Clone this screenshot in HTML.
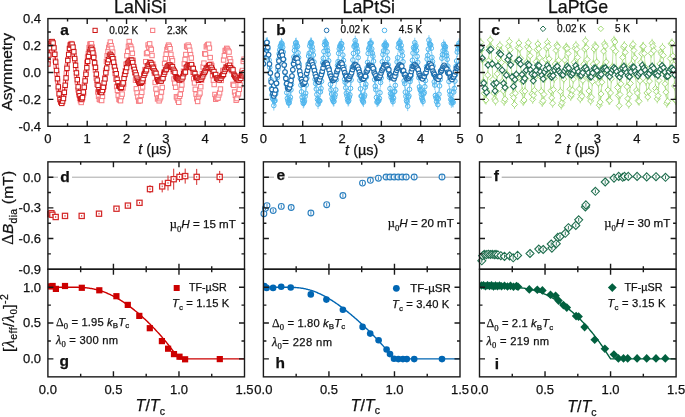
<!DOCTYPE html>
<html><head><meta charset="utf-8"><style>
html,body{margin:0;padding:0;background:#fff;width:685px;height:417px;overflow:hidden}
svg{display:block;font-family:"Liberation Sans",sans-serif;will-change:transform}
</style></head><body><svg width="685" height="417" viewBox="0 0 685 417"><defs><clipPath id="c01"><rect x="47.9" y="18.6" width="196.6" height="107.7"/></clipPath><clipPath id="c02"><rect x="47.9" y="161.85" width="196.6" height="107.4"/></clipPath><clipPath id="c03"><rect x="47.9" y="269.25" width="196.6" height="107.6"/></clipPath><clipPath id="c11"><rect x="263.4" y="18.6" width="196.6" height="107.7"/></clipPath><clipPath id="c12"><rect x="263.4" y="161.85" width="196.6" height="107.4"/></clipPath><clipPath id="c13"><rect x="263.4" y="269.25" width="196.6" height="107.6"/></clipPath><clipPath id="c21"><rect x="479.5" y="18.6" width="196.6" height="107.7"/></clipPath><clipPath id="c22"><rect x="479.5" y="161.85" width="196.6" height="107.4"/></clipPath><clipPath id="c23"><rect x="479.5" y="269.25" width="196.6" height="107.6"/></clipPath></defs><rect width="685" height="417" fill="#fff"/><g clip-path="url(#c01)"><rect x="46.01" y="58.89" width="4.4" height="4.4" fill="#fff" stroke="#f77c82" stroke-width="1.0"/><rect x="46.8" y="52.33" width="4.4" height="4.4" fill="#fff" stroke="#f77c82" stroke-width="1.0"/><rect x="47.59" y="47.61" width="4.4" height="4.4" fill="#fff" stroke="#f77c82" stroke-width="1.0"/><rect x="48.37" y="44.4" width="4.4" height="4.4" fill="#fff" stroke="#f77c82" stroke-width="1.0"/><rect x="49.16" y="42.02" width="4.4" height="4.4" fill="#fff" stroke="#f77c82" stroke-width="1.0"/><rect x="49.95" y="42.29" width="4.4" height="4.4" fill="#fff" stroke="#f77c82" stroke-width="1.0"/><rect x="50.73" y="43.07" width="4.4" height="4.4" fill="#fff" stroke="#f77c82" stroke-width="1.0"/><rect x="51.52" y="45.38" width="4.4" height="4.4" fill="#fff" stroke="#f77c82" stroke-width="1.0"/><rect x="52.31" y="51.86" width="4.4" height="4.4" fill="#fff" stroke="#f77c82" stroke-width="1.0"/><rect x="53.09" y="58.09" width="4.4" height="4.4" fill="#fff" stroke="#f77c82" stroke-width="1.0"/><rect x="53.88" y="64.08" width="4.4" height="4.4" fill="#fff" stroke="#f77c82" stroke-width="1.0"/><rect x="54.66" y="71.5" width="4.4" height="4.4" fill="#fff" stroke="#f77c82" stroke-width="1.0"/><rect x="55.45" y="78.92" width="4.4" height="4.4" fill="#fff" stroke="#f77c82" stroke-width="1.0"/><rect x="56.24" y="86.47" width="4.4" height="4.4" fill="#fff" stroke="#f77c82" stroke-width="1.0"/><rect x="57.02" y="91.34" width="4.4" height="4.4" fill="#fff" stroke="#f77c82" stroke-width="1.0"/><rect x="57.81" y="94.99" width="4.4" height="4.4" fill="#fff" stroke="#f77c82" stroke-width="1.0"/><rect x="58.6" y="99.5" width="4.4" height="4.4" fill="#fff" stroke="#f77c82" stroke-width="1.0"/><rect x="59.38" y="99.59" width="4.4" height="4.4" fill="#fff" stroke="#f77c82" stroke-width="1.0"/><rect x="60.17" y="99.92" width="4.4" height="4.4" fill="#fff" stroke="#f77c82" stroke-width="1.0"/><rect x="60.96" y="96.61" width="4.4" height="4.4" fill="#fff" stroke="#f77c82" stroke-width="1.0"/><rect x="61.74" y="92.75" width="4.4" height="4.4" fill="#fff" stroke="#f77c82" stroke-width="1.0"/><rect x="62.53" y="85.56" width="4.4" height="4.4" fill="#fff" stroke="#f77c82" stroke-width="1.0"/><rect x="63.32" y="79.85" width="4.4" height="4.4" fill="#fff" stroke="#f77c82" stroke-width="1.0"/><rect x="64.1" y="71.2" width="4.4" height="4.4" fill="#fff" stroke="#f77c82" stroke-width="1.0"/><rect x="64.89" y="64.02" width="4.4" height="4.4" fill="#fff" stroke="#f77c82" stroke-width="1.0"/><rect x="65.67" y="57.44" width="4.4" height="4.4" fill="#fff" stroke="#f77c82" stroke-width="1.0"/><rect x="66.46" y="53.59" width="4.4" height="4.4" fill="#fff" stroke="#f77c82" stroke-width="1.0"/><rect x="67.25" y="46.87" width="4.4" height="4.4" fill="#fff" stroke="#f77c82" stroke-width="1.0"/><rect x="68.03" y="43.09" width="4.4" height="4.4" fill="#fff" stroke="#f77c82" stroke-width="1.0"/><rect x="68.82" y="41.37" width="4.4" height="4.4" fill="#fff" stroke="#f77c82" stroke-width="1.0"/><rect x="69.61" y="43.25" width="4.4" height="4.4" fill="#fff" stroke="#f77c82" stroke-width="1.0"/><rect x="70.39" y="44.33" width="4.4" height="4.4" fill="#fff" stroke="#f77c82" stroke-width="1.0"/><rect x="71.18" y="48.62" width="4.4" height="4.4" fill="#fff" stroke="#f77c82" stroke-width="1.0"/><rect x="71.97" y="53.7" width="4.4" height="4.4" fill="#fff" stroke="#f77c82" stroke-width="1.0"/><rect x="72.75" y="58.19" width="4.4" height="4.4" fill="#fff" stroke="#f77c82" stroke-width="1.0"/><rect x="73.54" y="67.11" width="4.4" height="4.4" fill="#fff" stroke="#f77c82" stroke-width="1.0"/><rect x="74.32" y="73.64" width="4.4" height="4.4" fill="#fff" stroke="#f77c82" stroke-width="1.0"/><rect x="75.11" y="79.8" width="4.4" height="4.4" fill="#fff" stroke="#f77c82" stroke-width="1.0"/><rect x="75.9" y="87.7" width="4.4" height="4.4" fill="#fff" stroke="#f77c82" stroke-width="1.0"/><rect x="76.68" y="92.56" width="4.4" height="4.4" fill="#fff" stroke="#f77c82" stroke-width="1.0"/><rect x="77.47" y="96.24" width="4.4" height="4.4" fill="#fff" stroke="#f77c82" stroke-width="1.0"/><rect x="78.26" y="98.52" width="4.4" height="4.4" fill="#fff" stroke="#f77c82" stroke-width="1.0"/><rect x="79.04" y="100.27" width="4.4" height="4.4" fill="#fff" stroke="#f77c82" stroke-width="1.0"/><rect x="79.83" y="97.5" width="4.4" height="4.4" fill="#fff" stroke="#f77c82" stroke-width="1.0"/><rect x="80.62" y="92.98" width="4.4" height="4.4" fill="#fff" stroke="#f77c82" stroke-width="1.0"/><rect x="81.4" y="91.31" width="4.4" height="4.4" fill="#fff" stroke="#f77c82" stroke-width="1.0"/><rect x="82.19" y="82.81" width="4.4" height="4.4" fill="#fff" stroke="#f77c82" stroke-width="1.0"/><rect x="82.98" y="76.76" width="4.4" height="4.4" fill="#fff" stroke="#f77c82" stroke-width="1.0"/><rect x="83.76" y="70.33" width="4.4" height="4.4" fill="#fff" stroke="#f77c82" stroke-width="1.0"/><rect x="84.55" y="60.29" width="4.4" height="4.4" fill="#fff" stroke="#f77c82" stroke-width="1.0"/><rect x="85.33" y="54.91" width="4.4" height="4.4" fill="#fff" stroke="#f77c82" stroke-width="1.0"/><rect x="86.12" y="51.27" width="4.4" height="4.4" fill="#fff" stroke="#f77c82" stroke-width="1.0"/><rect x="86.91" y="45.42" width="4.4" height="4.4" fill="#fff" stroke="#f77c82" stroke-width="1.0"/><rect x="87.69" y="41.99" width="4.4" height="4.4" fill="#fff" stroke="#f77c82" stroke-width="1.0"/><rect x="88.48" y="41.73" width="4.4" height="4.4" fill="#fff" stroke="#f77c82" stroke-width="1.0"/><rect x="89.27" y="41.5" width="4.4" height="4.4" fill="#fff" stroke="#f77c82" stroke-width="1.0"/><rect x="90.05" y="44.86" width="4.4" height="4.4" fill="#fff" stroke="#f77c82" stroke-width="1.0"/><rect x="90.84" y="48.2" width="4.4" height="4.4" fill="#fff" stroke="#f77c82" stroke-width="1.0"/><rect x="91.63" y="52.85" width="4.4" height="4.4" fill="#fff" stroke="#f77c82" stroke-width="1.0"/><rect x="92.41" y="61.76" width="4.4" height="4.4" fill="#fff" stroke="#f77c82" stroke-width="1.0"/><rect x="93.2" y="67.89" width="4.4" height="4.4" fill="#fff" stroke="#f77c82" stroke-width="1.0"/><rect x="93.98" y="75.9" width="4.4" height="4.4" fill="#fff" stroke="#f77c82" stroke-width="1.0"/><rect x="94.77" y="82.14" width="4.4" height="4.4" fill="#fff" stroke="#f77c82" stroke-width="1.0"/><rect x="95.56" y="89.8" width="4.4" height="4.4" fill="#fff" stroke="#f77c82" stroke-width="1.0"/><rect x="96.34" y="94.08" width="4.4" height="4.4" fill="#fff" stroke="#f77c82" stroke-width="1.0"/><rect x="97.13" y="97.13" width="4.4" height="4.4" fill="#fff" stroke="#f77c82" stroke-width="1.0"/><rect x="97.92" y="97.63" width="4.4" height="4.4" fill="#fff" stroke="#f77c82" stroke-width="1.0"/><rect x="98.7" y="97.29" width="4.4" height="4.4" fill="#fff" stroke="#f77c82" stroke-width="1.0"/><rect x="99.49" y="98.33" width="4.4" height="4.4" fill="#fff" stroke="#f77c82" stroke-width="1.0"/><rect x="100.28" y="94.15" width="4.4" height="4.4" fill="#fff" stroke="#f77c82" stroke-width="1.0"/><rect x="101.06" y="87.41" width="4.4" height="4.4" fill="#fff" stroke="#f77c82" stroke-width="1.0"/><rect x="101.85" y="84.38" width="4.4" height="4.4" fill="#fff" stroke="#f77c82" stroke-width="1.0"/><rect x="102.64" y="75.64" width="4.4" height="4.4" fill="#fff" stroke="#f77c82" stroke-width="1.0"/><rect x="103.42" y="67.97" width="4.4" height="4.4" fill="#fff" stroke="#f77c82" stroke-width="1.0"/><rect x="104.21" y="59.27" width="4.4" height="4.4" fill="#fff" stroke="#f77c82" stroke-width="1.0"/><rect x="104.99" y="53.49" width="4.4" height="4.4" fill="#fff" stroke="#f77c82" stroke-width="1.0"/><rect x="105.78" y="49.29" width="4.4" height="4.4" fill="#fff" stroke="#f77c82" stroke-width="1.0"/><rect x="106.57" y="45.28" width="4.4" height="4.4" fill="#fff" stroke="#f77c82" stroke-width="1.0"/><rect x="107.35" y="42.71" width="4.4" height="4.4" fill="#fff" stroke="#f77c82" stroke-width="1.0"/><rect x="108.14" y="39.88" width="4.4" height="4.4" fill="#fff" stroke="#f77c82" stroke-width="1.0"/><rect x="108.93" y="43.47" width="4.4" height="4.4" fill="#fff" stroke="#f77c82" stroke-width="1.0"/><rect x="109.71" y="46.25" width="4.4" height="4.4" fill="#fff" stroke="#f77c82" stroke-width="1.0"/><rect x="110.5" y="49.92" width="4.4" height="4.4" fill="#fff" stroke="#f77c82" stroke-width="1.0"/><rect x="111.29" y="56.28" width="4.4" height="4.4" fill="#fff" stroke="#f77c82" stroke-width="1.0"/><rect x="112.07" y="63.04" width="4.4" height="4.4" fill="#fff" stroke="#f77c82" stroke-width="1.0"/><rect x="112.86" y="71.33" width="4.4" height="4.4" fill="#fff" stroke="#f77c82" stroke-width="1.0"/><rect x="113.64" y="77.09" width="4.4" height="4.4" fill="#fff" stroke="#f77c82" stroke-width="1.0"/><rect x="114.43" y="84.34" width="4.4" height="4.4" fill="#fff" stroke="#f77c82" stroke-width="1.0"/><rect x="115.22" y="88.12" width="4.4" height="4.4" fill="#fff" stroke="#f77c82" stroke-width="1.0"/><rect x="116" y="93.36" width="4.4" height="4.4" fill="#fff" stroke="#f77c82" stroke-width="1.0"/><rect x="116.79" y="97.28" width="4.4" height="4.4" fill="#fff" stroke="#f77c82" stroke-width="1.0"/><rect x="117.58" y="97.7" width="4.4" height="4.4" fill="#fff" stroke="#f77c82" stroke-width="1.0"/><rect x="118.36" y="98.52" width="4.4" height="4.4" fill="#fff" stroke="#f77c82" stroke-width="1.0"/><rect x="119.15" y="94.41" width="4.4" height="4.4" fill="#fff" stroke="#f77c82" stroke-width="1.0"/><rect x="119.94" y="91.89" width="4.4" height="4.4" fill="#fff" stroke="#f77c82" stroke-width="1.0"/><rect x="120.72" y="85.81" width="4.4" height="4.4" fill="#fff" stroke="#f77c82" stroke-width="1.0"/><rect x="121.51" y="81.96" width="4.4" height="4.4" fill="#fff" stroke="#f77c82" stroke-width="1.0"/><rect x="122.3" y="72.81" width="4.4" height="4.4" fill="#fff" stroke="#f77c82" stroke-width="1.0"/><rect x="123.08" y="68.37" width="4.4" height="4.4" fill="#fff" stroke="#f77c82" stroke-width="1.0"/><rect x="123.87" y="61.96" width="4.4" height="4.4" fill="#fff" stroke="#f77c82" stroke-width="1.0"/><rect x="124.65" y="53.46" width="4.4" height="4.4" fill="#fff" stroke="#f77c82" stroke-width="1.0"/><rect x="125.44" y="49.2" width="4.4" height="4.4" fill="#fff" stroke="#f77c82" stroke-width="1.0"/><rect x="126.23" y="44.13" width="4.4" height="4.4" fill="#fff" stroke="#f77c82" stroke-width="1.0"/><rect x="127.01" y="39.31" width="4.4" height="4.4" fill="#fff" stroke="#f77c82" stroke-width="1.0"/><rect x="127.8" y="43.33" width="4.4" height="4.4" fill="#fff" stroke="#f77c82" stroke-width="1.0"/><rect x="128.59" y="44.66" width="4.4" height="4.4" fill="#fff" stroke="#f77c82" stroke-width="1.0"/><rect x="129.37" y="46.83" width="4.4" height="4.4" fill="#fff" stroke="#f77c82" stroke-width="1.0"/><rect x="130.16" y="51.21" width="4.4" height="4.4" fill="#fff" stroke="#f77c82" stroke-width="1.0"/><rect x="130.95" y="58.09" width="4.4" height="4.4" fill="#fff" stroke="#f77c82" stroke-width="1.0"/><rect x="131.73" y="64.88" width="4.4" height="4.4" fill="#fff" stroke="#f77c82" stroke-width="1.0"/><rect x="132.52" y="70.71" width="4.4" height="4.4" fill="#fff" stroke="#f77c82" stroke-width="1.0"/><rect x="133.3" y="77.96" width="4.4" height="4.4" fill="#fff" stroke="#f77c82" stroke-width="1.0"/><rect x="134.09" y="86.6" width="4.4" height="4.4" fill="#fff" stroke="#f77c82" stroke-width="1.0"/><rect x="134.88" y="90.74" width="4.4" height="4.4" fill="#fff" stroke="#f77c82" stroke-width="1.0"/><rect x="135.66" y="94.76" width="4.4" height="4.4" fill="#fff" stroke="#f77c82" stroke-width="1.0"/><rect x="136.45" y="98.92" width="4.4" height="4.4" fill="#fff" stroke="#f77c82" stroke-width="1.0"/><rect x="137.24" y="97.9" width="4.4" height="4.4" fill="#fff" stroke="#f77c82" stroke-width="1.0"/><rect x="138.02" y="98.57" width="4.4" height="4.4" fill="#fff" stroke="#f77c82" stroke-width="1.0"/><rect x="138.81" y="93.25" width="4.4" height="4.4" fill="#fff" stroke="#f77c82" stroke-width="1.0"/><rect x="139.6" y="90.15" width="4.4" height="4.4" fill="#fff" stroke="#f77c82" stroke-width="1.0"/><rect x="140.38" y="84.78" width="4.4" height="4.4" fill="#fff" stroke="#f77c82" stroke-width="1.0"/><rect x="141.17" y="79.32" width="4.4" height="4.4" fill="#fff" stroke="#f77c82" stroke-width="1.0"/><rect x="141.96" y="71.66" width="4.4" height="4.4" fill="#fff" stroke="#f77c82" stroke-width="1.0"/><rect x="142.74" y="67.38" width="4.4" height="4.4" fill="#fff" stroke="#f77c82" stroke-width="1.0"/><rect x="143.53" y="59.45" width="4.4" height="4.4" fill="#fff" stroke="#f77c82" stroke-width="1.0"/><rect x="144.31" y="51.39" width="4.4" height="4.4" fill="#fff" stroke="#f77c82" stroke-width="1.0"/><rect x="145.1" y="50.42" width="4.4" height="4.4" fill="#fff" stroke="#f77c82" stroke-width="1.0"/><rect x="145.89" y="42.79" width="4.4" height="4.4" fill="#fff" stroke="#f77c82" stroke-width="1.0"/><rect x="146.67" y="45.16" width="4.4" height="4.4" fill="#fff" stroke="#f77c82" stroke-width="1.0"/><rect x="147.46" y="41.67" width="4.4" height="4.4" fill="#fff" stroke="#f77c82" stroke-width="1.0"/><rect x="148.25" y="46.11" width="4.4" height="4.4" fill="#fff" stroke="#f77c82" stroke-width="1.0"/><rect x="149.03" y="47.3" width="4.4" height="4.4" fill="#fff" stroke="#f77c82" stroke-width="1.0"/><rect x="149.82" y="53.31" width="4.4" height="4.4" fill="#fff" stroke="#f77c82" stroke-width="1.0"/><rect x="150.61" y="61.96" width="4.4" height="4.4" fill="#fff" stroke="#f77c82" stroke-width="1.0"/><rect x="151.39" y="64.48" width="4.4" height="4.4" fill="#fff" stroke="#f77c82" stroke-width="1.0"/><rect x="152.18" y="71.19" width="4.4" height="4.4" fill="#fff" stroke="#f77c82" stroke-width="1.0"/><rect x="152.96" y="80.31" width="4.4" height="4.4" fill="#fff" stroke="#f77c82" stroke-width="1.0"/><rect x="153.75" y="86.79" width="4.4" height="4.4" fill="#fff" stroke="#f77c82" stroke-width="1.0"/><rect x="154.54" y="91.73" width="4.4" height="4.4" fill="#fff" stroke="#f77c82" stroke-width="1.0"/><rect x="155.32" y="96.75" width="4.4" height="4.4" fill="#fff" stroke="#f77c82" stroke-width="1.0"/><rect x="156.11" y="95.66" width="4.4" height="4.4" fill="#fff" stroke="#f77c82" stroke-width="1.0"/><rect x="156.9" y="98.63" width="4.4" height="4.4" fill="#fff" stroke="#f77c82" stroke-width="1.0"/><rect x="157.68" y="96.5" width="4.4" height="4.4" fill="#fff" stroke="#f77c82" stroke-width="1.0"/><rect x="158.47" y="94.64" width="4.4" height="4.4" fill="#fff" stroke="#f77c82" stroke-width="1.0"/><rect x="159.26" y="89.87" width="4.4" height="4.4" fill="#fff" stroke="#f77c82" stroke-width="1.0"/><rect x="160.04" y="85.21" width="4.4" height="4.4" fill="#fff" stroke="#f77c82" stroke-width="1.0"/><rect x="160.83" y="74.65" width="4.4" height="4.4" fill="#fff" stroke="#f77c82" stroke-width="1.0"/><rect x="161.62" y="69.99" width="4.4" height="4.4" fill="#fff" stroke="#f77c82" stroke-width="1.0"/><rect x="162.4" y="61.31" width="4.4" height="4.4" fill="#fff" stroke="#f77c82" stroke-width="1.0"/><rect x="163.19" y="56.45" width="4.4" height="4.4" fill="#fff" stroke="#f77c82" stroke-width="1.0"/><rect x="163.97" y="52.09" width="4.4" height="4.4" fill="#fff" stroke="#f77c82" stroke-width="1.0"/><rect x="164.76" y="47.24" width="4.4" height="4.4" fill="#fff" stroke="#f77c82" stroke-width="1.0"/><rect x="165.55" y="44.88" width="4.4" height="4.4" fill="#fff" stroke="#f77c82" stroke-width="1.0"/><rect x="166.33" y="42.89" width="4.4" height="4.4" fill="#fff" stroke="#f77c82" stroke-width="1.0"/><rect x="167.12" y="44.22" width="4.4" height="4.4" fill="#fff" stroke="#f77c82" stroke-width="1.0"/><rect x="167.91" y="46.5" width="4.4" height="4.4" fill="#fff" stroke="#f77c82" stroke-width="1.0"/><rect x="168.69" y="52.23" width="4.4" height="4.4" fill="#fff" stroke="#f77c82" stroke-width="1.0"/><rect x="169.48" y="56.53" width="4.4" height="4.4" fill="#fff" stroke="#f77c82" stroke-width="1.0"/><rect x="170.27" y="58.65" width="4.4" height="4.4" fill="#fff" stroke="#f77c82" stroke-width="1.0"/><rect x="171.05" y="69.28" width="4.4" height="4.4" fill="#fff" stroke="#f77c82" stroke-width="1.0"/><rect x="171.84" y="76.8" width="4.4" height="4.4" fill="#fff" stroke="#f77c82" stroke-width="1.0"/><rect x="172.62" y="81.04" width="4.4" height="4.4" fill="#fff" stroke="#f77c82" stroke-width="1.0"/><rect x="173.41" y="85.06" width="4.4" height="4.4" fill="#fff" stroke="#f77c82" stroke-width="1.0"/><rect x="174.2" y="94.6" width="4.4" height="4.4" fill="#fff" stroke="#f77c82" stroke-width="1.0"/><rect x="174.98" y="95.81" width="4.4" height="4.4" fill="#fff" stroke="#f77c82" stroke-width="1.0"/><rect x="175.77" y="98.22" width="4.4" height="4.4" fill="#fff" stroke="#f77c82" stroke-width="1.0"/><rect x="176.56" y="100.11" width="4.4" height="4.4" fill="#fff" stroke="#f77c82" stroke-width="1.0"/><rect x="177.34" y="94.09" width="4.4" height="4.4" fill="#fff" stroke="#f77c82" stroke-width="1.0"/><rect x="178.13" y="92.03" width="4.4" height="4.4" fill="#fff" stroke="#f77c82" stroke-width="1.0"/><rect x="178.92" y="87.12" width="4.4" height="4.4" fill="#fff" stroke="#f77c82" stroke-width="1.0"/><rect x="179.7" y="82.71" width="4.4" height="4.4" fill="#fff" stroke="#f77c82" stroke-width="1.0"/><rect x="180.49" y="74.09" width="4.4" height="4.4" fill="#fff" stroke="#f77c82" stroke-width="1.0"/><rect x="181.28" y="68.99" width="4.4" height="4.4" fill="#fff" stroke="#f77c82" stroke-width="1.0"/><rect x="182.06" y="61.64" width="4.4" height="4.4" fill="#fff" stroke="#f77c82" stroke-width="1.0"/><rect x="182.85" y="57.24" width="4.4" height="4.4" fill="#fff" stroke="#f77c82" stroke-width="1.0"/><rect x="183.63" y="52.31" width="4.4" height="4.4" fill="#fff" stroke="#f77c82" stroke-width="1.0"/><rect x="184.42" y="44" width="4.4" height="4.4" fill="#fff" stroke="#f77c82" stroke-width="1.0"/><rect x="185.21" y="44.95" width="4.4" height="4.4" fill="#fff" stroke="#f77c82" stroke-width="1.0"/><rect x="185.99" y="42.93" width="4.4" height="4.4" fill="#fff" stroke="#f77c82" stroke-width="1.0"/><rect x="186.78" y="44.62" width="4.4" height="4.4" fill="#fff" stroke="#f77c82" stroke-width="1.0"/><rect x="187.57" y="48.09" width="4.4" height="4.4" fill="#fff" stroke="#f77c82" stroke-width="1.0"/><rect x="188.35" y="52.43" width="4.4" height="4.4" fill="#fff" stroke="#f77c82" stroke-width="1.0"/><rect x="189.14" y="55.8" width="4.4" height="4.4" fill="#fff" stroke="#f77c82" stroke-width="1.0"/><rect x="189.93" y="63.72" width="4.4" height="4.4" fill="#fff" stroke="#f77c82" stroke-width="1.0"/><rect x="190.71" y="70.15" width="4.4" height="4.4" fill="#fff" stroke="#f77c82" stroke-width="1.0"/><rect x="191.5" y="76.54" width="4.4" height="4.4" fill="#fff" stroke="#f77c82" stroke-width="1.0"/><rect x="192.28" y="80.74" width="4.4" height="4.4" fill="#fff" stroke="#f77c82" stroke-width="1.0"/><rect x="193.07" y="87.1" width="4.4" height="4.4" fill="#fff" stroke="#f77c82" stroke-width="1.0"/><rect x="193.86" y="91.94" width="4.4" height="4.4" fill="#fff" stroke="#f77c82" stroke-width="1.0"/><rect x="194.64" y="96.52" width="4.4" height="4.4" fill="#fff" stroke="#f77c82" stroke-width="1.0"/><rect x="195.43" y="99.27" width="4.4" height="4.4" fill="#fff" stroke="#f77c82" stroke-width="1.0"/><rect x="196.22" y="94.53" width="4.4" height="4.4" fill="#fff" stroke="#f77c82" stroke-width="1.0"/><rect x="197" y="92.36" width="4.4" height="4.4" fill="#fff" stroke="#f77c82" stroke-width="1.0"/><rect x="197.79" y="90.75" width="4.4" height="4.4" fill="#fff" stroke="#f77c82" stroke-width="1.0"/><rect x="198.58" y="84.55" width="4.4" height="4.4" fill="#fff" stroke="#f77c82" stroke-width="1.0"/><rect x="199.36" y="78.18" width="4.4" height="4.4" fill="#fff" stroke="#f77c82" stroke-width="1.0"/><rect x="200.15" y="71.59" width="4.4" height="4.4" fill="#fff" stroke="#f77c82" stroke-width="1.0"/><rect x="200.94" y="64.74" width="4.4" height="4.4" fill="#fff" stroke="#f77c82" stroke-width="1.0"/><rect x="201.72" y="60.9" width="4.4" height="4.4" fill="#fff" stroke="#f77c82" stroke-width="1.0"/><rect x="202.51" y="51.44" width="4.4" height="4.4" fill="#fff" stroke="#f77c82" stroke-width="1.0"/><rect x="203.29" y="51.92" width="4.4" height="4.4" fill="#fff" stroke="#f77c82" stroke-width="1.0"/><rect x="204.08" y="44.55" width="4.4" height="4.4" fill="#fff" stroke="#f77c82" stroke-width="1.0"/><rect x="204.87" y="43.4" width="4.4" height="4.4" fill="#fff" stroke="#f77c82" stroke-width="1.0"/><rect x="205.65" y="42.5" width="4.4" height="4.4" fill="#fff" stroke="#f77c82" stroke-width="1.0"/><rect x="206.44" y="42.07" width="4.4" height="4.4" fill="#fff" stroke="#f77c82" stroke-width="1.0"/><rect x="207.23" y="45.88" width="4.4" height="4.4" fill="#fff" stroke="#f77c82" stroke-width="1.0"/><rect x="208.01" y="55.36" width="4.4" height="4.4" fill="#fff" stroke="#f77c82" stroke-width="1.0"/><rect x="208.8" y="61.94" width="4.4" height="4.4" fill="#fff" stroke="#f77c82" stroke-width="1.0"/><rect x="209.59" y="63.36" width="4.4" height="4.4" fill="#fff" stroke="#f77c82" stroke-width="1.0"/><rect x="210.37" y="73.48" width="4.4" height="4.4" fill="#fff" stroke="#f77c82" stroke-width="1.0"/><rect x="211.16" y="78.03" width="4.4" height="4.4" fill="#fff" stroke="#f77c82" stroke-width="1.0"/><rect x="211.94" y="82.35" width="4.4" height="4.4" fill="#fff" stroke="#f77c82" stroke-width="1.0"/><rect x="212.73" y="92.28" width="4.4" height="4.4" fill="#fff" stroke="#f77c82" stroke-width="1.0"/><rect x="213.52" y="97.07" width="4.4" height="4.4" fill="#fff" stroke="#f77c82" stroke-width="1.0"/><rect x="214.3" y="94.84" width="4.4" height="4.4" fill="#fff" stroke="#f77c82" stroke-width="1.0"/><rect x="215.09" y="96.06" width="4.4" height="4.4" fill="#fff" stroke="#f77c82" stroke-width="1.0"/><rect x="215.88" y="95.77" width="4.4" height="4.4" fill="#fff" stroke="#f77c82" stroke-width="1.0"/><rect x="216.66" y="92.74" width="4.4" height="4.4" fill="#fff" stroke="#f77c82" stroke-width="1.0"/><rect x="217.45" y="90.62" width="4.4" height="4.4" fill="#fff" stroke="#f77c82" stroke-width="1.0"/><rect x="218.24" y="86.84" width="4.4" height="4.4" fill="#fff" stroke="#f77c82" stroke-width="1.0"/><rect x="219.02" y="78.21" width="4.4" height="4.4" fill="#fff" stroke="#f77c82" stroke-width="1.0"/><rect x="219.81" y="73.4" width="4.4" height="4.4" fill="#fff" stroke="#f77c82" stroke-width="1.0"/><rect x="220.6" y="68.26" width="4.4" height="4.4" fill="#fff" stroke="#f77c82" stroke-width="1.0"/><rect x="221.38" y="57.81" width="4.4" height="4.4" fill="#fff" stroke="#f77c82" stroke-width="1.0"/><rect x="222.17" y="53.56" width="4.4" height="4.4" fill="#fff" stroke="#f77c82" stroke-width="1.0"/><rect x="222.95" y="48.31" width="4.4" height="4.4" fill="#fff" stroke="#f77c82" stroke-width="1.0"/><rect x="223.74" y="48.2" width="4.4" height="4.4" fill="#fff" stroke="#f77c82" stroke-width="1.0"/><rect x="224.53" y="46.14" width="4.4" height="4.4" fill="#fff" stroke="#f77c82" stroke-width="1.0"/><rect x="225.31" y="47.07" width="4.4" height="4.4" fill="#fff" stroke="#f77c82" stroke-width="1.0"/><rect x="226.1" y="48.7" width="4.4" height="4.4" fill="#fff" stroke="#f77c82" stroke-width="1.0"/><rect x="226.89" y="49.83" width="4.4" height="4.4" fill="#fff" stroke="#f77c82" stroke-width="1.0"/><rect x="227.67" y="56.46" width="4.4" height="4.4" fill="#fff" stroke="#f77c82" stroke-width="1.0"/><rect x="228.46" y="59.71" width="4.4" height="4.4" fill="#fff" stroke="#f77c82" stroke-width="1.0"/><rect x="229.25" y="65.95" width="4.4" height="4.4" fill="#fff" stroke="#f77c82" stroke-width="1.0"/><rect x="230.03" y="68.88" width="4.4" height="4.4" fill="#fff" stroke="#f77c82" stroke-width="1.0"/><rect x="230.82" y="82.2" width="4.4" height="4.4" fill="#fff" stroke="#f77c82" stroke-width="1.0"/><rect x="231.6" y="83.09" width="4.4" height="4.4" fill="#fff" stroke="#f77c82" stroke-width="1.0"/><rect x="232.39" y="89.81" width="4.4" height="4.4" fill="#fff" stroke="#f77c82" stroke-width="1.0"/><rect x="233.18" y="93.09" width="4.4" height="4.4" fill="#fff" stroke="#f77c82" stroke-width="1.0"/><rect x="233.96" y="98.06" width="4.4" height="4.4" fill="#fff" stroke="#f77c82" stroke-width="1.0"/><rect x="234.75" y="96.36" width="4.4" height="4.4" fill="#fff" stroke="#f77c82" stroke-width="1.0"/><rect x="235.54" y="92.59" width="4.4" height="4.4" fill="#fff" stroke="#f77c82" stroke-width="1.0"/><rect x="236.32" y="91.57" width="4.4" height="4.4" fill="#fff" stroke="#f77c82" stroke-width="1.0"/><rect x="237.11" y="87.11" width="4.4" height="4.4" fill="#fff" stroke="#f77c82" stroke-width="1.0"/><rect x="237.9" y="82.71" width="4.4" height="4.4" fill="#fff" stroke="#f77c82" stroke-width="1.0"/><rect x="238.68" y="73.69" width="4.4" height="4.4" fill="#fff" stroke="#f77c82" stroke-width="1.0"/><rect x="239.47" y="69.89" width="4.4" height="4.4" fill="#fff" stroke="#f77c82" stroke-width="1.0"/><rect x="240.26" y="68.3" width="4.4" height="4.4" fill="#fff" stroke="#f77c82" stroke-width="1.0"/><rect x="241.04" y="59.25" width="4.4" height="4.4" fill="#fff" stroke="#f77c82" stroke-width="1.0"/><rect x="241.83" y="56.99" width="4.4" height="4.4" fill="#fff" stroke="#f77c82" stroke-width="1.0"/><path d="M47.9 62.67L48.15 60.34L48.39 58.08L48.64 55.91L48.88 53.85L49.13 51.9L49.38 50.07L49.62 48.39L49.87 46.86L50.11 45.48L50.36 44.28L50.61 43.24L50.85 42.39L51.1 41.73L51.34 41.26L51.59 40.98L51.84 40.9L52.08 41.01L52.33 41.31L52.58 41.81L52.82 42.5L53.07 43.38L53.31 44.43L53.56 45.66L53.81 47.05L54.05 48.6L54.3 50.29L54.54 52.12L54.79 54.07L55.04 56.14L55.28 58.3L55.53 60.55L55.77 62.87L56.02 65.24L56.27 67.66L56.51 70.11L56.76 72.56L57 75.01L57.25 77.44L57.5 79.84L57.74 82.19L57.99 84.47L58.23 86.67L58.48 88.78L58.73 90.79L58.97 92.68L59.22 94.44L59.46 96.07L59.71 97.54L59.96 98.85L60.2 100L60.45 100.98L60.69 101.77L60.94 102.39L61.19 102.81L61.43 103.05L61.68 103.1L61.93 102.95L62.17 102.62L62.42 102.11L62.66 101.41L62.91 100.53L63.16 99.48L63.4 98.26L63.65 96.89L63.89 95.37L64.14 93.72L64.39 91.93L64.63 90.03L64.88 88.03L65.12 85.93L65.37 83.76L65.62 81.53L65.86 79.24L66.11 76.92L66.35 74.58L66.6 72.23L66.85 69.89L67.09 67.57L67.34 65.29L67.58 63.06L67.83 60.9L68.08 58.82L68.32 56.82L68.57 54.93L68.81 53.16L69.06 51.51L69.31 50L69.55 48.63L69.8 47.41L70.05 46.35L70.29 45.46L70.54 44.74L70.78 44.19L71.03 43.82L71.28 43.62L71.52 43.61L71.77 43.78L72.01 44.12L72.26 44.63L72.51 45.32L72.75 46.17L73 47.18L73.24 48.35L73.49 49.66L73.74 51.1L73.98 52.67L74.23 54.35L74.47 56.15L74.72 58.03L74.97 59.99L75.21 62.03L75.46 64.12L75.7 66.25L75.95 68.41L76.2 70.59L76.44 72.77L76.69 74.93L76.93 77.07L77.18 79.18L77.43 81.23L77.67 83.21L77.92 85.12L78.17 86.95L78.41 88.67L78.66 90.29L78.9 91.79L79.15 93.16L79.4 94.4L79.64 95.49L79.89 96.44L80.13 97.23L80.38 97.87L80.63 98.34L80.87 98.66L81.12 98.8L81.36 98.79L81.61 98.61L81.86 98.27L82.1 97.78L82.35 97.13L82.59 96.33L82.84 95.38L83.09 94.3L83.33 93.09L83.58 91.76L83.82 90.32L84.07 88.77L84.32 87.14L84.56 85.42L84.81 83.63L85.05 81.78L85.3 79.88L85.55 77.95L85.79 76L86.04 74.03L86.28 72.07L86.53 70.12L86.78 68.2L87.02 66.31L87.27 64.47L87.52 62.7L87.76 60.99L88.01 59.37L88.25 57.84L88.5 56.4L88.75 55.08L88.99 53.87L89.24 52.78L89.48 51.82L89.73 51L89.98 50.31L90.22 49.77L90.47 49.36L90.71 49.11L90.96 49L91.21 49.03L91.45 49.21L91.7 49.53L91.94 50L92.19 50.59L92.44 51.32L92.68 52.18L92.93 53.15L93.17 54.24L93.42 55.43L93.67 56.72L93.91 58.1L94.16 59.56L94.4 61.09L94.65 62.68L94.9 64.31L95.14 65.99L95.39 67.69L95.64 69.42L95.88 71.15L96.13 72.87L96.37 74.58L96.62 76.27L96.87 77.92L97.11 79.52L97.36 81.07L97.6 82.56L97.85 83.97L98.1 85.3L98.34 86.54L98.59 87.69L98.83 88.73L99.08 89.66L99.33 90.49L99.57 91.19L99.82 91.77L100.06 92.23L100.31 92.57L100.56 92.77L100.8 92.85L101.05 92.81L101.29 92.63L101.54 92.34L101.79 91.92L102.03 91.39L102.28 90.74L102.52 89.98L102.77 89.13L103.02 88.17L103.26 87.13L103.51 86L103.76 84.8L104 83.53L104.25 82.2L104.49 80.82L104.74 79.4L104.99 77.95L105.23 76.48L105.48 74.99L105.72 73.5L105.97 72.01L106.22 70.54L106.46 69.09L106.71 67.68L106.95 66.3L107.2 64.97L107.45 63.7L107.69 62.5L107.94 61.36L108.18 60.3L108.43 59.33L108.68 58.44L108.92 57.65L109.17 56.96L109.41 56.36L109.66 55.87L109.91 55.49L110.15 55.22L110.4 55.05L110.64 55L110.89 55.05L111.14 55.2L111.38 55.47L111.63 55.83L111.87 56.3L112.12 56.86L112.37 57.52L112.61 58.26L112.86 59.08L113.11 59.98L113.35 60.95L113.6 61.98L113.84 63.06L114.09 64.2L114.34 65.38L114.58 66.59L114.83 67.83L115.07 69.08L115.32 70.35L115.57 71.62L115.81 72.89L116.06 74.14L116.3 75.37L116.55 76.57L116.8 77.74L117.04 78.86L117.29 79.94L117.53 80.96L117.78 81.92L118.03 82.81L118.27 83.63L118.52 84.38L118.76 85.04L119.01 85.63L119.26 86.12L119.5 86.53L119.75 86.85L119.99 87.08L120.24 87.21L120.49 87.25L120.73 87.2L120.98 87.06L121.23 86.83L121.47 86.52L121.72 86.12L121.96 85.63L122.21 85.08L122.46 84.44L122.7 83.74L122.95 82.98L123.19 82.16L123.44 81.28L123.69 80.36L123.93 79.39L124.18 78.39L124.42 77.36L124.67 76.31L124.92 75.25L125.16 74.17L125.41 73.1L125.65 72.03L125.9 70.97L126.15 69.93L126.39 68.91L126.64 67.92L126.88 66.97L127.13 66.06L127.38 65.2L127.62 64.39L127.87 63.63L128.11 62.94L128.36 62.31L128.61 61.75L128.85 61.26L129.1 60.84L129.35 60.49L129.59 60.23L129.84 60.04L130.08 59.92L130.33 59.89L130.58 59.94L130.82 60.06L131.07 60.25L131.31 60.52L131.56 60.86L131.81 61.27L132.05 61.75L132.3 62.29L132.54 62.88L132.79 63.54L133.04 64.24L133.28 64.98L133.53 65.77L133.77 66.59L134.02 67.44L134.27 68.31L134.51 69.21L134.76 70.11L135 71.03L135.25 71.94L135.5 72.85L135.74 73.76L135.99 74.64L136.23 75.51L136.48 76.35L136.73 77.16L136.97 77.94L137.22 78.68L137.46 79.37L137.71 80.01L137.96 80.61L138.2 81.15L138.45 81.63L138.7 82.05L138.94 82.41L139.19 82.7L139.43 82.93L139.68 83.09L139.93 83.19L140.17 83.22L140.42 83.18L140.66 83.08L140.91 82.91L141.16 82.68L141.4 82.39L141.65 82.04L141.89 81.63L142.14 81.17L142.39 80.66L142.63 80.1L142.88 79.49L143.12 78.85L143.37 78.18L143.62 77.47L143.86 76.74L144.11 75.98L144.35 75.21L144.6 74.43L144.85 73.64L145.09 72.85L145.34 72.06L145.58 71.28L145.83 70.51L146.08 69.76L146.32 69.03L146.57 68.33L146.82 67.65L147.06 67.01L147.31 66.41L147.55 65.85L147.8 65.33L148.05 64.86L148.29 64.44L148.54 64.07L148.78 63.76L149.03 63.5L149.28 63.3L149.52 63.15L149.77 63.06L150.01 63.04L150.26 63.07L150.51 63.15L150.75 63.3L151 63.5L151.24 63.75L151.49 64.06L151.74 64.41L151.98 64.81L152.23 65.26L152.47 65.75L152.72 66.28L152.97 66.84L153.21 67.43L153.46 68.06L153.7 68.7L153.95 69.36L154.2 70.04L154.44 70.73L154.69 71.43L154.94 72.13L155.18 72.83L155.43 73.52L155.67 74.2L155.92 74.87L156.17 75.52L156.41 76.15L156.66 76.75L156.9 77.32L157.15 77.85L157.4 78.36L157.64 78.82L157.89 79.24L158.13 79.62L158.38 79.95L158.63 80.23L158.87 80.47L159.12 80.65L159.36 80.78L159.61 80.86L159.86 80.89L160.1 80.87L160.35 80.79L160.59 80.67L160.84 80.49L161.09 80.26L161.33 79.99L161.58 79.68L161.82 79.32L162.07 78.91L162.32 78.48L162.56 78L162.81 77.49L163.05 76.96L163.3 76.4L163.55 75.82L163.79 75.22L164.04 74.6L164.29 73.98L164.53 73.34L164.78 72.71L165.02 72.07L165.27 71.44L165.52 70.82L165.76 70.21L166.01 69.62L166.25 69.05L166.5 68.5L166.75 67.98L166.99 67.48L167.24 67.02L167.48 66.6L167.73 66.21L167.98 65.86L168.22 65.55L168.47 65.29L168.71 65.07L168.96 64.9L169.21 64.78L169.45 64.7L169.7 64.67L169.94 64.69L170.19 64.76L170.44 64.87L170.68 65.03L170.93 65.24L171.17 65.49L171.42 65.78L171.67 66.11L171.91 66.48L172.16 66.88L172.41 67.32L172.65 67.79L172.9 68.29L173.14 68.8L173.39 69.35L173.64 69.9L173.88 70.48L174.13 71.06L174.37 71.65L174.62 72.24L174.87 72.83L175.11 73.42L175.36 74L175.6 74.57L175.85 75.12L176.1 75.66L176.34 76.18L176.59 76.67L176.83 77.13L177.08 77.57L177.33 77.97L177.57 78.33L177.82 78.66L178.06 78.95L178.31 79.2L178.56 79.41L178.8 79.57L179.05 79.69L179.29 79.77L179.54 79.8L179.79 79.78L180.03 79.72L180.28 79.61L180.53 79.46L180.77 79.27L181.02 79.03L181.26 78.76L181.51 78.45L181.76 78.1L182 77.72L182.25 77.3L182.49 76.86L182.74 76.39L182.99 75.89L183.23 75.38L183.48 74.85L183.72 74.3L183.97 73.75L184.22 73.19L184.46 72.62L184.71 72.06L184.95 71.5L185.2 70.94L185.45 70.4L185.69 69.86L185.94 69.35L186.18 68.86L186.43 68.39L186.68 67.94L186.92 67.52L187.17 67.14L187.41 66.79L187.66 66.47L187.91 66.19L188.15 65.95L188.4 65.75L188.64 65.59L188.89 65.47L189.14 65.4L189.38 65.37L189.63 65.39L189.88 65.45L190.12 65.55L190.37 65.69L190.61 65.88L190.86 66.1L191.11 66.37L191.35 66.67L191.6 67.01L191.84 67.38L192.09 67.78L192.34 68.21L192.58 68.66L192.83 69.14L193.07 69.64L193.32 70.15L193.57 70.68L193.81 71.22L194.06 71.76L194.3 72.31L194.55 72.86L194.8 73.4L195.04 73.94L195.29 74.47L195.53 74.99L195.78 75.49L196.03 75.97L196.27 76.43L196.52 76.86L196.76 77.27L197.01 77.65L197.26 77.99L197.5 78.3L197.75 78.57L198 78.81L198.24 79L198.49 79.16L198.73 79.27L198.98 79.34L199.23 79.37L199.47 79.35L199.72 79.3L199.96 79.2L200.21 79.06L200.46 78.87L200.7 78.65L200.95 78.39L201.19 78.1L201.44 77.77L201.69 77.41L201.93 77.01L202.18 76.59L202.42 76.14L202.67 75.68L202.92 75.19L203.16 74.68L203.41 74.16L203.65 73.64L203.9 73.1L204.15 72.56L204.39 72.02L204.64 71.48L204.88 70.95L205.13 70.43L205.38 69.93L205.62 69.43L205.87 68.96L206.12 68.51L206.36 68.08L206.61 67.68L206.85 67.31L207.1 66.97L207.35 66.67L207.59 66.4L207.84 66.17L208.08 65.98L208.33 65.83L208.58 65.72L208.82 65.65L209.07 65.62L209.31 65.64L209.56 65.69L209.81 65.79L210.05 65.93L210.3 66.11L210.54 66.33L210.79 66.59L211.04 66.88L211.28 67.21L211.53 67.57L211.77 67.96L212.02 68.38L212.27 68.82L212.51 69.28L212.76 69.77L213 70.27L213.25 70.78L213.5 71.3L213.74 71.83L213.99 72.37L214.23 72.9L214.48 73.43L214.73 73.96L214.97 74.47L215.22 74.98L215.47 75.46L215.71 75.93L215.96 76.38L216.2 76.8L216.45 77.2L216.7 77.56L216.94 77.9L217.19 78.2L217.43 78.46L217.68 78.69L217.93 78.88L218.17 79.03L218.42 79.14L218.66 79.2L218.91 79.23L219.16 79.21L219.4 79.15L219.65 79.06L219.89 78.91L220.14 78.73L220.39 78.52L220.63 78.26L220.88 77.97L221.12 77.64L221.37 77.28L221.62 76.89L221.86 76.48L222.11 76.04L222.35 75.58L222.6 75.09L222.85 74.6L223.09 74.09L223.34 73.56L223.59 73.04L223.83 72.51L224.08 71.97L224.32 71.45L224.57 70.92L224.82 70.41L225.06 69.91L225.31 69.43L225.55 68.96L225.8 68.52L226.05 68.1L226.29 67.71L226.54 67.34L226.78 67.01L227.03 66.71L227.28 66.45L227.52 66.23L227.77 66.04L228.01 65.89L228.26 65.78L228.51 65.72L228.75 65.7L229 65.71L229.24 65.77L229.49 65.87L229.74 66.02L229.98 66.2L230.23 66.42L230.47 66.67L230.72 66.97L230.97 67.29L231.21 67.65L231.46 68.04L231.71 68.45L231.95 68.89L232.2 69.36L232.44 69.84L232.69 70.33L232.94 70.84L233.18 71.36L233.43 71.89L233.67 72.42L233.92 72.95L234.17 73.48L234.41 74L234.66 74.51L234.9 75.01L235.15 75.49L235.4 75.95L235.64 76.4L235.89 76.81L236.13 77.2L236.38 77.56L236.63 77.89L236.87 78.19L237.12 78.45L237.36 78.67L237.61 78.86L237.86 79L238.1 79.11L238.35 79.17L238.59 79.19L238.84 79.17L239.09 79.11L239.33 79.01L239.58 78.87L239.82 78.68L240.07 78.46L240.32 78.2L240.56 77.91L240.81 77.58L241.06 77.22L241.3 76.83L241.55 76.42L241.79 75.98L242.04 75.52L242.29 75.03L242.53 74.54L242.78 74.03L243.02 73.51L243.27 72.98L243.52 72.45L243.76 71.92L244.01 71.4L244.25 70.88L244.5 70.37" fill="none" stroke="#cc1414" stroke-width="1.2"/><rect x="45.7" y="61.79" width="4.4" height="4.4" fill="#fff" stroke="#cc1414" stroke-width="1.0"/><rect x="46.57" y="52.85" width="4.4" height="4.4" fill="#fff" stroke="#cc1414" stroke-width="1.0"/><rect x="47.43" y="45.59" width="4.4" height="4.4" fill="#fff" stroke="#cc1414" stroke-width="1.0"/><rect x="48.3" y="41.47" width="4.4" height="4.4" fill="#fff" stroke="#cc1414" stroke-width="1.0"/><rect x="49.16" y="39.52" width="4.4" height="4.4" fill="#fff" stroke="#cc1414" stroke-width="1.0"/><rect x="50.03" y="39.35" width="4.4" height="4.4" fill="#fff" stroke="#cc1414" stroke-width="1.0"/><rect x="50.89" y="40.79" width="4.4" height="4.4" fill="#fff" stroke="#cc1414" stroke-width="1.0"/><rect x="51.76" y="45.71" width="4.4" height="4.4" fill="#fff" stroke="#cc1414" stroke-width="1.0"/><rect x="52.62" y="52.1" width="4.4" height="4.4" fill="#fff" stroke="#cc1414" stroke-width="1.0"/><rect x="53.49" y="59.85" width="4.4" height="4.4" fill="#fff" stroke="#cc1414" stroke-width="1.0"/><rect x="54.35" y="68.27" width="4.4" height="4.4" fill="#fff" stroke="#cc1414" stroke-width="1.0"/><rect x="55.22" y="76.5" width="4.4" height="4.4" fill="#fff" stroke="#cc1414" stroke-width="1.0"/><rect x="56.08" y="84.63" width="4.4" height="4.4" fill="#fff" stroke="#cc1414" stroke-width="1.0"/><rect x="56.95" y="91.64" width="4.4" height="4.4" fill="#fff" stroke="#cc1414" stroke-width="1.0"/><rect x="57.81" y="97.38" width="4.4" height="4.4" fill="#fff" stroke="#cc1414" stroke-width="1.0"/><rect x="58.68" y="99.81" width="4.4" height="4.4" fill="#fff" stroke="#cc1414" stroke-width="1.0"/><rect x="59.54" y="101.19" width="4.4" height="4.4" fill="#fff" stroke="#cc1414" stroke-width="1.0"/><rect x="60.41" y="98.89" width="4.4" height="4.4" fill="#fff" stroke="#cc1414" stroke-width="1.0"/><rect x="61.27" y="96.28" width="4.4" height="4.4" fill="#fff" stroke="#cc1414" stroke-width="1.0"/><rect x="62.14" y="90.17" width="4.4" height="4.4" fill="#fff" stroke="#cc1414" stroke-width="1.0"/><rect x="63" y="83.07" width="4.4" height="4.4" fill="#fff" stroke="#cc1414" stroke-width="1.0"/><rect x="63.87" y="75.74" width="4.4" height="4.4" fill="#fff" stroke="#cc1414" stroke-width="1.0"/><rect x="64.73" y="66.08" width="4.4" height="4.4" fill="#fff" stroke="#cc1414" stroke-width="1.0"/><rect x="65.6" y="58.31" width="4.4" height="4.4" fill="#fff" stroke="#cc1414" stroke-width="1.0"/><rect x="66.46" y="52.28" width="4.4" height="4.4" fill="#fff" stroke="#cc1414" stroke-width="1.0"/><rect x="67.33" y="46.2" width="4.4" height="4.4" fill="#fff" stroke="#cc1414" stroke-width="1.0"/><rect x="68.19" y="42.76" width="4.4" height="4.4" fill="#fff" stroke="#cc1414" stroke-width="1.0"/><rect x="69.06" y="42.7" width="4.4" height="4.4" fill="#fff" stroke="#cc1414" stroke-width="1.0"/><rect x="69.92" y="42" width="4.4" height="4.4" fill="#fff" stroke="#cc1414" stroke-width="1.0"/><rect x="70.79" y="44.96" width="4.4" height="4.4" fill="#fff" stroke="#cc1414" stroke-width="1.0"/><rect x="71.65" y="49.58" width="4.4" height="4.4" fill="#fff" stroke="#cc1414" stroke-width="1.0"/><rect x="72.52" y="56.33" width="4.4" height="4.4" fill="#fff" stroke="#cc1414" stroke-width="1.0"/><rect x="73.38" y="63.11" width="4.4" height="4.4" fill="#fff" stroke="#cc1414" stroke-width="1.0"/><rect x="74.25" y="70.69" width="4.4" height="4.4" fill="#fff" stroke="#cc1414" stroke-width="1.0"/><rect x="75.11" y="77.47" width="4.4" height="4.4" fill="#fff" stroke="#cc1414" stroke-width="1.0"/><rect x="75.98" y="84.66" width="4.4" height="4.4" fill="#fff" stroke="#cc1414" stroke-width="1.0"/><rect x="76.84" y="90.38" width="4.4" height="4.4" fill="#fff" stroke="#cc1414" stroke-width="1.0"/><rect x="77.71" y="93.52" width="4.4" height="4.4" fill="#fff" stroke="#cc1414" stroke-width="1.0"/><rect x="78.57" y="96.63" width="4.4" height="4.4" fill="#fff" stroke="#cc1414" stroke-width="1.0"/><rect x="79.44" y="96.58" width="4.4" height="4.4" fill="#fff" stroke="#cc1414" stroke-width="1.0"/><rect x="80.3" y="95.39" width="4.4" height="4.4" fill="#fff" stroke="#cc1414" stroke-width="1.0"/><rect x="81.17" y="89.89" width="4.4" height="4.4" fill="#fff" stroke="#cc1414" stroke-width="1.0"/><rect x="82.03" y="85" width="4.4" height="4.4" fill="#fff" stroke="#cc1414" stroke-width="1.0"/><rect x="82.9" y="78.77" width="4.4" height="4.4" fill="#fff" stroke="#cc1414" stroke-width="1.0"/><rect x="83.76" y="72.09" width="4.4" height="4.4" fill="#fff" stroke="#cc1414" stroke-width="1.0"/><rect x="84.63" y="65.55" width="4.4" height="4.4" fill="#fff" stroke="#cc1414" stroke-width="1.0"/><rect x="85.49" y="59.15" width="4.4" height="4.4" fill="#fff" stroke="#cc1414" stroke-width="1.0"/><rect x="86.36" y="54.02" width="4.4" height="4.4" fill="#fff" stroke="#cc1414" stroke-width="1.0"/><rect x="87.22" y="49.96" width="4.4" height="4.4" fill="#fff" stroke="#cc1414" stroke-width="1.0"/><rect x="88.09" y="47.42" width="4.4" height="4.4" fill="#fff" stroke="#cc1414" stroke-width="1.0"/><rect x="88.95" y="45.98" width="4.4" height="4.4" fill="#fff" stroke="#cc1414" stroke-width="1.0"/><rect x="89.82" y="47.65" width="4.4" height="4.4" fill="#fff" stroke="#cc1414" stroke-width="1.0"/><rect x="90.68" y="50.79" width="4.4" height="4.4" fill="#fff" stroke="#cc1414" stroke-width="1.0"/><rect x="91.55" y="55.29" width="4.4" height="4.4" fill="#fff" stroke="#cc1414" stroke-width="1.0"/><rect x="92.41" y="60.58" width="4.4" height="4.4" fill="#fff" stroke="#cc1414" stroke-width="1.0"/><rect x="93.28" y="65.2" width="4.4" height="4.4" fill="#fff" stroke="#cc1414" stroke-width="1.0"/><rect x="94.14" y="71.88" width="4.4" height="4.4" fill="#fff" stroke="#cc1414" stroke-width="1.0"/><rect x="95.01" y="77.89" width="4.4" height="4.4" fill="#fff" stroke="#cc1414" stroke-width="1.0"/><rect x="95.87" y="83.18" width="4.4" height="4.4" fill="#fff" stroke="#cc1414" stroke-width="1.0"/><rect x="96.74" y="87.58" width="4.4" height="4.4" fill="#fff" stroke="#cc1414" stroke-width="1.0"/><rect x="97.6" y="89.58" width="4.4" height="4.4" fill="#fff" stroke="#cc1414" stroke-width="1.0"/><rect x="98.47" y="90.11" width="4.4" height="4.4" fill="#fff" stroke="#cc1414" stroke-width="1.0"/><rect x="99.33" y="90.38" width="4.4" height="4.4" fill="#fff" stroke="#cc1414" stroke-width="1.0"/><rect x="100.2" y="88.32" width="4.4" height="4.4" fill="#fff" stroke="#cc1414" stroke-width="1.0"/><rect x="101.06" y="85.06" width="4.4" height="4.4" fill="#fff" stroke="#cc1414" stroke-width="1.0"/><rect x="101.93" y="80.59" width="4.4" height="4.4" fill="#fff" stroke="#cc1414" stroke-width="1.0"/><rect x="102.79" y="76.66" width="4.4" height="4.4" fill="#fff" stroke="#cc1414" stroke-width="1.0"/><rect x="103.66" y="70.63" width="4.4" height="4.4" fill="#fff" stroke="#cc1414" stroke-width="1.0"/><rect x="104.52" y="65.91" width="4.4" height="4.4" fill="#fff" stroke="#cc1414" stroke-width="1.0"/><rect x="105.39" y="60.26" width="4.4" height="4.4" fill="#fff" stroke="#cc1414" stroke-width="1.0"/><rect x="106.25" y="57.51" width="4.4" height="4.4" fill="#fff" stroke="#cc1414" stroke-width="1.0"/><rect x="107.12" y="54.03" width="4.4" height="4.4" fill="#fff" stroke="#cc1414" stroke-width="1.0"/><rect x="107.98" y="52.05" width="4.4" height="4.4" fill="#fff" stroke="#cc1414" stroke-width="1.0"/><rect x="108.85" y="53.13" width="4.4" height="4.4" fill="#fff" stroke="#cc1414" stroke-width="1.0"/><rect x="109.71" y="54.56" width="4.4" height="4.4" fill="#fff" stroke="#cc1414" stroke-width="1.0"/><rect x="110.58" y="56.48" width="4.4" height="4.4" fill="#fff" stroke="#cc1414" stroke-width="1.0"/><rect x="111.44" y="59.98" width="4.4" height="4.4" fill="#fff" stroke="#cc1414" stroke-width="1.0"/><rect x="112.31" y="64.65" width="4.4" height="4.4" fill="#fff" stroke="#cc1414" stroke-width="1.0"/><rect x="113.17" y="68.13" width="4.4" height="4.4" fill="#fff" stroke="#cc1414" stroke-width="1.0"/><rect x="114.04" y="71.55" width="4.4" height="4.4" fill="#fff" stroke="#cc1414" stroke-width="1.0"/><rect x="114.9" y="77.1" width="4.4" height="4.4" fill="#fff" stroke="#cc1414" stroke-width="1.0"/><rect x="115.77" y="80.53" width="4.4" height="4.4" fill="#fff" stroke="#cc1414" stroke-width="1.0"/><rect x="116.63" y="83.69" width="4.4" height="4.4" fill="#fff" stroke="#cc1414" stroke-width="1.0"/><rect x="117.5" y="84.38" width="4.4" height="4.4" fill="#fff" stroke="#cc1414" stroke-width="1.0"/><rect x="118.36" y="85.86" width="4.4" height="4.4" fill="#fff" stroke="#cc1414" stroke-width="1.0"/><rect x="119.23" y="85.1" width="4.4" height="4.4" fill="#fff" stroke="#cc1414" stroke-width="1.0"/><rect x="120.09" y="81.83" width="4.4" height="4.4" fill="#fff" stroke="#cc1414" stroke-width="1.0"/><rect x="120.96" y="80.68" width="4.4" height="4.4" fill="#fff" stroke="#cc1414" stroke-width="1.0"/><rect x="121.82" y="76.1" width="4.4" height="4.4" fill="#fff" stroke="#cc1414" stroke-width="1.0"/><rect x="122.69" y="72.15" width="4.4" height="4.4" fill="#fff" stroke="#cc1414" stroke-width="1.0"/><rect x="123.55" y="69.22" width="4.4" height="4.4" fill="#fff" stroke="#cc1414" stroke-width="1.0"/><rect x="124.42" y="65.43" width="4.4" height="4.4" fill="#fff" stroke="#cc1414" stroke-width="1.0"/><rect x="125.28" y="61.32" width="4.4" height="4.4" fill="#fff" stroke="#cc1414" stroke-width="1.0"/><rect x="126.15" y="60.27" width="4.4" height="4.4" fill="#fff" stroke="#cc1414" stroke-width="1.0"/><rect x="127.01" y="58.87" width="4.4" height="4.4" fill="#fff" stroke="#cc1414" stroke-width="1.0"/><rect x="127.88" y="58.65" width="4.4" height="4.4" fill="#fff" stroke="#cc1414" stroke-width="1.0"/><rect x="128.74" y="57.92" width="4.4" height="4.4" fill="#fff" stroke="#cc1414" stroke-width="1.0"/><rect x="129.61" y="58.06" width="4.4" height="4.4" fill="#fff" stroke="#cc1414" stroke-width="1.0"/><rect x="130.47" y="60.36" width="4.4" height="4.4" fill="#fff" stroke="#cc1414" stroke-width="1.0"/><rect x="131.34" y="64.26" width="4.4" height="4.4" fill="#fff" stroke="#cc1414" stroke-width="1.0"/><rect x="132.2" y="67.21" width="4.4" height="4.4" fill="#fff" stroke="#cc1414" stroke-width="1.0"/><rect x="133.07" y="70.17" width="4.4" height="4.4" fill="#fff" stroke="#cc1414" stroke-width="1.0"/><rect x="133.93" y="72.75" width="4.4" height="4.4" fill="#fff" stroke="#cc1414" stroke-width="1.0"/><rect x="134.8" y="75.97" width="4.4" height="4.4" fill="#fff" stroke="#cc1414" stroke-width="1.0"/><rect x="135.66" y="78.04" width="4.4" height="4.4" fill="#fff" stroke="#cc1414" stroke-width="1.0"/><rect x="136.53" y="79.69" width="4.4" height="4.4" fill="#fff" stroke="#cc1414" stroke-width="1.0"/><rect x="137.39" y="81.06" width="4.4" height="4.4" fill="#fff" stroke="#cc1414" stroke-width="1.0"/><rect x="138.26" y="81" width="4.4" height="4.4" fill="#fff" stroke="#cc1414" stroke-width="1.0"/><rect x="139.12" y="80.14" width="4.4" height="4.4" fill="#fff" stroke="#cc1414" stroke-width="1.0"/><rect x="139.99" y="78.93" width="4.4" height="4.4" fill="#fff" stroke="#cc1414" stroke-width="1.0"/><rect x="140.85" y="76.47" width="4.4" height="4.4" fill="#fff" stroke="#cc1414" stroke-width="1.0"/><rect x="141.72" y="72.99" width="4.4" height="4.4" fill="#fff" stroke="#cc1414" stroke-width="1.0"/><rect x="142.58" y="71.2" width="4.4" height="4.4" fill="#fff" stroke="#cc1414" stroke-width="1.0"/><rect x="143.45" y="68.83" width="4.4" height="4.4" fill="#fff" stroke="#cc1414" stroke-width="1.0"/><rect x="144.31" y="67.53" width="4.4" height="4.4" fill="#fff" stroke="#cc1414" stroke-width="1.0"/><rect x="145.18" y="63.75" width="4.4" height="4.4" fill="#fff" stroke="#cc1414" stroke-width="1.0"/><rect x="146.04" y="63.77" width="4.4" height="4.4" fill="#fff" stroke="#cc1414" stroke-width="1.0"/><rect x="146.91" y="62.28" width="4.4" height="4.4" fill="#fff" stroke="#cc1414" stroke-width="1.0"/><rect x="147.77" y="60.19" width="4.4" height="4.4" fill="#fff" stroke="#cc1414" stroke-width="1.0"/><rect x="148.64" y="60.63" width="4.4" height="4.4" fill="#fff" stroke="#cc1414" stroke-width="1.0"/><rect x="149.5" y="62.28" width="4.4" height="4.4" fill="#fff" stroke="#cc1414" stroke-width="1.0"/><rect x="150.37" y="65.05" width="4.4" height="4.4" fill="#fff" stroke="#cc1414" stroke-width="1.0"/><rect x="151.23" y="66.08" width="4.4" height="4.4" fill="#fff" stroke="#cc1414" stroke-width="1.0"/><rect x="152.1" y="68.65" width="4.4" height="4.4" fill="#fff" stroke="#cc1414" stroke-width="1.0"/><rect x="152.96" y="70.09" width="4.4" height="4.4" fill="#fff" stroke="#cc1414" stroke-width="1.0"/><rect x="153.83" y="71.22" width="4.4" height="4.4" fill="#fff" stroke="#cc1414" stroke-width="1.0"/><rect x="154.7" y="74.93" width="4.4" height="4.4" fill="#fff" stroke="#cc1414" stroke-width="1.0"/><rect x="155.56" y="77.43" width="4.4" height="4.4" fill="#fff" stroke="#cc1414" stroke-width="1.0"/><rect x="156.43" y="78.95" width="4.4" height="4.4" fill="#fff" stroke="#cc1414" stroke-width="1.0"/><rect x="157.29" y="78.67" width="4.4" height="4.4" fill="#fff" stroke="#cc1414" stroke-width="1.0"/><rect x="158.16" y="78.73" width="4.4" height="4.4" fill="#fff" stroke="#cc1414" stroke-width="1.0"/><rect x="159.02" y="78.83" width="4.4" height="4.4" fill="#fff" stroke="#cc1414" stroke-width="1.0"/><rect x="159.89" y="76.6" width="4.4" height="4.4" fill="#fff" stroke="#cc1414" stroke-width="1.0"/><rect x="160.75" y="75.91" width="4.4" height="4.4" fill="#fff" stroke="#cc1414" stroke-width="1.0"/><rect x="161.62" y="72.07" width="4.4" height="4.4" fill="#fff" stroke="#cc1414" stroke-width="1.0"/><rect x="162.48" y="69.9" width="4.4" height="4.4" fill="#fff" stroke="#cc1414" stroke-width="1.0"/><rect x="163.35" y="67.67" width="4.4" height="4.4" fill="#fff" stroke="#cc1414" stroke-width="1.0"/><rect x="164.21" y="66.88" width="4.4" height="4.4" fill="#fff" stroke="#cc1414" stroke-width="1.0"/><rect x="165.08" y="64.34" width="4.4" height="4.4" fill="#fff" stroke="#cc1414" stroke-width="1.0"/><rect x="165.94" y="63.56" width="4.4" height="4.4" fill="#fff" stroke="#cc1414" stroke-width="1.0"/><rect x="166.81" y="62.99" width="4.4" height="4.4" fill="#fff" stroke="#cc1414" stroke-width="1.0"/><rect x="167.67" y="62.76" width="4.4" height="4.4" fill="#fff" stroke="#cc1414" stroke-width="1.0"/><rect x="168.54" y="63.94" width="4.4" height="4.4" fill="#fff" stroke="#cc1414" stroke-width="1.0"/><rect x="169.4" y="65.01" width="4.4" height="4.4" fill="#fff" stroke="#cc1414" stroke-width="1.0"/><rect x="170.27" y="64.57" width="4.4" height="4.4" fill="#fff" stroke="#cc1414" stroke-width="1.0"/><rect x="171.13" y="67.17" width="4.4" height="4.4" fill="#fff" stroke="#cc1414" stroke-width="1.0"/><rect x="172" y="68.84" width="4.4" height="4.4" fill="#fff" stroke="#cc1414" stroke-width="1.0"/><rect x="172.86" y="70.26" width="4.4" height="4.4" fill="#fff" stroke="#cc1414" stroke-width="1.0"/><rect x="173.73" y="74.55" width="4.4" height="4.4" fill="#fff" stroke="#cc1414" stroke-width="1.0"/><rect x="174.59" y="75.52" width="4.4" height="4.4" fill="#fff" stroke="#cc1414" stroke-width="1.0"/><rect x="175.46" y="76.1" width="4.4" height="4.4" fill="#fff" stroke="#cc1414" stroke-width="1.0"/><rect x="176.32" y="76.85" width="4.4" height="4.4" fill="#fff" stroke="#cc1414" stroke-width="1.0"/><rect x="177.19" y="77.9" width="4.4" height="4.4" fill="#fff" stroke="#cc1414" stroke-width="1.0"/><rect x="178.05" y="76.54" width="4.4" height="4.4" fill="#fff" stroke="#cc1414" stroke-width="1.0"/><rect x="178.92" y="76.55" width="4.4" height="4.4" fill="#fff" stroke="#cc1414" stroke-width="1.0"/><rect x="179.78" y="76.6" width="4.4" height="4.4" fill="#fff" stroke="#cc1414" stroke-width="1.0"/><rect x="180.65" y="74.78" width="4.4" height="4.4" fill="#fff" stroke="#cc1414" stroke-width="1.0"/><rect x="181.51" y="71.43" width="4.4" height="4.4" fill="#fff" stroke="#cc1414" stroke-width="1.0"/><rect x="182.38" y="69.76" width="4.4" height="4.4" fill="#fff" stroke="#cc1414" stroke-width="1.0"/><rect x="183.24" y="69.87" width="4.4" height="4.4" fill="#fff" stroke="#cc1414" stroke-width="1.0"/><rect x="184.11" y="65.24" width="4.4" height="4.4" fill="#fff" stroke="#cc1414" stroke-width="1.0"/><rect x="184.97" y="64.41" width="4.4" height="4.4" fill="#fff" stroke="#cc1414" stroke-width="1.0"/><rect x="185.84" y="62.67" width="4.4" height="4.4" fill="#fff" stroke="#cc1414" stroke-width="1.0"/><rect x="186.7" y="63.61" width="4.4" height="4.4" fill="#fff" stroke="#cc1414" stroke-width="1.0"/><rect x="187.57" y="63.48" width="4.4" height="4.4" fill="#fff" stroke="#cc1414" stroke-width="1.0"/><rect x="188.43" y="64.7" width="4.4" height="4.4" fill="#fff" stroke="#cc1414" stroke-width="1.0"/><rect x="189.3" y="62.39" width="4.4" height="4.4" fill="#fff" stroke="#cc1414" stroke-width="1.0"/><rect x="190.16" y="66.21" width="4.4" height="4.4" fill="#fff" stroke="#cc1414" stroke-width="1.0"/><rect x="191.03" y="66.32" width="4.4" height="4.4" fill="#fff" stroke="#cc1414" stroke-width="1.0"/><rect x="191.89" y="70.22" width="4.4" height="4.4" fill="#fff" stroke="#cc1414" stroke-width="1.0"/><rect x="192.76" y="71.41" width="4.4" height="4.4" fill="#fff" stroke="#cc1414" stroke-width="1.0"/><rect x="193.62" y="74.89" width="4.4" height="4.4" fill="#fff" stroke="#cc1414" stroke-width="1.0"/><rect x="194.49" y="75.29" width="4.4" height="4.4" fill="#fff" stroke="#cc1414" stroke-width="1.0"/><rect x="195.35" y="75.25" width="4.4" height="4.4" fill="#fff" stroke="#cc1414" stroke-width="1.0"/><rect x="196.22" y="78.07" width="4.4" height="4.4" fill="#fff" stroke="#cc1414" stroke-width="1.0"/><rect x="197.08" y="76.18" width="4.4" height="4.4" fill="#fff" stroke="#cc1414" stroke-width="1.0"/><rect x="197.95" y="76.58" width="4.4" height="4.4" fill="#fff" stroke="#cc1414" stroke-width="1.0"/><rect x="198.81" y="77.09" width="4.4" height="4.4" fill="#fff" stroke="#cc1414" stroke-width="1.0"/><rect x="199.68" y="75.37" width="4.4" height="4.4" fill="#fff" stroke="#cc1414" stroke-width="1.0"/><rect x="200.54" y="73.76" width="4.4" height="4.4" fill="#fff" stroke="#cc1414" stroke-width="1.0"/><rect x="201.41" y="71.58" width="4.4" height="4.4" fill="#fff" stroke="#cc1414" stroke-width="1.0"/><rect x="202.27" y="70.15" width="4.4" height="4.4" fill="#fff" stroke="#cc1414" stroke-width="1.0"/><rect x="203.14" y="68.59" width="4.4" height="4.4" fill="#fff" stroke="#cc1414" stroke-width="1.0"/><rect x="204" y="66.44" width="4.4" height="4.4" fill="#fff" stroke="#cc1414" stroke-width="1.0"/><rect x="204.87" y="65.79" width="4.4" height="4.4" fill="#fff" stroke="#cc1414" stroke-width="1.0"/><rect x="205.73" y="65.12" width="4.4" height="4.4" fill="#fff" stroke="#cc1414" stroke-width="1.0"/><rect x="206.6" y="63.5" width="4.4" height="4.4" fill="#fff" stroke="#cc1414" stroke-width="1.0"/><rect x="207.46" y="62.69" width="4.4" height="4.4" fill="#fff" stroke="#cc1414" stroke-width="1.0"/><rect x="208.33" y="65.59" width="4.4" height="4.4" fill="#fff" stroke="#cc1414" stroke-width="1.0"/><rect x="209.19" y="65.16" width="4.4" height="4.4" fill="#fff" stroke="#cc1414" stroke-width="1.0"/><rect x="210.06" y="67.23" width="4.4" height="4.4" fill="#fff" stroke="#cc1414" stroke-width="1.0"/><rect x="210.92" y="69.26" width="4.4" height="4.4" fill="#fff" stroke="#cc1414" stroke-width="1.0"/><rect x="211.79" y="69.33" width="4.4" height="4.4" fill="#fff" stroke="#cc1414" stroke-width="1.0"/><rect x="212.65" y="72.53" width="4.4" height="4.4" fill="#fff" stroke="#cc1414" stroke-width="1.0"/><rect x="213.52" y="72.28" width="4.4" height="4.4" fill="#fff" stroke="#cc1414" stroke-width="1.0"/><rect x="214.38" y="75.96" width="4.4" height="4.4" fill="#fff" stroke="#cc1414" stroke-width="1.0"/><rect x="215.25" y="75.9" width="4.4" height="4.4" fill="#fff" stroke="#cc1414" stroke-width="1.0"/><rect x="216.11" y="77.12" width="4.4" height="4.4" fill="#fff" stroke="#cc1414" stroke-width="1.0"/><rect x="216.98" y="77.76" width="4.4" height="4.4" fill="#fff" stroke="#cc1414" stroke-width="1.0"/><rect x="217.84" y="76.03" width="4.4" height="4.4" fill="#fff" stroke="#cc1414" stroke-width="1.0"/><rect x="218.71" y="75.88" width="4.4" height="4.4" fill="#fff" stroke="#cc1414" stroke-width="1.0"/><rect x="219.57" y="73.83" width="4.4" height="4.4" fill="#fff" stroke="#cc1414" stroke-width="1.0"/><rect x="220.44" y="72.87" width="4.4" height="4.4" fill="#fff" stroke="#cc1414" stroke-width="1.0"/><rect x="221.3" y="72.1" width="4.4" height="4.4" fill="#fff" stroke="#cc1414" stroke-width="1.0"/><rect x="222.17" y="69.25" width="4.4" height="4.4" fill="#fff" stroke="#cc1414" stroke-width="1.0"/><rect x="223.03" y="67.32" width="4.4" height="4.4" fill="#fff" stroke="#cc1414" stroke-width="1.0"/><rect x="223.9" y="64.84" width="4.4" height="4.4" fill="#fff" stroke="#cc1414" stroke-width="1.0"/><rect x="224.76" y="65.51" width="4.4" height="4.4" fill="#fff" stroke="#cc1414" stroke-width="1.0"/><rect x="225.63" y="63.84" width="4.4" height="4.4" fill="#fff" stroke="#cc1414" stroke-width="1.0"/><rect x="226.49" y="65.26" width="4.4" height="4.4" fill="#fff" stroke="#cc1414" stroke-width="1.0"/><rect x="227.36" y="63.04" width="4.4" height="4.4" fill="#fff" stroke="#cc1414" stroke-width="1.0"/><rect x="228.22" y="65.53" width="4.4" height="4.4" fill="#fff" stroke="#cc1414" stroke-width="1.0"/><rect x="229.09" y="67.43" width="4.4" height="4.4" fill="#fff" stroke="#cc1414" stroke-width="1.0"/><rect x="229.95" y="67.13" width="4.4" height="4.4" fill="#fff" stroke="#cc1414" stroke-width="1.0"/><rect x="230.82" y="67.67" width="4.4" height="4.4" fill="#fff" stroke="#cc1414" stroke-width="1.0"/><rect x="231.68" y="72.26" width="4.4" height="4.4" fill="#fff" stroke="#cc1414" stroke-width="1.0"/><rect x="232.55" y="73.63" width="4.4" height="4.4" fill="#fff" stroke="#cc1414" stroke-width="1.0"/><rect x="233.41" y="74.92" width="4.4" height="4.4" fill="#fff" stroke="#cc1414" stroke-width="1.0"/><rect x="234.28" y="76.69" width="4.4" height="4.4" fill="#fff" stroke="#cc1414" stroke-width="1.0"/><rect x="235.14" y="76.06" width="4.4" height="4.4" fill="#fff" stroke="#cc1414" stroke-width="1.0"/><rect x="236.01" y="77.79" width="4.4" height="4.4" fill="#fff" stroke="#cc1414" stroke-width="1.0"/><rect x="236.87" y="77.68" width="4.4" height="4.4" fill="#fff" stroke="#cc1414" stroke-width="1.0"/><rect x="237.74" y="75.77" width="4.4" height="4.4" fill="#fff" stroke="#cc1414" stroke-width="1.0"/><rect x="238.6" y="76.19" width="4.4" height="4.4" fill="#fff" stroke="#cc1414" stroke-width="1.0"/><rect x="239.47" y="73.54" width="4.4" height="4.4" fill="#fff" stroke="#cc1414" stroke-width="1.0"/><rect x="240.33" y="73.37" width="4.4" height="4.4" fill="#fff" stroke="#cc1414" stroke-width="1.0"/><rect x="241.2" y="71.8" width="4.4" height="4.4" fill="#fff" stroke="#cc1414" stroke-width="1.0"/><rect x="242.06" y="70.63" width="4.4" height="4.4" fill="#fff" stroke="#cc1414" stroke-width="1.0"/></g><g clip-path="url(#c11)"><circle cx="263.79" cy="58.2" r="2.3" fill="none" stroke="#4fb6ee" stroke-width="1.0"/><path d="M263.79 53.2V63.2" stroke="#4fb6ee" stroke-width="0.7"/><circle cx="264.38" cy="54.2" r="2.3" fill="none" stroke="#4fb6ee" stroke-width="1.0"/><path d="M264.38 49.2V59.2" stroke="#4fb6ee" stroke-width="0.7"/><circle cx="264.97" cy="48.38" r="2.3" fill="none" stroke="#4fb6ee" stroke-width="1.0"/><path d="M264.97 43.38V53.38" stroke="#4fb6ee" stroke-width="0.7"/><circle cx="265.56" cy="44.95" r="2.3" fill="none" stroke="#4fb6ee" stroke-width="1.0"/><path d="M265.56 39.95V49.95" stroke="#4fb6ee" stroke-width="0.7"/><circle cx="266.15" cy="42.72" r="2.3" fill="none" stroke="#4fb6ee" stroke-width="1.0"/><path d="M266.15 37.72V47.72" stroke="#4fb6ee" stroke-width="0.7"/><circle cx="266.74" cy="42.66" r="2.3" fill="none" stroke="#4fb6ee" stroke-width="1.0"/><path d="M266.74 37.66V47.66" stroke="#4fb6ee" stroke-width="0.7"/><circle cx="267.33" cy="42.27" r="2.3" fill="none" stroke="#4fb6ee" stroke-width="1.0"/><path d="M267.33 37.27V47.27" stroke="#4fb6ee" stroke-width="0.7"/><circle cx="267.92" cy="48.93" r="2.3" fill="none" stroke="#4fb6ee" stroke-width="1.0"/><path d="M267.92 43.93V53.93" stroke="#4fb6ee" stroke-width="0.7"/><circle cx="268.51" cy="54.44" r="2.3" fill="none" stroke="#4fb6ee" stroke-width="1.0"/><path d="M268.51 49.44V59.44" stroke="#4fb6ee" stroke-width="0.7"/><circle cx="269.1" cy="59.99" r="2.3" fill="none" stroke="#4fb6ee" stroke-width="1.0"/><path d="M269.1 54.99V64.99" stroke="#4fb6ee" stroke-width="0.7"/><circle cx="269.69" cy="67.36" r="2.3" fill="none" stroke="#4fb6ee" stroke-width="1.0"/><path d="M269.69 62.36V72.36" stroke="#4fb6ee" stroke-width="0.7"/><circle cx="270.28" cy="72.44" r="2.3" fill="none" stroke="#4fb6ee" stroke-width="1.0"/><path d="M270.28 67.44V77.44" stroke="#4fb6ee" stroke-width="0.7"/><circle cx="270.87" cy="79.71" r="2.3" fill="none" stroke="#4fb6ee" stroke-width="1.0"/><path d="M270.87 74.71V84.71" stroke="#4fb6ee" stroke-width="0.7"/><circle cx="271.46" cy="88.57" r="2.3" fill="none" stroke="#4fb6ee" stroke-width="1.0"/><path d="M271.46 83.57V93.57" stroke="#4fb6ee" stroke-width="0.7"/><circle cx="272.05" cy="94.98" r="2.3" fill="none" stroke="#4fb6ee" stroke-width="1.0"/><path d="M272.05 89.98V99.98" stroke="#4fb6ee" stroke-width="0.7"/><circle cx="272.64" cy="98.42" r="2.3" fill="none" stroke="#4fb6ee" stroke-width="1.0"/><path d="M272.64 93.42V103.42" stroke="#4fb6ee" stroke-width="0.7"/><circle cx="273.23" cy="99.46" r="2.3" fill="none" stroke="#4fb6ee" stroke-width="1.0"/><path d="M273.23 94.46V104.46" stroke="#4fb6ee" stroke-width="0.7"/><circle cx="273.82" cy="105.54" r="2.3" fill="none" stroke="#4fb6ee" stroke-width="1.0"/><path d="M273.82 100.54V110.54" stroke="#4fb6ee" stroke-width="0.7"/><circle cx="274.41" cy="101.1" r="2.3" fill="none" stroke="#4fb6ee" stroke-width="1.0"/><path d="M274.41 96.1V106.1" stroke="#4fb6ee" stroke-width="0.7"/><circle cx="275" cy="100.54" r="2.3" fill="none" stroke="#4fb6ee" stroke-width="1.0"/><path d="M275 95.54V105.54" stroke="#4fb6ee" stroke-width="0.7"/><circle cx="275.59" cy="94.01" r="2.3" fill="none" stroke="#4fb6ee" stroke-width="1.0"/><path d="M275.59 89.01V99.01" stroke="#4fb6ee" stroke-width="0.7"/><circle cx="276.18" cy="90.98" r="2.3" fill="none" stroke="#4fb6ee" stroke-width="1.0"/><path d="M276.18 85.98V95.98" stroke="#4fb6ee" stroke-width="0.7"/><circle cx="276.77" cy="83.49" r="2.3" fill="none" stroke="#4fb6ee" stroke-width="1.0"/><path d="M276.77 78.49V88.49" stroke="#4fb6ee" stroke-width="0.7"/><circle cx="277.36" cy="77.7" r="2.3" fill="none" stroke="#4fb6ee" stroke-width="1.0"/><path d="M277.36 72.7V82.7" stroke="#4fb6ee" stroke-width="0.7"/><circle cx="277.95" cy="69.64" r="2.3" fill="none" stroke="#4fb6ee" stroke-width="1.0"/><path d="M277.95 64.64V74.64" stroke="#4fb6ee" stroke-width="0.7"/><circle cx="278.54" cy="59.66" r="2.3" fill="none" stroke="#4fb6ee" stroke-width="1.0"/><path d="M278.54 54.66V64.66" stroke="#4fb6ee" stroke-width="0.7"/><circle cx="279.13" cy="53.82" r="2.3" fill="none" stroke="#4fb6ee" stroke-width="1.0"/><path d="M279.13 48.82V58.82" stroke="#4fb6ee" stroke-width="0.7"/><circle cx="279.72" cy="49.86" r="2.3" fill="none" stroke="#4fb6ee" stroke-width="1.0"/><path d="M279.72 44.86V54.86" stroke="#4fb6ee" stroke-width="0.7"/><circle cx="280.31" cy="46.44" r="2.3" fill="none" stroke="#4fb6ee" stroke-width="1.0"/><path d="M280.31 41.44V51.44" stroke="#4fb6ee" stroke-width="0.7"/><circle cx="280.9" cy="45.37" r="2.3" fill="none" stroke="#4fb6ee" stroke-width="1.0"/><path d="M280.9 40.37V50.37" stroke="#4fb6ee" stroke-width="0.7"/><circle cx="281.49" cy="43.1" r="2.3" fill="none" stroke="#4fb6ee" stroke-width="1.0"/><path d="M281.49 38.1V48.1" stroke="#4fb6ee" stroke-width="0.7"/><circle cx="282.08" cy="44.04" r="2.3" fill="none" stroke="#4fb6ee" stroke-width="1.0"/><path d="M282.08 39.04V49.04" stroke="#4fb6ee" stroke-width="0.7"/><circle cx="282.67" cy="47.24" r="2.3" fill="none" stroke="#4fb6ee" stroke-width="1.0"/><path d="M282.67 42.24V52.24" stroke="#4fb6ee" stroke-width="0.7"/><circle cx="283.26" cy="51.97" r="2.3" fill="none" stroke="#4fb6ee" stroke-width="1.0"/><path d="M283.26 46.97V56.97" stroke="#4fb6ee" stroke-width="0.7"/><circle cx="283.85" cy="59.2" r="2.3" fill="none" stroke="#4fb6ee" stroke-width="1.0"/><path d="M283.85 54.2V64.2" stroke="#4fb6ee" stroke-width="0.7"/><circle cx="284.44" cy="64.81" r="2.3" fill="none" stroke="#4fb6ee" stroke-width="1.0"/><path d="M284.44 59.81V69.81" stroke="#4fb6ee" stroke-width="0.7"/><circle cx="285.03" cy="72.15" r="2.3" fill="none" stroke="#4fb6ee" stroke-width="1.0"/><path d="M285.03 67.15V77.15" stroke="#4fb6ee" stroke-width="0.7"/><circle cx="285.62" cy="77.91" r="2.3" fill="none" stroke="#4fb6ee" stroke-width="1.0"/><path d="M285.62 72.91V82.91" stroke="#4fb6ee" stroke-width="0.7"/><circle cx="286.21" cy="84.15" r="2.3" fill="none" stroke="#4fb6ee" stroke-width="1.0"/><path d="M286.21 79.15V89.15" stroke="#4fb6ee" stroke-width="0.7"/><circle cx="286.8" cy="92.71" r="2.3" fill="none" stroke="#4fb6ee" stroke-width="1.0"/><path d="M286.8 87.71V97.71" stroke="#4fb6ee" stroke-width="0.7"/><circle cx="287.39" cy="98.33" r="2.3" fill="none" stroke="#4fb6ee" stroke-width="1.0"/><path d="M287.39 93.33V103.33" stroke="#4fb6ee" stroke-width="0.7"/><circle cx="287.97" cy="100.75" r="2.3" fill="none" stroke="#4fb6ee" stroke-width="1.0"/><path d="M287.97 95.75V105.75" stroke="#4fb6ee" stroke-width="0.7"/><circle cx="288.56" cy="102.97" r="2.3" fill="none" stroke="#4fb6ee" stroke-width="1.0"/><path d="M288.56 97.97V107.97" stroke="#4fb6ee" stroke-width="0.7"/><circle cx="289.15" cy="102.83" r="2.3" fill="none" stroke="#4fb6ee" stroke-width="1.0"/><path d="M289.15 97.83V107.83" stroke="#4fb6ee" stroke-width="0.7"/><circle cx="289.74" cy="99.84" r="2.3" fill="none" stroke="#4fb6ee" stroke-width="1.0"/><path d="M289.74 94.84V104.84" stroke="#4fb6ee" stroke-width="0.7"/><circle cx="290.33" cy="97.26" r="2.3" fill="none" stroke="#4fb6ee" stroke-width="1.0"/><path d="M290.33 92.26V102.26" stroke="#4fb6ee" stroke-width="0.7"/><circle cx="290.92" cy="89.89" r="2.3" fill="none" stroke="#4fb6ee" stroke-width="1.0"/><path d="M290.92 84.89V94.89" stroke="#4fb6ee" stroke-width="0.7"/><circle cx="291.51" cy="84.37" r="2.3" fill="none" stroke="#4fb6ee" stroke-width="1.0"/><path d="M291.51 79.37V89.37" stroke="#4fb6ee" stroke-width="0.7"/><circle cx="292.1" cy="76.77" r="2.3" fill="none" stroke="#4fb6ee" stroke-width="1.0"/><path d="M292.1 71.77V81.77" stroke="#4fb6ee" stroke-width="0.7"/><circle cx="292.69" cy="69.89" r="2.3" fill="none" stroke="#4fb6ee" stroke-width="1.0"/><path d="M292.69 64.89V74.89" stroke="#4fb6ee" stroke-width="0.7"/><circle cx="293.28" cy="63.33" r="2.3" fill="none" stroke="#4fb6ee" stroke-width="1.0"/><path d="M293.28 58.33V68.33" stroke="#4fb6ee" stroke-width="0.7"/><circle cx="293.87" cy="56.98" r="2.3" fill="none" stroke="#4fb6ee" stroke-width="1.0"/><path d="M293.87 51.98V61.98" stroke="#4fb6ee" stroke-width="0.7"/><circle cx="294.46" cy="50.47" r="2.3" fill="none" stroke="#4fb6ee" stroke-width="1.0"/><path d="M294.46 45.47V55.47" stroke="#4fb6ee" stroke-width="0.7"/><circle cx="295.05" cy="46.66" r="2.3" fill="none" stroke="#4fb6ee" stroke-width="1.0"/><path d="M295.05 41.66V51.66" stroke="#4fb6ee" stroke-width="0.7"/><circle cx="295.64" cy="43.07" r="2.3" fill="none" stroke="#4fb6ee" stroke-width="1.0"/><path d="M295.64 38.07V48.07" stroke="#4fb6ee" stroke-width="0.7"/><circle cx="296.23" cy="42.62" r="2.3" fill="none" stroke="#4fb6ee" stroke-width="1.0"/><path d="M296.23 37.62V47.62" stroke="#4fb6ee" stroke-width="0.7"/><circle cx="296.82" cy="45.48" r="2.3" fill="none" stroke="#4fb6ee" stroke-width="1.0"/><path d="M296.82 40.48V50.48" stroke="#4fb6ee" stroke-width="0.7"/><circle cx="297.41" cy="46.48" r="2.3" fill="none" stroke="#4fb6ee" stroke-width="1.0"/><path d="M297.41 41.48V51.48" stroke="#4fb6ee" stroke-width="0.7"/><circle cx="298" cy="52.8" r="2.3" fill="none" stroke="#4fb6ee" stroke-width="1.0"/><path d="M298 47.8V57.8" stroke="#4fb6ee" stroke-width="0.7"/><circle cx="298.59" cy="57.66" r="2.3" fill="none" stroke="#4fb6ee" stroke-width="1.0"/><path d="M298.59 52.66V62.66" stroke="#4fb6ee" stroke-width="0.7"/><circle cx="299.18" cy="64" r="2.3" fill="none" stroke="#4fb6ee" stroke-width="1.0"/><path d="M299.18 59V69" stroke="#4fb6ee" stroke-width="0.7"/><circle cx="299.77" cy="73.68" r="2.3" fill="none" stroke="#4fb6ee" stroke-width="1.0"/><path d="M299.77 68.68V78.68" stroke="#4fb6ee" stroke-width="0.7"/><circle cx="300.36" cy="78.22" r="2.3" fill="none" stroke="#4fb6ee" stroke-width="1.0"/><path d="M300.36 73.22V83.22" stroke="#4fb6ee" stroke-width="0.7"/><circle cx="300.95" cy="85.19" r="2.3" fill="none" stroke="#4fb6ee" stroke-width="1.0"/><path d="M300.95 80.19V90.19" stroke="#4fb6ee" stroke-width="0.7"/><circle cx="301.54" cy="91.84" r="2.3" fill="none" stroke="#4fb6ee" stroke-width="1.0"/><path d="M301.54 86.84V96.84" stroke="#4fb6ee" stroke-width="0.7"/><circle cx="302.13" cy="97.25" r="2.3" fill="none" stroke="#4fb6ee" stroke-width="1.0"/><path d="M302.13 92.25V102.25" stroke="#4fb6ee" stroke-width="0.7"/><circle cx="302.72" cy="100.73" r="2.3" fill="none" stroke="#4fb6ee" stroke-width="1.0"/><path d="M302.72 95.73V105.73" stroke="#4fb6ee" stroke-width="0.7"/><circle cx="303.31" cy="103.37" r="2.3" fill="none" stroke="#4fb6ee" stroke-width="1.0"/><path d="M303.31 98.37V108.37" stroke="#4fb6ee" stroke-width="0.7"/><circle cx="303.9" cy="102.4" r="2.3" fill="none" stroke="#4fb6ee" stroke-width="1.0"/><path d="M303.9 97.4V107.4" stroke="#4fb6ee" stroke-width="0.7"/><circle cx="304.49" cy="100.93" r="2.3" fill="none" stroke="#4fb6ee" stroke-width="1.0"/><path d="M304.49 95.93V105.93" stroke="#4fb6ee" stroke-width="0.7"/><circle cx="305.08" cy="96.49" r="2.3" fill="none" stroke="#4fb6ee" stroke-width="1.0"/><path d="M305.08 91.49V101.49" stroke="#4fb6ee" stroke-width="0.7"/><circle cx="305.67" cy="93.19" r="2.3" fill="none" stroke="#4fb6ee" stroke-width="1.0"/><path d="M305.67 88.19V98.19" stroke="#4fb6ee" stroke-width="0.7"/><circle cx="306.26" cy="84.97" r="2.3" fill="none" stroke="#4fb6ee" stroke-width="1.0"/><path d="M306.26 79.97V89.97" stroke="#4fb6ee" stroke-width="0.7"/><circle cx="306.85" cy="78.04" r="2.3" fill="none" stroke="#4fb6ee" stroke-width="1.0"/><path d="M306.85 73.04V83.04" stroke="#4fb6ee" stroke-width="0.7"/><circle cx="307.44" cy="71.03" r="2.3" fill="none" stroke="#4fb6ee" stroke-width="1.0"/><path d="M307.44 66.03V76.03" stroke="#4fb6ee" stroke-width="0.7"/><circle cx="308.03" cy="64.13" r="2.3" fill="none" stroke="#4fb6ee" stroke-width="1.0"/><path d="M308.03 59.13V69.13" stroke="#4fb6ee" stroke-width="0.7"/><circle cx="308.62" cy="56.01" r="2.3" fill="none" stroke="#4fb6ee" stroke-width="1.0"/><path d="M308.62 51.01V61.01" stroke="#4fb6ee" stroke-width="0.7"/><circle cx="309.21" cy="53.31" r="2.3" fill="none" stroke="#4fb6ee" stroke-width="1.0"/><path d="M309.21 48.31V58.31" stroke="#4fb6ee" stroke-width="0.7"/><circle cx="309.8" cy="45.91" r="2.3" fill="none" stroke="#4fb6ee" stroke-width="1.0"/><path d="M309.8 40.91V50.91" stroke="#4fb6ee" stroke-width="0.7"/><circle cx="310.39" cy="43.37" r="2.3" fill="none" stroke="#4fb6ee" stroke-width="1.0"/><path d="M310.39 38.37V48.37" stroke="#4fb6ee" stroke-width="0.7"/><circle cx="310.98" cy="42.26" r="2.3" fill="none" stroke="#4fb6ee" stroke-width="1.0"/><path d="M310.98 37.26V47.26" stroke="#4fb6ee" stroke-width="0.7"/><circle cx="311.57" cy="42.91" r="2.3" fill="none" stroke="#4fb6ee" stroke-width="1.0"/><path d="M311.57 37.91V47.91" stroke="#4fb6ee" stroke-width="0.7"/><circle cx="312.16" cy="46.97" r="2.3" fill="none" stroke="#4fb6ee" stroke-width="1.0"/><path d="M312.16 41.97V51.97" stroke="#4fb6ee" stroke-width="0.7"/><circle cx="312.75" cy="50.64" r="2.3" fill="none" stroke="#4fb6ee" stroke-width="1.0"/><path d="M312.75 45.64V55.64" stroke="#4fb6ee" stroke-width="0.7"/><circle cx="313.34" cy="54.98" r="2.3" fill="none" stroke="#4fb6ee" stroke-width="1.0"/><path d="M313.34 49.98V59.98" stroke="#4fb6ee" stroke-width="0.7"/><circle cx="313.93" cy="61.91" r="2.3" fill="none" stroke="#4fb6ee" stroke-width="1.0"/><path d="M313.93 56.91V66.91" stroke="#4fb6ee" stroke-width="0.7"/><circle cx="314.52" cy="69.47" r="2.3" fill="none" stroke="#4fb6ee" stroke-width="1.0"/><path d="M314.52 64.47V74.47" stroke="#4fb6ee" stroke-width="0.7"/><circle cx="315.11" cy="79.35" r="2.3" fill="none" stroke="#4fb6ee" stroke-width="1.0"/><path d="M315.11 74.35V84.35" stroke="#4fb6ee" stroke-width="0.7"/><circle cx="315.7" cy="83.53" r="2.3" fill="none" stroke="#4fb6ee" stroke-width="1.0"/><path d="M315.7 78.53V88.53" stroke="#4fb6ee" stroke-width="0.7"/><circle cx="316.29" cy="89" r="2.3" fill="none" stroke="#4fb6ee" stroke-width="1.0"/><path d="M316.29 84V94" stroke="#4fb6ee" stroke-width="0.7"/><circle cx="316.88" cy="94.48" r="2.3" fill="none" stroke="#4fb6ee" stroke-width="1.0"/><path d="M316.88 89.48V99.48" stroke="#4fb6ee" stroke-width="0.7"/><circle cx="317.46" cy="99.39" r="2.3" fill="none" stroke="#4fb6ee" stroke-width="1.0"/><path d="M317.46 94.39V104.39" stroke="#4fb6ee" stroke-width="0.7"/><circle cx="318.05" cy="104.09" r="2.3" fill="none" stroke="#4fb6ee" stroke-width="1.0"/><path d="M318.05 99.09V109.09" stroke="#4fb6ee" stroke-width="0.7"/><circle cx="318.64" cy="100.73" r="2.3" fill="none" stroke="#4fb6ee" stroke-width="1.0"/><path d="M318.64 95.73V105.73" stroke="#4fb6ee" stroke-width="0.7"/><circle cx="319.23" cy="100.76" r="2.3" fill="none" stroke="#4fb6ee" stroke-width="1.0"/><path d="M319.23 95.76V105.76" stroke="#4fb6ee" stroke-width="0.7"/><circle cx="319.82" cy="100.94" r="2.3" fill="none" stroke="#4fb6ee" stroke-width="1.0"/><path d="M319.82 95.94V105.94" stroke="#4fb6ee" stroke-width="0.7"/><circle cx="320.41" cy="91.84" r="2.3" fill="none" stroke="#4fb6ee" stroke-width="1.0"/><path d="M320.41 86.84V96.84" stroke="#4fb6ee" stroke-width="0.7"/><circle cx="321" cy="88.5" r="2.3" fill="none" stroke="#4fb6ee" stroke-width="1.0"/><path d="M321 83.5V93.5" stroke="#4fb6ee" stroke-width="0.7"/><circle cx="321.59" cy="81.28" r="2.3" fill="none" stroke="#4fb6ee" stroke-width="1.0"/><path d="M321.59 76.28V86.28" stroke="#4fb6ee" stroke-width="0.7"/><circle cx="322.18" cy="72.94" r="2.3" fill="none" stroke="#4fb6ee" stroke-width="1.0"/><path d="M322.18 67.94V77.94" stroke="#4fb6ee" stroke-width="0.7"/><circle cx="322.77" cy="62.77" r="2.3" fill="none" stroke="#4fb6ee" stroke-width="1.0"/><path d="M322.77 57.77V67.77" stroke="#4fb6ee" stroke-width="0.7"/><circle cx="323.36" cy="58.36" r="2.3" fill="none" stroke="#4fb6ee" stroke-width="1.0"/><path d="M323.36 53.36V63.36" stroke="#4fb6ee" stroke-width="0.7"/><circle cx="323.95" cy="51.46" r="2.3" fill="none" stroke="#4fb6ee" stroke-width="1.0"/><path d="M323.95 46.46V56.46" stroke="#4fb6ee" stroke-width="0.7"/><circle cx="324.54" cy="44.58" r="2.3" fill="none" stroke="#4fb6ee" stroke-width="1.0"/><path d="M324.54 39.58V49.58" stroke="#4fb6ee" stroke-width="0.7"/><circle cx="325.13" cy="41.71" r="2.3" fill="none" stroke="#4fb6ee" stroke-width="1.0"/><path d="M325.13 36.71V46.71" stroke="#4fb6ee" stroke-width="0.7"/><circle cx="325.72" cy="42.92" r="2.3" fill="none" stroke="#4fb6ee" stroke-width="1.0"/><path d="M325.72 37.92V47.92" stroke="#4fb6ee" stroke-width="0.7"/><circle cx="326.31" cy="43.63" r="2.3" fill="none" stroke="#4fb6ee" stroke-width="1.0"/><path d="M326.31 38.63V48.63" stroke="#4fb6ee" stroke-width="0.7"/><circle cx="326.9" cy="47.49" r="2.3" fill="none" stroke="#4fb6ee" stroke-width="1.0"/><path d="M326.9 42.49V52.49" stroke="#4fb6ee" stroke-width="0.7"/><circle cx="327.49" cy="50.61" r="2.3" fill="none" stroke="#4fb6ee" stroke-width="1.0"/><path d="M327.49 45.61V55.61" stroke="#4fb6ee" stroke-width="0.7"/><circle cx="328.08" cy="54.32" r="2.3" fill="none" stroke="#4fb6ee" stroke-width="1.0"/><path d="M328.08 49.32V59.32" stroke="#4fb6ee" stroke-width="0.7"/><circle cx="328.67" cy="60.84" r="2.3" fill="none" stroke="#4fb6ee" stroke-width="1.0"/><path d="M328.67 55.84V65.84" stroke="#4fb6ee" stroke-width="0.7"/><circle cx="329.26" cy="68.45" r="2.3" fill="none" stroke="#4fb6ee" stroke-width="1.0"/><path d="M329.26 63.45V73.45" stroke="#4fb6ee" stroke-width="0.7"/><circle cx="329.85" cy="74.49" r="2.3" fill="none" stroke="#4fb6ee" stroke-width="1.0"/><path d="M329.85 69.49V79.49" stroke="#4fb6ee" stroke-width="0.7"/><circle cx="330.44" cy="84.38" r="2.3" fill="none" stroke="#4fb6ee" stroke-width="1.0"/><path d="M330.44 79.38V89.38" stroke="#4fb6ee" stroke-width="0.7"/><circle cx="331.03" cy="89.8" r="2.3" fill="none" stroke="#4fb6ee" stroke-width="1.0"/><path d="M331.03 84.8V94.8" stroke="#4fb6ee" stroke-width="0.7"/><circle cx="331.62" cy="94.02" r="2.3" fill="none" stroke="#4fb6ee" stroke-width="1.0"/><path d="M331.62 89.02V99.02" stroke="#4fb6ee" stroke-width="0.7"/><circle cx="332.21" cy="98.27" r="2.3" fill="none" stroke="#4fb6ee" stroke-width="1.0"/><path d="M332.21 93.27V103.27" stroke="#4fb6ee" stroke-width="0.7"/><circle cx="332.8" cy="99.89" r="2.3" fill="none" stroke="#4fb6ee" stroke-width="1.0"/><path d="M332.8 94.89V104.89" stroke="#4fb6ee" stroke-width="0.7"/><circle cx="333.39" cy="101.5" r="2.3" fill="none" stroke="#4fb6ee" stroke-width="1.0"/><path d="M333.39 96.5V106.5" stroke="#4fb6ee" stroke-width="0.7"/><circle cx="333.98" cy="101.32" r="2.3" fill="none" stroke="#4fb6ee" stroke-width="1.0"/><path d="M333.98 96.32V106.32" stroke="#4fb6ee" stroke-width="0.7"/><circle cx="334.57" cy="97.23" r="2.3" fill="none" stroke="#4fb6ee" stroke-width="1.0"/><path d="M334.57 92.23V102.23" stroke="#4fb6ee" stroke-width="0.7"/><circle cx="335.16" cy="94.76" r="2.3" fill="none" stroke="#4fb6ee" stroke-width="1.0"/><path d="M335.16 89.76V99.76" stroke="#4fb6ee" stroke-width="0.7"/><circle cx="335.75" cy="89.87" r="2.3" fill="none" stroke="#4fb6ee" stroke-width="1.0"/><path d="M335.75 84.87V94.87" stroke="#4fb6ee" stroke-width="0.7"/><circle cx="336.34" cy="79.56" r="2.3" fill="none" stroke="#4fb6ee" stroke-width="1.0"/><path d="M336.34 74.56V84.56" stroke="#4fb6ee" stroke-width="0.7"/><circle cx="336.93" cy="73.26" r="2.3" fill="none" stroke="#4fb6ee" stroke-width="1.0"/><path d="M336.93 68.26V78.26" stroke="#4fb6ee" stroke-width="0.7"/><circle cx="337.52" cy="65.32" r="2.3" fill="none" stroke="#4fb6ee" stroke-width="1.0"/><path d="M337.52 60.32V70.32" stroke="#4fb6ee" stroke-width="0.7"/><circle cx="338.11" cy="61.57" r="2.3" fill="none" stroke="#4fb6ee" stroke-width="1.0"/><path d="M338.11 56.57V66.57" stroke="#4fb6ee" stroke-width="0.7"/><circle cx="338.7" cy="53.36" r="2.3" fill="none" stroke="#4fb6ee" stroke-width="1.0"/><path d="M338.7 48.36V58.36" stroke="#4fb6ee" stroke-width="0.7"/><circle cx="339.29" cy="48.86" r="2.3" fill="none" stroke="#4fb6ee" stroke-width="1.0"/><path d="M339.29 43.86V53.86" stroke="#4fb6ee" stroke-width="0.7"/><circle cx="339.88" cy="45.93" r="2.3" fill="none" stroke="#4fb6ee" stroke-width="1.0"/><path d="M339.88 40.93V50.93" stroke="#4fb6ee" stroke-width="0.7"/><circle cx="340.47" cy="46.55" r="2.3" fill="none" stroke="#4fb6ee" stroke-width="1.0"/><path d="M340.47 41.55V51.55" stroke="#4fb6ee" stroke-width="0.7"/><circle cx="341.06" cy="43.68" r="2.3" fill="none" stroke="#4fb6ee" stroke-width="1.0"/><path d="M341.06 38.68V48.68" stroke="#4fb6ee" stroke-width="0.7"/><circle cx="341.65" cy="43.73" r="2.3" fill="none" stroke="#4fb6ee" stroke-width="1.0"/><path d="M341.65 38.73V48.73" stroke="#4fb6ee" stroke-width="0.7"/><circle cx="342.24" cy="48.28" r="2.3" fill="none" stroke="#4fb6ee" stroke-width="1.0"/><path d="M342.24 43.28V53.28" stroke="#4fb6ee" stroke-width="0.7"/><circle cx="342.83" cy="55.06" r="2.3" fill="none" stroke="#4fb6ee" stroke-width="1.0"/><path d="M342.83 50.06V60.06" stroke="#4fb6ee" stroke-width="0.7"/><circle cx="343.42" cy="60.43" r="2.3" fill="none" stroke="#4fb6ee" stroke-width="1.0"/><path d="M343.42 55.43V65.43" stroke="#4fb6ee" stroke-width="0.7"/><circle cx="344.01" cy="66.24" r="2.3" fill="none" stroke="#4fb6ee" stroke-width="1.0"/><path d="M344.01 61.24V71.24" stroke="#4fb6ee" stroke-width="0.7"/><circle cx="344.6" cy="79.36" r="2.3" fill="none" stroke="#4fb6ee" stroke-width="1.0"/><path d="M344.6 74.36V84.36" stroke="#4fb6ee" stroke-width="0.7"/><circle cx="345.19" cy="82.28" r="2.3" fill="none" stroke="#4fb6ee" stroke-width="1.0"/><path d="M345.19 77.28V87.28" stroke="#4fb6ee" stroke-width="0.7"/><circle cx="345.78" cy="87.81" r="2.3" fill="none" stroke="#4fb6ee" stroke-width="1.0"/><path d="M345.78 82.81V92.81" stroke="#4fb6ee" stroke-width="0.7"/><circle cx="346.37" cy="93.19" r="2.3" fill="none" stroke="#4fb6ee" stroke-width="1.0"/><path d="M346.37 88.19V98.19" stroke="#4fb6ee" stroke-width="0.7"/><circle cx="346.95" cy="95.77" r="2.3" fill="none" stroke="#4fb6ee" stroke-width="1.0"/><path d="M346.95 90.77V100.77" stroke="#4fb6ee" stroke-width="0.7"/><circle cx="347.54" cy="99.33" r="2.3" fill="none" stroke="#4fb6ee" stroke-width="1.0"/><path d="M347.54 94.33V104.33" stroke="#4fb6ee" stroke-width="0.7"/><circle cx="348.13" cy="101.54" r="2.3" fill="none" stroke="#4fb6ee" stroke-width="1.0"/><path d="M348.13 96.54V106.54" stroke="#4fb6ee" stroke-width="0.7"/><circle cx="348.72" cy="100.57" r="2.3" fill="none" stroke="#4fb6ee" stroke-width="1.0"/><path d="M348.72 95.57V105.57" stroke="#4fb6ee" stroke-width="0.7"/><circle cx="349.31" cy="97" r="2.3" fill="none" stroke="#4fb6ee" stroke-width="1.0"/><path d="M349.31 92V102" stroke="#4fb6ee" stroke-width="0.7"/><circle cx="349.9" cy="94.84" r="2.3" fill="none" stroke="#4fb6ee" stroke-width="1.0"/><path d="M349.9 89.84V99.84" stroke="#4fb6ee" stroke-width="0.7"/><circle cx="350.49" cy="88.31" r="2.3" fill="none" stroke="#4fb6ee" stroke-width="1.0"/><path d="M350.49 83.31V93.31" stroke="#4fb6ee" stroke-width="0.7"/><circle cx="351.08" cy="80.05" r="2.3" fill="none" stroke="#4fb6ee" stroke-width="1.0"/><path d="M351.08 75.05V85.05" stroke="#4fb6ee" stroke-width="0.7"/><circle cx="351.67" cy="71.03" r="2.3" fill="none" stroke="#4fb6ee" stroke-width="1.0"/><path d="M351.67 66.03V76.03" stroke="#4fb6ee" stroke-width="0.7"/><circle cx="352.26" cy="67.24" r="2.3" fill="none" stroke="#4fb6ee" stroke-width="1.0"/><path d="M352.26 62.24V72.24" stroke="#4fb6ee" stroke-width="0.7"/><circle cx="352.85" cy="60.04" r="2.3" fill="none" stroke="#4fb6ee" stroke-width="1.0"/><path d="M352.85 55.04V65.04" stroke="#4fb6ee" stroke-width="0.7"/><circle cx="353.44" cy="53.38" r="2.3" fill="none" stroke="#4fb6ee" stroke-width="1.0"/><path d="M353.44 48.38V58.38" stroke="#4fb6ee" stroke-width="0.7"/><circle cx="354.03" cy="46.37" r="2.3" fill="none" stroke="#4fb6ee" stroke-width="1.0"/><path d="M354.03 41.37V51.37" stroke="#4fb6ee" stroke-width="0.7"/><circle cx="354.62" cy="45.1" r="2.3" fill="none" stroke="#4fb6ee" stroke-width="1.0"/><path d="M354.62 40.1V50.1" stroke="#4fb6ee" stroke-width="0.7"/><circle cx="355.21" cy="40.65" r="2.3" fill="none" stroke="#4fb6ee" stroke-width="1.0"/><path d="M355.21 35.65V45.65" stroke="#4fb6ee" stroke-width="0.7"/><circle cx="355.8" cy="44.74" r="2.3" fill="none" stroke="#4fb6ee" stroke-width="1.0"/><path d="M355.8 39.74V49.74" stroke="#4fb6ee" stroke-width="0.7"/><circle cx="356.39" cy="45.15" r="2.3" fill="none" stroke="#4fb6ee" stroke-width="1.0"/><path d="M356.39 40.15V50.15" stroke="#4fb6ee" stroke-width="0.7"/><circle cx="356.98" cy="48.63" r="2.3" fill="none" stroke="#4fb6ee" stroke-width="1.0"/><path d="M356.98 43.63V53.63" stroke="#4fb6ee" stroke-width="0.7"/><circle cx="357.57" cy="51.89" r="2.3" fill="none" stroke="#4fb6ee" stroke-width="1.0"/><path d="M357.57 46.89V56.89" stroke="#4fb6ee" stroke-width="0.7"/><circle cx="358.16" cy="57.59" r="2.3" fill="none" stroke="#4fb6ee" stroke-width="1.0"/><path d="M358.16 52.59V62.59" stroke="#4fb6ee" stroke-width="0.7"/><circle cx="358.75" cy="68.96" r="2.3" fill="none" stroke="#4fb6ee" stroke-width="1.0"/><path d="M358.75 63.96V73.96" stroke="#4fb6ee" stroke-width="0.7"/><circle cx="359.34" cy="75.27" r="2.3" fill="none" stroke="#4fb6ee" stroke-width="1.0"/><path d="M359.34 70.27V80.27" stroke="#4fb6ee" stroke-width="0.7"/><circle cx="359.93" cy="80.35" r="2.3" fill="none" stroke="#4fb6ee" stroke-width="1.0"/><path d="M359.93 75.35V85.35" stroke="#4fb6ee" stroke-width="0.7"/><circle cx="360.52" cy="88.81" r="2.3" fill="none" stroke="#4fb6ee" stroke-width="1.0"/><path d="M360.52 83.81V93.81" stroke="#4fb6ee" stroke-width="0.7"/><circle cx="361.11" cy="96.1" r="2.3" fill="none" stroke="#4fb6ee" stroke-width="1.0"/><path d="M361.11 91.1V101.1" stroke="#4fb6ee" stroke-width="0.7"/><circle cx="361.7" cy="96.1" r="2.3" fill="none" stroke="#4fb6ee" stroke-width="1.0"/><path d="M361.7 91.1V101.1" stroke="#4fb6ee" stroke-width="0.7"/><circle cx="362.29" cy="99.94" r="2.3" fill="none" stroke="#4fb6ee" stroke-width="1.0"/><path d="M362.29 94.94V104.94" stroke="#4fb6ee" stroke-width="0.7"/><circle cx="362.88" cy="101.08" r="2.3" fill="none" stroke="#4fb6ee" stroke-width="1.0"/><path d="M362.88 96.08V106.08" stroke="#4fb6ee" stroke-width="0.7"/><circle cx="363.47" cy="102.08" r="2.3" fill="none" stroke="#4fb6ee" stroke-width="1.0"/><path d="M363.47 97.08V107.08" stroke="#4fb6ee" stroke-width="0.7"/><circle cx="364.06" cy="96.94" r="2.3" fill="none" stroke="#4fb6ee" stroke-width="1.0"/><path d="M364.06 91.94V101.94" stroke="#4fb6ee" stroke-width="0.7"/><circle cx="364.65" cy="95.07" r="2.3" fill="none" stroke="#4fb6ee" stroke-width="1.0"/><path d="M364.65 90.07V100.07" stroke="#4fb6ee" stroke-width="0.7"/><circle cx="365.24" cy="87.21" r="2.3" fill="none" stroke="#4fb6ee" stroke-width="1.0"/><path d="M365.24 82.21V92.21" stroke="#4fb6ee" stroke-width="0.7"/><circle cx="365.83" cy="84.25" r="2.3" fill="none" stroke="#4fb6ee" stroke-width="1.0"/><path d="M365.83 79.25V89.25" stroke="#4fb6ee" stroke-width="0.7"/><circle cx="366.42" cy="77" r="2.3" fill="none" stroke="#4fb6ee" stroke-width="1.0"/><path d="M366.42 72V82" stroke="#4fb6ee" stroke-width="0.7"/><circle cx="367.01" cy="67.77" r="2.3" fill="none" stroke="#4fb6ee" stroke-width="1.0"/><path d="M367.01 62.77V72.77" stroke="#4fb6ee" stroke-width="0.7"/><circle cx="367.6" cy="62.32" r="2.3" fill="none" stroke="#4fb6ee" stroke-width="1.0"/><path d="M367.6 57.32V67.32" stroke="#4fb6ee" stroke-width="0.7"/><circle cx="368.19" cy="53.49" r="2.3" fill="none" stroke="#4fb6ee" stroke-width="1.0"/><path d="M368.19 48.49V58.49" stroke="#4fb6ee" stroke-width="0.7"/><circle cx="368.78" cy="48.97" r="2.3" fill="none" stroke="#4fb6ee" stroke-width="1.0"/><path d="M368.78 43.97V53.97" stroke="#4fb6ee" stroke-width="0.7"/><circle cx="369.37" cy="47.28" r="2.3" fill="none" stroke="#4fb6ee" stroke-width="1.0"/><path d="M369.37 42.28V52.28" stroke="#4fb6ee" stroke-width="0.7"/><circle cx="369.96" cy="43.32" r="2.3" fill="none" stroke="#4fb6ee" stroke-width="1.0"/><path d="M369.96 38.32V48.32" stroke="#4fb6ee" stroke-width="0.7"/><circle cx="370.55" cy="43.72" r="2.3" fill="none" stroke="#4fb6ee" stroke-width="1.0"/><path d="M370.55 38.72V48.72" stroke="#4fb6ee" stroke-width="0.7"/><circle cx="371.14" cy="42.88" r="2.3" fill="none" stroke="#4fb6ee" stroke-width="1.0"/><path d="M371.14 37.88V47.88" stroke="#4fb6ee" stroke-width="0.7"/><circle cx="371.73" cy="48.89" r="2.3" fill="none" stroke="#4fb6ee" stroke-width="1.0"/><path d="M371.73 43.89V53.89" stroke="#4fb6ee" stroke-width="0.7"/><circle cx="372.32" cy="53.26" r="2.3" fill="none" stroke="#4fb6ee" stroke-width="1.0"/><path d="M372.32 48.26V58.26" stroke="#4fb6ee" stroke-width="0.7"/><circle cx="372.91" cy="56.21" r="2.3" fill="none" stroke="#4fb6ee" stroke-width="1.0"/><path d="M372.91 51.21V61.21" stroke="#4fb6ee" stroke-width="0.7"/><circle cx="373.5" cy="61.15" r="2.3" fill="none" stroke="#4fb6ee" stroke-width="1.0"/><path d="M373.5 56.15V66.15" stroke="#4fb6ee" stroke-width="0.7"/><circle cx="374.09" cy="68.86" r="2.3" fill="none" stroke="#4fb6ee" stroke-width="1.0"/><path d="M374.09 63.86V73.86" stroke="#4fb6ee" stroke-width="0.7"/><circle cx="374.68" cy="79.68" r="2.3" fill="none" stroke="#4fb6ee" stroke-width="1.0"/><path d="M374.68 74.68V84.68" stroke="#4fb6ee" stroke-width="0.7"/><circle cx="375.27" cy="86.2" r="2.3" fill="none" stroke="#4fb6ee" stroke-width="1.0"/><path d="M375.27 81.2V91.2" stroke="#4fb6ee" stroke-width="0.7"/><circle cx="375.86" cy="89.7" r="2.3" fill="none" stroke="#4fb6ee" stroke-width="1.0"/><path d="M375.86 84.7V94.7" stroke="#4fb6ee" stroke-width="0.7"/><circle cx="376.44" cy="97.44" r="2.3" fill="none" stroke="#4fb6ee" stroke-width="1.0"/><path d="M376.44 92.44V102.44" stroke="#4fb6ee" stroke-width="0.7"/><circle cx="377.03" cy="102.17" r="2.3" fill="none" stroke="#4fb6ee" stroke-width="1.0"/><path d="M377.03 97.17V107.17" stroke="#4fb6ee" stroke-width="0.7"/><circle cx="377.62" cy="101.55" r="2.3" fill="none" stroke="#4fb6ee" stroke-width="1.0"/><path d="M377.62 96.55V106.55" stroke="#4fb6ee" stroke-width="0.7"/><circle cx="378.21" cy="100.52" r="2.3" fill="none" stroke="#4fb6ee" stroke-width="1.0"/><path d="M378.21 95.52V105.52" stroke="#4fb6ee" stroke-width="0.7"/><circle cx="378.8" cy="100.7" r="2.3" fill="none" stroke="#4fb6ee" stroke-width="1.0"/><path d="M378.8 95.7V105.7" stroke="#4fb6ee" stroke-width="0.7"/><circle cx="379.39" cy="98.38" r="2.3" fill="none" stroke="#4fb6ee" stroke-width="1.0"/><path d="M379.39 93.38V103.38" stroke="#4fb6ee" stroke-width="0.7"/><circle cx="379.98" cy="92.72" r="2.3" fill="none" stroke="#4fb6ee" stroke-width="1.0"/><path d="M379.98 87.72V97.72" stroke="#4fb6ee" stroke-width="0.7"/><circle cx="380.57" cy="82.41" r="2.3" fill="none" stroke="#4fb6ee" stroke-width="1.0"/><path d="M380.57 77.41V87.41" stroke="#4fb6ee" stroke-width="0.7"/><circle cx="381.16" cy="78.03" r="2.3" fill="none" stroke="#4fb6ee" stroke-width="1.0"/><path d="M381.16 73.03V83.03" stroke="#4fb6ee" stroke-width="0.7"/><circle cx="381.75" cy="69.56" r="2.3" fill="none" stroke="#4fb6ee" stroke-width="1.0"/><path d="M381.75 64.56V74.56" stroke="#4fb6ee" stroke-width="0.7"/><circle cx="382.34" cy="61.78" r="2.3" fill="none" stroke="#4fb6ee" stroke-width="1.0"/><path d="M382.34 56.78V66.78" stroke="#4fb6ee" stroke-width="0.7"/><circle cx="382.93" cy="54.53" r="2.3" fill="none" stroke="#4fb6ee" stroke-width="1.0"/><path d="M382.93 49.53V59.53" stroke="#4fb6ee" stroke-width="0.7"/><circle cx="383.52" cy="50.91" r="2.3" fill="none" stroke="#4fb6ee" stroke-width="1.0"/><path d="M383.52 45.91V55.91" stroke="#4fb6ee" stroke-width="0.7"/><circle cx="384.11" cy="45.27" r="2.3" fill="none" stroke="#4fb6ee" stroke-width="1.0"/><path d="M384.11 40.27V50.27" stroke="#4fb6ee" stroke-width="0.7"/><circle cx="384.7" cy="45.5" r="2.3" fill="none" stroke="#4fb6ee" stroke-width="1.0"/><path d="M384.7 40.5V50.5" stroke="#4fb6ee" stroke-width="0.7"/><circle cx="385.29" cy="43.84" r="2.3" fill="none" stroke="#4fb6ee" stroke-width="1.0"/><path d="M385.29 38.84V48.84" stroke="#4fb6ee" stroke-width="0.7"/><circle cx="385.88" cy="46.28" r="2.3" fill="none" stroke="#4fb6ee" stroke-width="1.0"/><path d="M385.88 41.28V51.28" stroke="#4fb6ee" stroke-width="0.7"/><circle cx="386.47" cy="45.07" r="2.3" fill="none" stroke="#4fb6ee" stroke-width="1.0"/><path d="M386.47 40.07V50.07" stroke="#4fb6ee" stroke-width="0.7"/><circle cx="387.06" cy="51.77" r="2.3" fill="none" stroke="#4fb6ee" stroke-width="1.0"/><path d="M387.06 46.77V56.77" stroke="#4fb6ee" stroke-width="0.7"/><circle cx="387.65" cy="58.91" r="2.3" fill="none" stroke="#4fb6ee" stroke-width="1.0"/><path d="M387.65 53.91V63.91" stroke="#4fb6ee" stroke-width="0.7"/><circle cx="388.24" cy="64.85" r="2.3" fill="none" stroke="#4fb6ee" stroke-width="1.0"/><path d="M388.24 59.85V69.85" stroke="#4fb6ee" stroke-width="0.7"/><circle cx="388.83" cy="71.8" r="2.3" fill="none" stroke="#4fb6ee" stroke-width="1.0"/><path d="M388.83 66.8V76.8" stroke="#4fb6ee" stroke-width="0.7"/><circle cx="389.42" cy="77.28" r="2.3" fill="none" stroke="#4fb6ee" stroke-width="1.0"/><path d="M389.42 72.28V82.28" stroke="#4fb6ee" stroke-width="0.7"/><circle cx="390.01" cy="88.62" r="2.3" fill="none" stroke="#4fb6ee" stroke-width="1.0"/><path d="M390.01 83.62V93.62" stroke="#4fb6ee" stroke-width="0.7"/><circle cx="390.6" cy="93.6" r="2.3" fill="none" stroke="#4fb6ee" stroke-width="1.0"/><path d="M390.6 88.6V98.6" stroke="#4fb6ee" stroke-width="0.7"/><circle cx="391.19" cy="97.2" r="2.3" fill="none" stroke="#4fb6ee" stroke-width="1.0"/><path d="M391.19 92.2V102.2" stroke="#4fb6ee" stroke-width="0.7"/><circle cx="391.78" cy="94.89" r="2.3" fill="none" stroke="#4fb6ee" stroke-width="1.0"/><path d="M391.78 89.89V99.89" stroke="#4fb6ee" stroke-width="0.7"/><circle cx="392.37" cy="99.65" r="2.3" fill="none" stroke="#4fb6ee" stroke-width="1.0"/><path d="M392.37 94.65V104.65" stroke="#4fb6ee" stroke-width="0.7"/><circle cx="392.96" cy="101.62" r="2.3" fill="none" stroke="#4fb6ee" stroke-width="1.0"/><path d="M392.96 96.62V106.62" stroke="#4fb6ee" stroke-width="0.7"/><circle cx="393.55" cy="98.09" r="2.3" fill="none" stroke="#4fb6ee" stroke-width="1.0"/><path d="M393.55 93.09V103.09" stroke="#4fb6ee" stroke-width="0.7"/><circle cx="394.14" cy="91.84" r="2.3" fill="none" stroke="#4fb6ee" stroke-width="1.0"/><path d="M394.14 86.84V96.84" stroke="#4fb6ee" stroke-width="0.7"/><circle cx="394.73" cy="91.31" r="2.3" fill="none" stroke="#4fb6ee" stroke-width="1.0"/><path d="M394.73 86.31V96.31" stroke="#4fb6ee" stroke-width="0.7"/><circle cx="395.32" cy="85.38" r="2.3" fill="none" stroke="#4fb6ee" stroke-width="1.0"/><path d="M395.32 80.38V90.38" stroke="#4fb6ee" stroke-width="0.7"/><circle cx="395.91" cy="75.31" r="2.3" fill="none" stroke="#4fb6ee" stroke-width="1.0"/><path d="M395.91 70.31V80.31" stroke="#4fb6ee" stroke-width="0.7"/><circle cx="396.5" cy="69.47" r="2.3" fill="none" stroke="#4fb6ee" stroke-width="1.0"/><path d="M396.5 64.47V74.47" stroke="#4fb6ee" stroke-width="0.7"/><circle cx="397.09" cy="61.97" r="2.3" fill="none" stroke="#4fb6ee" stroke-width="1.0"/><path d="M397.09 56.97V66.97" stroke="#4fb6ee" stroke-width="0.7"/><circle cx="397.68" cy="57.76" r="2.3" fill="none" stroke="#4fb6ee" stroke-width="1.0"/><path d="M397.68 52.76V62.76" stroke="#4fb6ee" stroke-width="0.7"/><circle cx="398.27" cy="47.3" r="2.3" fill="none" stroke="#4fb6ee" stroke-width="1.0"/><path d="M398.27 42.3V52.3" stroke="#4fb6ee" stroke-width="0.7"/><circle cx="398.86" cy="43.46" r="2.3" fill="none" stroke="#4fb6ee" stroke-width="1.0"/><path d="M398.86 38.46V48.46" stroke="#4fb6ee" stroke-width="0.7"/><circle cx="399.45" cy="43.07" r="2.3" fill="none" stroke="#4fb6ee" stroke-width="1.0"/><path d="M399.45 38.07V48.07" stroke="#4fb6ee" stroke-width="0.7"/><circle cx="400.04" cy="41.9" r="2.3" fill="none" stroke="#4fb6ee" stroke-width="1.0"/><path d="M400.04 36.9V46.9" stroke="#4fb6ee" stroke-width="0.7"/><circle cx="400.63" cy="48.25" r="2.3" fill="none" stroke="#4fb6ee" stroke-width="1.0"/><path d="M400.63 43.25V53.25" stroke="#4fb6ee" stroke-width="0.7"/><circle cx="401.22" cy="45.51" r="2.3" fill="none" stroke="#4fb6ee" stroke-width="1.0"/><path d="M401.22 40.51V50.51" stroke="#4fb6ee" stroke-width="0.7"/><circle cx="401.81" cy="51.42" r="2.3" fill="none" stroke="#4fb6ee" stroke-width="1.0"/><path d="M401.81 46.42V56.42" stroke="#4fb6ee" stroke-width="0.7"/><circle cx="402.4" cy="55.7" r="2.3" fill="none" stroke="#4fb6ee" stroke-width="1.0"/><path d="M402.4 50.7V60.7" stroke="#4fb6ee" stroke-width="0.7"/><circle cx="402.99" cy="61.74" r="2.3" fill="none" stroke="#4fb6ee" stroke-width="1.0"/><path d="M402.99 56.74V66.74" stroke="#4fb6ee" stroke-width="0.7"/><circle cx="403.58" cy="70.93" r="2.3" fill="none" stroke="#4fb6ee" stroke-width="1.0"/><path d="M403.58 65.93V75.93" stroke="#4fb6ee" stroke-width="0.7"/><circle cx="404.17" cy="80.94" r="2.3" fill="none" stroke="#4fb6ee" stroke-width="1.0"/><path d="M404.17 75.94V85.94" stroke="#4fb6ee" stroke-width="0.7"/><circle cx="404.76" cy="83.67" r="2.3" fill="none" stroke="#4fb6ee" stroke-width="1.0"/><path d="M404.76 78.67V88.67" stroke="#4fb6ee" stroke-width="0.7"/><circle cx="405.35" cy="92.12" r="2.3" fill="none" stroke="#4fb6ee" stroke-width="1.0"/><path d="M405.35 87.12V97.12" stroke="#4fb6ee" stroke-width="0.7"/><circle cx="405.93" cy="96.34" r="2.3" fill="none" stroke="#4fb6ee" stroke-width="1.0"/><path d="M405.93 91.34V101.34" stroke="#4fb6ee" stroke-width="0.7"/><circle cx="406.52" cy="100.52" r="2.3" fill="none" stroke="#4fb6ee" stroke-width="1.0"/><path d="M406.52 95.52V105.52" stroke="#4fb6ee" stroke-width="0.7"/><circle cx="407.11" cy="101.93" r="2.3" fill="none" stroke="#4fb6ee" stroke-width="1.0"/><path d="M407.11 96.93V106.93" stroke="#4fb6ee" stroke-width="0.7"/><circle cx="407.7" cy="106.16" r="2.3" fill="none" stroke="#4fb6ee" stroke-width="1.0"/><path d="M407.7 101.16V111.16" stroke="#4fb6ee" stroke-width="0.7"/><circle cx="408.29" cy="97.24" r="2.3" fill="none" stroke="#4fb6ee" stroke-width="1.0"/><path d="M408.29 92.24V102.24" stroke="#4fb6ee" stroke-width="0.7"/><circle cx="408.88" cy="95.91" r="2.3" fill="none" stroke="#4fb6ee" stroke-width="1.0"/><path d="M408.88 90.91V100.91" stroke="#4fb6ee" stroke-width="0.7"/><circle cx="409.47" cy="89.31" r="2.3" fill="none" stroke="#4fb6ee" stroke-width="1.0"/><path d="M409.47 84.31V94.31" stroke="#4fb6ee" stroke-width="0.7"/><circle cx="410.06" cy="81.5" r="2.3" fill="none" stroke="#4fb6ee" stroke-width="1.0"/><path d="M410.06 76.5V86.5" stroke="#4fb6ee" stroke-width="0.7"/><circle cx="410.65" cy="78.76" r="2.3" fill="none" stroke="#4fb6ee" stroke-width="1.0"/><path d="M410.65 73.76V83.76" stroke="#4fb6ee" stroke-width="0.7"/><circle cx="411.24" cy="75.37" r="2.3" fill="none" stroke="#4fb6ee" stroke-width="1.0"/><path d="M411.24 70.37V80.37" stroke="#4fb6ee" stroke-width="0.7"/><circle cx="411.83" cy="66.32" r="2.3" fill="none" stroke="#4fb6ee" stroke-width="1.0"/><path d="M411.83 61.32V71.32" stroke="#4fb6ee" stroke-width="0.7"/><circle cx="412.42" cy="60.33" r="2.3" fill="none" stroke="#4fb6ee" stroke-width="1.0"/><path d="M412.42 55.33V65.33" stroke="#4fb6ee" stroke-width="0.7"/><circle cx="413.01" cy="53.12" r="2.3" fill="none" stroke="#4fb6ee" stroke-width="1.0"/><path d="M413.01 48.12V58.12" stroke="#4fb6ee" stroke-width="0.7"/><circle cx="413.6" cy="47.42" r="2.3" fill="none" stroke="#4fb6ee" stroke-width="1.0"/><path d="M413.6 42.42V52.42" stroke="#4fb6ee" stroke-width="0.7"/><circle cx="414.19" cy="48.89" r="2.3" fill="none" stroke="#4fb6ee" stroke-width="1.0"/><path d="M414.19 43.89V53.89" stroke="#4fb6ee" stroke-width="0.7"/><circle cx="414.78" cy="42.74" r="2.3" fill="none" stroke="#4fb6ee" stroke-width="1.0"/><path d="M414.78 37.74V47.74" stroke="#4fb6ee" stroke-width="0.7"/><circle cx="415.37" cy="47.26" r="2.3" fill="none" stroke="#4fb6ee" stroke-width="1.0"/><path d="M415.37 42.26V52.26" stroke="#4fb6ee" stroke-width="0.7"/><circle cx="415.96" cy="45.79" r="2.3" fill="none" stroke="#4fb6ee" stroke-width="1.0"/><path d="M415.96 40.79V50.79" stroke="#4fb6ee" stroke-width="0.7"/><circle cx="416.55" cy="50.62" r="2.3" fill="none" stroke="#4fb6ee" stroke-width="1.0"/><path d="M416.55 45.62V55.62" stroke="#4fb6ee" stroke-width="0.7"/><circle cx="417.14" cy="56.4" r="2.3" fill="none" stroke="#4fb6ee" stroke-width="1.0"/><path d="M417.14 51.4V61.4" stroke="#4fb6ee" stroke-width="0.7"/><circle cx="417.73" cy="62.26" r="2.3" fill="none" stroke="#4fb6ee" stroke-width="1.0"/><path d="M417.73 57.26V67.26" stroke="#4fb6ee" stroke-width="0.7"/><circle cx="418.32" cy="70.27" r="2.3" fill="none" stroke="#4fb6ee" stroke-width="1.0"/><path d="M418.32 65.27V75.27" stroke="#4fb6ee" stroke-width="0.7"/><circle cx="418.91" cy="77.64" r="2.3" fill="none" stroke="#4fb6ee" stroke-width="1.0"/><path d="M418.91 72.64V82.64" stroke="#4fb6ee" stroke-width="0.7"/><circle cx="419.5" cy="86.92" r="2.3" fill="none" stroke="#4fb6ee" stroke-width="1.0"/><path d="M419.5 81.92V91.92" stroke="#4fb6ee" stroke-width="0.7"/><circle cx="420.09" cy="89.66" r="2.3" fill="none" stroke="#4fb6ee" stroke-width="1.0"/><path d="M420.09 84.66V94.66" stroke="#4fb6ee" stroke-width="0.7"/><circle cx="420.68" cy="90.85" r="2.3" fill="none" stroke="#4fb6ee" stroke-width="1.0"/><path d="M420.68 85.85V95.85" stroke="#4fb6ee" stroke-width="0.7"/><circle cx="421.27" cy="94.39" r="2.3" fill="none" stroke="#4fb6ee" stroke-width="1.0"/><path d="M421.27 89.39V99.39" stroke="#4fb6ee" stroke-width="0.7"/><circle cx="421.86" cy="98.02" r="2.3" fill="none" stroke="#4fb6ee" stroke-width="1.0"/><path d="M421.86 93.02V103.02" stroke="#4fb6ee" stroke-width="0.7"/><circle cx="422.45" cy="99.79" r="2.3" fill="none" stroke="#4fb6ee" stroke-width="1.0"/><path d="M422.45 94.79V104.79" stroke="#4fb6ee" stroke-width="0.7"/><circle cx="423.04" cy="101.44" r="2.3" fill="none" stroke="#4fb6ee" stroke-width="1.0"/><path d="M423.04 96.44V106.44" stroke="#4fb6ee" stroke-width="0.7"/><circle cx="423.63" cy="93.78" r="2.3" fill="none" stroke="#4fb6ee" stroke-width="1.0"/><path d="M423.63 88.78V98.78" stroke="#4fb6ee" stroke-width="0.7"/><circle cx="424.22" cy="92.47" r="2.3" fill="none" stroke="#4fb6ee" stroke-width="1.0"/><path d="M424.22 87.47V97.47" stroke="#4fb6ee" stroke-width="0.7"/><circle cx="424.81" cy="86.7" r="2.3" fill="none" stroke="#4fb6ee" stroke-width="1.0"/><path d="M424.81 81.7V91.7" stroke="#4fb6ee" stroke-width="0.7"/><circle cx="425.4" cy="80.51" r="2.3" fill="none" stroke="#4fb6ee" stroke-width="1.0"/><path d="M425.4 75.51V85.51" stroke="#4fb6ee" stroke-width="0.7"/><circle cx="425.99" cy="72.54" r="2.3" fill="none" stroke="#4fb6ee" stroke-width="1.0"/><path d="M425.99 67.54V77.54" stroke="#4fb6ee" stroke-width="0.7"/><circle cx="426.58" cy="66.55" r="2.3" fill="none" stroke="#4fb6ee" stroke-width="1.0"/><path d="M426.58 61.55V71.55" stroke="#4fb6ee" stroke-width="0.7"/><circle cx="427.17" cy="59.06" r="2.3" fill="none" stroke="#4fb6ee" stroke-width="1.0"/><path d="M427.17 54.06V64.06" stroke="#4fb6ee" stroke-width="0.7"/><circle cx="427.76" cy="55.4" r="2.3" fill="none" stroke="#4fb6ee" stroke-width="1.0"/><path d="M427.76 50.4V60.4" stroke="#4fb6ee" stroke-width="0.7"/><circle cx="428.35" cy="49.17" r="2.3" fill="none" stroke="#4fb6ee" stroke-width="1.0"/><path d="M428.35 44.17V54.17" stroke="#4fb6ee" stroke-width="0.7"/><circle cx="428.94" cy="40.14" r="2.3" fill="none" stroke="#4fb6ee" stroke-width="1.0"/><path d="M428.94 35.14V45.14" stroke="#4fb6ee" stroke-width="0.7"/><circle cx="429.53" cy="43.86" r="2.3" fill="none" stroke="#4fb6ee" stroke-width="1.0"/><path d="M429.53 38.86V48.86" stroke="#4fb6ee" stroke-width="0.7"/><circle cx="430.12" cy="44.55" r="2.3" fill="none" stroke="#4fb6ee" stroke-width="1.0"/><path d="M430.12 39.55V49.55" stroke="#4fb6ee" stroke-width="0.7"/><circle cx="430.71" cy="44.92" r="2.3" fill="none" stroke="#4fb6ee" stroke-width="1.0"/><path d="M430.71 39.92V49.92" stroke="#4fb6ee" stroke-width="0.7"/><circle cx="431.3" cy="48.23" r="2.3" fill="none" stroke="#4fb6ee" stroke-width="1.0"/><path d="M431.3 43.23V53.23" stroke="#4fb6ee" stroke-width="0.7"/><circle cx="431.89" cy="57.41" r="2.3" fill="none" stroke="#4fb6ee" stroke-width="1.0"/><path d="M431.89 52.41V62.41" stroke="#4fb6ee" stroke-width="0.7"/><circle cx="432.48" cy="61.58" r="2.3" fill="none" stroke="#4fb6ee" stroke-width="1.0"/><path d="M432.48 56.58V66.58" stroke="#4fb6ee" stroke-width="0.7"/><circle cx="433.07" cy="65.96" r="2.3" fill="none" stroke="#4fb6ee" stroke-width="1.0"/><path d="M433.07 60.96V70.96" stroke="#4fb6ee" stroke-width="0.7"/><circle cx="433.66" cy="74.58" r="2.3" fill="none" stroke="#4fb6ee" stroke-width="1.0"/><path d="M433.66 69.58V79.58" stroke="#4fb6ee" stroke-width="0.7"/><circle cx="434.25" cy="81.91" r="2.3" fill="none" stroke="#4fb6ee" stroke-width="1.0"/><path d="M434.25 76.91V86.91" stroke="#4fb6ee" stroke-width="0.7"/><circle cx="434.84" cy="85.07" r="2.3" fill="none" stroke="#4fb6ee" stroke-width="1.0"/><path d="M434.84 80.07V90.07" stroke="#4fb6ee" stroke-width="0.7"/><circle cx="435.42" cy="95.48" r="2.3" fill="none" stroke="#4fb6ee" stroke-width="1.0"/><path d="M435.42 90.48V100.48" stroke="#4fb6ee" stroke-width="0.7"/><circle cx="436.01" cy="97.82" r="2.3" fill="none" stroke="#4fb6ee" stroke-width="1.0"/><path d="M436.01 92.82V102.82" stroke="#4fb6ee" stroke-width="0.7"/><circle cx="436.6" cy="101.64" r="2.3" fill="none" stroke="#4fb6ee" stroke-width="1.0"/><path d="M436.6 96.64V106.64" stroke="#4fb6ee" stroke-width="0.7"/><circle cx="437.19" cy="97.81" r="2.3" fill="none" stroke="#4fb6ee" stroke-width="1.0"/><path d="M437.19 92.81V102.81" stroke="#4fb6ee" stroke-width="0.7"/><circle cx="437.78" cy="104.56" r="2.3" fill="none" stroke="#4fb6ee" stroke-width="1.0"/><path d="M437.78 99.56V109.56" stroke="#4fb6ee" stroke-width="0.7"/><circle cx="438.37" cy="98.87" r="2.3" fill="none" stroke="#4fb6ee" stroke-width="1.0"/><path d="M438.37 93.87V103.87" stroke="#4fb6ee" stroke-width="0.7"/><circle cx="438.96" cy="94.23" r="2.3" fill="none" stroke="#4fb6ee" stroke-width="1.0"/><path d="M438.96 89.23V99.23" stroke="#4fb6ee" stroke-width="0.7"/><circle cx="439.55" cy="85.91" r="2.3" fill="none" stroke="#4fb6ee" stroke-width="1.0"/><path d="M439.55 80.91V90.91" stroke="#4fb6ee" stroke-width="0.7"/><circle cx="440.14" cy="79.52" r="2.3" fill="none" stroke="#4fb6ee" stroke-width="1.0"/><path d="M440.14 74.52V84.52" stroke="#4fb6ee" stroke-width="0.7"/><circle cx="440.73" cy="70.67" r="2.3" fill="none" stroke="#4fb6ee" stroke-width="1.0"/><path d="M440.73 65.67V75.67" stroke="#4fb6ee" stroke-width="0.7"/><circle cx="441.32" cy="70.35" r="2.3" fill="none" stroke="#4fb6ee" stroke-width="1.0"/><path d="M441.32 65.35V75.35" stroke="#4fb6ee" stroke-width="0.7"/><circle cx="441.91" cy="58.24" r="2.3" fill="none" stroke="#4fb6ee" stroke-width="1.0"/><path d="M441.91 53.24V63.24" stroke="#4fb6ee" stroke-width="0.7"/><circle cx="442.5" cy="54.66" r="2.3" fill="none" stroke="#4fb6ee" stroke-width="1.0"/><path d="M442.5 49.66V59.66" stroke="#4fb6ee" stroke-width="0.7"/><circle cx="443.09" cy="50.68" r="2.3" fill="none" stroke="#4fb6ee" stroke-width="1.0"/><path d="M443.09 45.68V55.68" stroke="#4fb6ee" stroke-width="0.7"/><circle cx="443.68" cy="44.5" r="2.3" fill="none" stroke="#4fb6ee" stroke-width="1.0"/><path d="M443.68 39.5V49.5" stroke="#4fb6ee" stroke-width="0.7"/><circle cx="444.27" cy="46.14" r="2.3" fill="none" stroke="#4fb6ee" stroke-width="1.0"/><path d="M444.27 41.14V51.14" stroke="#4fb6ee" stroke-width="0.7"/><circle cx="444.86" cy="48.86" r="2.3" fill="none" stroke="#4fb6ee" stroke-width="1.0"/><path d="M444.86 43.86V53.86" stroke="#4fb6ee" stroke-width="0.7"/><circle cx="445.45" cy="46.7" r="2.3" fill="none" stroke="#4fb6ee" stroke-width="1.0"/><path d="M445.45 41.7V51.7" stroke="#4fb6ee" stroke-width="0.7"/><circle cx="446.04" cy="52.77" r="2.3" fill="none" stroke="#4fb6ee" stroke-width="1.0"/><path d="M446.04 47.77V57.77" stroke="#4fb6ee" stroke-width="0.7"/><circle cx="446.63" cy="55.67" r="2.3" fill="none" stroke="#4fb6ee" stroke-width="1.0"/><path d="M446.63 50.67V60.67" stroke="#4fb6ee" stroke-width="0.7"/><circle cx="447.22" cy="59.3" r="2.3" fill="none" stroke="#4fb6ee" stroke-width="1.0"/><path d="M447.22 54.3V64.3" stroke="#4fb6ee" stroke-width="0.7"/><circle cx="447.81" cy="66.21" r="2.3" fill="none" stroke="#4fb6ee" stroke-width="1.0"/><path d="M447.81 61.21V71.21" stroke="#4fb6ee" stroke-width="0.7"/><circle cx="448.4" cy="70.33" r="2.3" fill="none" stroke="#4fb6ee" stroke-width="1.0"/><path d="M448.4 65.33V75.33" stroke="#4fb6ee" stroke-width="0.7"/><circle cx="448.99" cy="81.52" r="2.3" fill="none" stroke="#4fb6ee" stroke-width="1.0"/><path d="M448.99 76.52V86.52" stroke="#4fb6ee" stroke-width="0.7"/><circle cx="449.58" cy="91.12" r="2.3" fill="none" stroke="#4fb6ee" stroke-width="1.0"/><path d="M449.58 86.12V96.12" stroke="#4fb6ee" stroke-width="0.7"/><circle cx="450.17" cy="94.83" r="2.3" fill="none" stroke="#4fb6ee" stroke-width="1.0"/><path d="M450.17 89.83V99.83" stroke="#4fb6ee" stroke-width="0.7"/><circle cx="450.76" cy="99.46" r="2.3" fill="none" stroke="#4fb6ee" stroke-width="1.0"/><path d="M450.76 94.46V104.46" stroke="#4fb6ee" stroke-width="0.7"/><circle cx="451.35" cy="102.88" r="2.3" fill="none" stroke="#4fb6ee" stroke-width="1.0"/><path d="M451.35 97.88V107.88" stroke="#4fb6ee" stroke-width="0.7"/><circle cx="451.94" cy="99.96" r="2.3" fill="none" stroke="#4fb6ee" stroke-width="1.0"/><path d="M451.94 94.96V104.96" stroke="#4fb6ee" stroke-width="0.7"/><circle cx="452.53" cy="101.74" r="2.3" fill="none" stroke="#4fb6ee" stroke-width="1.0"/><path d="M452.53 96.74V106.74" stroke="#4fb6ee" stroke-width="0.7"/><circle cx="453.12" cy="102.41" r="2.3" fill="none" stroke="#4fb6ee" stroke-width="1.0"/><path d="M453.12 97.41V107.41" stroke="#4fb6ee" stroke-width="0.7"/><circle cx="453.71" cy="91.99" r="2.3" fill="none" stroke="#4fb6ee" stroke-width="1.0"/><path d="M453.71 86.99V96.99" stroke="#4fb6ee" stroke-width="0.7"/><circle cx="454.3" cy="88.53" r="2.3" fill="none" stroke="#4fb6ee" stroke-width="1.0"/><path d="M454.3 83.53V93.53" stroke="#4fb6ee" stroke-width="0.7"/><circle cx="454.89" cy="81.06" r="2.3" fill="none" stroke="#4fb6ee" stroke-width="1.0"/><path d="M454.89 76.06V86.06" stroke="#4fb6ee" stroke-width="0.7"/><circle cx="455.48" cy="74.72" r="2.3" fill="none" stroke="#4fb6ee" stroke-width="1.0"/><path d="M455.48 69.72V79.72" stroke="#4fb6ee" stroke-width="0.7"/><circle cx="456.07" cy="66.37" r="2.3" fill="none" stroke="#4fb6ee" stroke-width="1.0"/><path d="M456.07 61.37V71.37" stroke="#4fb6ee" stroke-width="0.7"/><circle cx="456.66" cy="60.98" r="2.3" fill="none" stroke="#4fb6ee" stroke-width="1.0"/><path d="M456.66 55.98V65.98" stroke="#4fb6ee" stroke-width="0.7"/><circle cx="457.25" cy="52.01" r="2.3" fill="none" stroke="#4fb6ee" stroke-width="1.0"/><path d="M457.25 47.01V57.01" stroke="#4fb6ee" stroke-width="0.7"/><circle cx="457.84" cy="48.95" r="2.3" fill="none" stroke="#4fb6ee" stroke-width="1.0"/><path d="M457.84 43.95V53.95" stroke="#4fb6ee" stroke-width="0.7"/><circle cx="458.43" cy="45.42" r="2.3" fill="none" stroke="#4fb6ee" stroke-width="1.0"/><path d="M458.43 40.42V50.42" stroke="#4fb6ee" stroke-width="0.7"/><circle cx="459.02" cy="43.38" r="2.3" fill="none" stroke="#4fb6ee" stroke-width="1.0"/><path d="M459.02 38.38V48.38" stroke="#4fb6ee" stroke-width="0.7"/><circle cx="459.61" cy="47.65" r="2.3" fill="none" stroke="#4fb6ee" stroke-width="1.0"/><path d="M459.61 42.65V52.65" stroke="#4fb6ee" stroke-width="0.7"/><path d="M263.4 63.75L263.65 60.67L263.89 57.76L264.14 55.04L264.38 52.54L264.63 50.28L264.88 48.29L265.12 46.57L265.37 45.16L265.61 44.05L265.86 43.25L266.11 42.78L266.35 42.62L266.6 42.78L266.84 43.25L267.09 44.03L267.34 45.09L267.58 46.43L267.83 48.02L268.08 49.85L268.32 51.89L268.57 54.12L268.81 56.51L269.06 59.03L269.31 61.65L269.55 64.35L269.8 67.1L270.04 69.86L270.29 72.6L270.54 75.29L270.78 77.92L271.03 80.44L271.27 82.83L271.52 85.08L271.77 87.15L272.01 89.02L272.26 90.69L272.5 92.13L272.75 93.33L273 94.28L273.24 94.98L273.49 95.42L273.73 95.6L273.98 95.51L274.23 95.17L274.47 94.59L274.72 93.76L274.96 92.71L275.21 91.44L275.46 89.98L275.7 88.34L275.95 86.54L276.19 84.61L276.44 82.56L276.69 80.42L276.93 78.21L277.18 75.96L277.43 73.7L277.67 71.44L277.92 69.21L278.16 67.04L278.41 64.95L278.66 62.96L278.9 61.08L279.15 59.35L279.39 57.77L279.64 56.36L279.89 55.13L280.13 54.1L280.38 53.27L280.62 52.66L280.87 52.25L281.12 52.06L281.36 52.09L281.61 52.33L281.85 52.78L282.1 53.42L282.35 54.26L282.59 55.28L282.84 56.46L283.08 57.79L283.33 59.26L283.58 60.85L283.82 62.54L284.07 64.31L284.31 66.13L284.56 68L284.81 69.89L285.05 71.77L285.3 73.64L285.55 75.46L285.79 77.22L286.04 78.91L286.28 80.49L286.53 81.97L286.78 83.32L287.02 84.53L287.27 85.58L287.51 86.48L287.76 87.21L288.01 87.76L288.25 88.14L288.5 88.33L288.74 88.34L288.99 88.18L289.24 87.84L289.48 87.33L289.73 86.65L289.97 85.82L290.22 84.86L290.47 83.75L290.71 82.54L290.96 81.21L291.2 79.81L291.45 78.32L291.7 76.79L291.94 75.21L292.19 73.62L292.43 72.02L292.68 70.44L292.93 68.88L293.17 67.38L293.42 65.93L293.67 64.57L293.91 63.29L294.16 62.12L294.4 61.07L294.65 60.14L294.9 59.35L295.14 58.7L295.39 58.2L295.63 57.85L295.88 57.65L296.13 57.61L296.37 57.72L296.62 57.98L296.86 58.39L297.11 58.94L297.36 59.62L297.6 60.43L297.85 61.35L298.09 62.38L298.34 63.49L298.59 64.69L298.83 65.95L299.08 67.26L299.32 68.61L299.57 69.98L299.82 71.36L300.06 72.73L300.31 74.07L300.55 75.38L300.8 76.64L301.05 77.83L301.29 78.95L301.54 79.98L301.78 80.91L302.03 81.74L302.28 82.45L302.52 83.04L302.77 83.5L303.02 83.83L303.26 84.03L303.51 84.09L303.75 84.02L304 83.82L304.25 83.49L304.49 83.04L304.74 82.47L304.98 81.79L305.23 81L305.48 80.13L305.72 79.17L305.97 78.13L306.21 77.04L306.46 75.9L306.71 74.73L306.95 73.53L307.2 72.32L307.44 71.12L307.69 69.94L307.94 68.78L308.18 67.67L308.43 66.6L308.67 65.61L308.92 64.68L309.17 63.85L309.41 63.1L309.66 62.45L309.9 61.91L310.15 61.48L310.4 61.16L310.64 60.97L310.89 60.89L311.14 60.92L311.38 61.08L311.63 61.35L311.87 61.73L312.12 62.21L312.37 62.8L312.61 63.47L312.86 64.24L313.1 65.08L313.35 65.98L313.6 66.94L313.84 67.95L314.09 68.99L314.33 70.05L314.58 71.13L314.83 72.2L315.07 73.26L315.32 74.3L315.56 75.3L315.81 76.26L316.06 77.17L316.3 78.01L316.55 78.78L316.79 79.46L317.04 80.06L317.29 80.56L317.53 80.97L317.78 81.28L318.02 81.48L318.27 81.57L318.52 81.56L318.76 81.44L319.01 81.22L319.26 80.9L319.5 80.48L319.75 79.97L319.99 79.37L320.24 78.7L320.49 77.95L320.73 77.15L320.98 76.29L321.22 75.38L321.47 74.45L321.72 73.49L321.96 72.51L322.21 71.54L322.45 70.57L322.7 69.62L322.95 68.71L323.19 67.82L323.44 66.99L323.68 66.22L323.93 65.5L324.18 64.86L324.42 64.3L324.67 63.82L324.91 63.43L325.16 63.14L325.41 62.94L325.65 62.83L325.9 62.82L326.14 62.91L326.39 63.1L326.64 63.37L326.88 63.74L327.13 64.19L327.37 64.72L327.62 65.33L327.87 66L328.11 66.73L328.36 67.51L328.61 68.33L328.85 69.19L329.1 70.07L329.34 70.96L329.59 71.86L329.84 72.75L330.08 73.63L330.33 74.49L330.57 75.31L330.82 76.08L331.07 76.81L331.31 77.48L331.56 78.09L331.8 78.62L332.05 79.08L332.3 79.46L332.54 79.75L332.79 79.95L333.03 80.07L333.28 80.09L333.53 80.03L333.77 79.88L334.02 79.63L334.26 79.31L334.51 78.9L334.76 78.42L335 77.87L335.25 77.26L335.49 76.59L335.74 75.87L335.99 75.11L336.23 74.32L336.48 73.5L336.73 72.67L336.97 71.83L337.22 70.99L337.46 70.16L337.71 69.36L337.96 68.59L338.2 67.85L338.45 67.16L338.69 66.52L338.94 65.94L339.19 65.42L339.43 64.98L339.68 64.61L339.92 64.32L340.17 64.11L340.42 63.99L340.66 63.95L340.91 64L341.15 64.13L341.4 64.34L341.65 64.63L341.89 65L342.14 65.44L342.38 65.94L342.63 66.51L342.88 67.13L343.12 67.81L343.37 68.52L343.61 69.26L343.86 70.03L344.11 70.82L344.35 71.61L344.6 72.4L344.85 73.19L345.09 73.95L345.34 74.69L345.58 75.4L345.83 76.06L346.08 76.68L346.32 77.24L346.57 77.74L346.81 78.17L347.06 78.54L347.31 78.83L347.55 79.04L347.8 79.17L348.04 79.22L348.29 79.19L348.54 79.09L348.78 78.9L349.03 78.63L349.27 78.3L349.52 77.89L349.77 77.42L350.01 76.89L350.26 76.3L350.5 75.67L350.75 75L351 74.29L351.24 73.56L351.49 72.81L351.73 72.05L351.98 71.29L352.23 70.54L352.47 69.8L352.72 69.09L352.96 68.41L353.21 67.76L353.46 67.17L353.7 66.62L353.95 66.13L354.2 65.7L354.44 65.34L354.69 65.05L354.93 64.83L355.18 64.69L355.43 64.63L355.67 64.64L355.92 64.73L356.16 64.9L356.41 65.14L356.66 65.45L356.9 65.83L357.15 66.27L357.39 66.78L357.64 67.33L357.89 67.93L358.13 68.57L358.38 69.25L358.62 69.95L358.87 70.67L359.12 71.4L359.36 72.14L359.61 72.86L359.85 73.58L360.1 74.27L360.35 74.93L360.59 75.56L360.84 76.15L361.08 76.69L361.33 77.17L361.58 77.6L361.82 77.96L362.07 78.25L362.32 78.47L362.56 78.62L362.81 78.7L363.05 78.7L363.3 78.62L363.55 78.48L363.79 78.25L364.04 77.96L364.28 77.61L364.53 77.19L364.78 76.71L365.02 76.18L365.27 75.6L365.51 74.98L365.76 74.33L366.01 73.65L366.25 72.96L366.5 72.25L366.74 71.54L366.99 70.83L367.24 70.13L367.48 69.45L367.73 68.8L367.97 68.18L368.22 67.6L368.47 67.07L368.71 66.59L368.96 66.17L369.2 65.8L369.45 65.51L369.7 65.28L369.94 65.12L370.19 65.03L370.44 65.02L370.68 65.08L370.93 65.21L371.17 65.42L371.42 65.69L371.67 66.03L371.91 66.43L372.16 66.89L372.4 67.4L372.65 67.95L372.9 68.55L373.14 69.18L373.39 69.84L373.63 70.52L373.88 71.21L374.13 71.91L374.37 72.6L374.62 73.29L374.86 73.95L375.11 74.6L375.36 75.21L375.6 75.78L375.85 76.31L376.09 76.79L376.34 77.22L376.59 77.58L376.83 77.88L377.08 78.12L377.32 78.28L377.57 78.38L377.82 78.4L378.06 78.36L378.31 78.24L378.55 78.05L378.8 77.79L379.05 77.47L379.29 77.09L379.54 76.65L379.79 76.16L380.03 75.62L380.28 75.04L380.52 74.42L380.77 73.78L381.02 73.11L381.26 72.44L381.51 71.75L381.75 71.07L382 70.39L382.25 69.73L382.49 69.1L382.74 68.49L382.98 67.92L383.23 67.39L383.48 66.91L383.72 66.49L383.97 66.12L384.21 65.81L384.46 65.57L384.71 65.39L384.95 65.28L385.2 65.25L385.44 65.29L385.69 65.39L385.94 65.57L386.18 65.81L386.43 66.11L386.67 66.48L386.92 66.91L387.17 67.38L387.41 67.91L387.66 68.47L387.91 69.08L388.15 69.71L388.4 70.36L388.64 71.02L388.89 71.7L389.14 72.37L389.38 73.04L389.63 73.7L389.87 74.33L390.12 74.93L390.37 75.5L390.61 76.03L390.86 76.51L391.1 76.94L391.35 77.32L391.6 77.63L391.84 77.88L392.09 78.06L392.33 78.18L392.58 78.23L392.83 78.2L393.07 78.11L393.32 77.95L393.56 77.72L393.81 77.42L394.06 77.07L394.3 76.66L394.55 76.19L394.79 75.68L395.04 75.13L395.29 74.54L395.53 73.92L395.78 73.28L396.03 72.62L396.27 71.95L396.52 71.29L396.76 70.62L397.01 69.97L397.26 69.35L397.5 68.74L397.75 68.17L397.99 67.64L398.24 67.16L398.49 66.72L398.73 66.34L398.98 66.02L399.22 65.76L399.47 65.57L399.72 65.45L399.96 65.39L400.21 65.4L400.45 65.48L400.7 65.63L400.95 65.85L401.19 66.13L401.44 66.47L401.68 66.87L401.93 67.32L402.18 67.82L402.42 68.37L402.67 68.95L402.91 69.56L403.16 70.19L403.41 70.84L403.65 71.5L403.9 72.16L404.14 72.82L404.39 73.47L404.64 74.1L404.88 74.7L405.13 75.27L405.38 75.8L405.62 76.29L405.87 76.73L406.11 77.12L406.36 77.44L406.61 77.71L406.85 77.91L407.1 78.05L407.34 78.11L407.59 78.11L407.84 78.04L408.08 77.9L408.33 77.7L408.57 77.43L408.82 77.1L409.07 76.71L409.31 76.27L409.56 75.78L409.8 75.25L410.05 74.68L410.3 74.08L410.54 73.45L410.79 72.81L411.03 72.15L411.28 71.49L411.53 70.84L411.77 70.19L412.02 69.56L412.26 68.96L412.51 68.39L412.76 67.85L413 67.36L413.25 66.91L413.5 66.52L413.74 66.19L413.99 65.91L414.23 65.7L414.48 65.56L414.73 65.48L414.97 65.47L415.22 65.53L415.46 65.66L415.71 65.85L415.96 66.11L416.2 66.43L416.45 66.81L416.69 67.24L416.94 67.72L417.19 68.24L417.43 68.8L417.68 69.4L417.92 70.02L418.17 70.66L418.42 71.31L418.66 71.96L418.91 72.61L419.15 73.26L419.4 73.89L419.65 74.49L419.89 75.07L420.14 75.61L420.38 76.1L420.63 76.55L420.88 76.95L421.12 77.29L421.37 77.58L421.62 77.8L421.86 77.95L422.11 78.04L422.35 78.06L422.6 78.01L422.85 77.89L423.09 77.71L423.34 77.46L423.58 77.15L423.83 76.79L424.08 76.37L424.32 75.9L424.57 75.38L424.81 74.83L425.06 74.24L425.31 73.62L425.55 72.99L425.8 72.34L426.04 71.69L426.29 71.04L426.54 70.4L426.78 69.77L427.03 69.16L427.27 68.58L427.52 68.04L427.77 67.54L428.01 67.08L428.26 66.68L428.5 66.33L428.75 66.03L429 65.81L429.24 65.64L429.49 65.55L429.73 65.52L429.98 65.55L430.23 65.66L430.47 65.83L430.72 66.07L430.97 66.37L431.21 66.72L431.46 67.14L431.7 67.6L431.95 68.1L432.2 68.65L432.44 69.23L432.69 69.84L432.93 70.47L433.18 71.11L433.43 71.76L433.67 72.41L433.92 73.06L434.16 73.69L434.41 74.3L434.66 74.88L434.9 75.42L435.15 75.93L435.39 76.39L435.64 76.81L435.89 77.16L436.13 77.46L436.38 77.7L436.62 77.87L436.87 77.98L437.12 78.02L437.36 77.99L437.61 77.9L437.85 77.74L438.1 77.51L438.35 77.22L438.59 76.88L438.84 76.47L439.09 76.02L439.33 75.52L439.58 74.98L439.82 74.4L440.07 73.8L440.32 73.18L440.56 72.54L440.81 71.89L441.05 71.24L441.3 70.6L441.55 69.96L441.79 69.35L442.04 68.77L442.28 68.22L442.53 67.7L442.78 67.24L443.02 66.82L443.27 66.45L443.51 66.14L443.76 65.9L444.01 65.71L444.25 65.6L444.5 65.55L444.74 65.56L444.99 65.65L445.24 65.8L445.48 66.02L445.73 66.29L445.97 66.63L446.22 67.03L446.47 67.47L446.71 67.96L446.96 68.5L447.21 69.07L447.45 69.66L447.7 70.28L447.94 70.92L448.19 71.57L448.44 72.22L448.68 72.86L448.93 73.49L449.17 74.11L449.42 74.69L449.67 75.25L449.91 75.77L450.16 76.24L450.4 76.67L450.65 77.04L450.9 77.36L451.14 77.62L451.39 77.81L451.63 77.94L451.88 78L452.13 77.99L452.37 77.91L452.62 77.77L452.86 77.57L453.11 77.3L453.36 76.97L453.6 76.58L453.85 76.15L454.09 75.66L454.34 75.14L454.59 74.57L454.83 73.98L455.08 73.36L455.32 72.73L455.57 72.08L455.82 71.44L456.06 70.79L456.31 70.16L456.56 69.54L456.8 68.95L457.05 68.39L457.29 67.87L457.54 67.38L457.79 66.95L458.03 66.57L458.28 66.24L458.52 65.98L458.77 65.78L459.02 65.64L459.26 65.57L459.51 65.57L459.75 65.63L460 65.76" fill="none" stroke="#1f6fae" stroke-width="1.2"/><circle cx="263.4" cy="63.82" r="2.3" fill="#fff" stroke="#1f6fae" stroke-width="1.1"/><circle cx="264.27" cy="53.83" r="2.3" fill="#fff" stroke="#1f6fae" stroke-width="1.1"/><circle cx="265.13" cy="46.44" r="2.3" fill="#fff" stroke="#1f6fae" stroke-width="1.1"/><circle cx="266" cy="43.51" r="2.3" fill="#fff" stroke="#1f6fae" stroke-width="1.1"/><circle cx="266.86" cy="42.61" r="2.3" fill="#fff" stroke="#1f6fae" stroke-width="1.1"/><circle cx="267.73" cy="47.28" r="2.3" fill="#fff" stroke="#1f6fae" stroke-width="1.1"/><circle cx="268.59" cy="54.85" r="2.3" fill="#fff" stroke="#1f6fae" stroke-width="1.1"/><circle cx="269.46" cy="64.02" r="2.3" fill="#fff" stroke="#1f6fae" stroke-width="1.1"/><circle cx="270.32" cy="73.06" r="2.3" fill="#fff" stroke="#1f6fae" stroke-width="1.1"/><circle cx="271.19" cy="82.03" r="2.3" fill="#fff" stroke="#1f6fae" stroke-width="1.1"/><circle cx="272.05" cy="89.61" r="2.3" fill="#fff" stroke="#1f6fae" stroke-width="1.1"/><circle cx="272.92" cy="93.96" r="2.3" fill="#fff" stroke="#1f6fae" stroke-width="1.1"/><circle cx="273.78" cy="95.88" r="2.3" fill="#fff" stroke="#1f6fae" stroke-width="1.1"/><circle cx="274.65" cy="93.79" r="2.3" fill="#fff" stroke="#1f6fae" stroke-width="1.1"/><circle cx="275.51" cy="89.96" r="2.3" fill="#fff" stroke="#1f6fae" stroke-width="1.1"/><circle cx="276.38" cy="83.13" r="2.3" fill="#fff" stroke="#1f6fae" stroke-width="1.1"/><circle cx="277.24" cy="74.96" r="2.3" fill="#fff" stroke="#1f6fae" stroke-width="1.1"/><circle cx="278.11" cy="66.38" r="2.3" fill="#fff" stroke="#1f6fae" stroke-width="1.1"/><circle cx="278.97" cy="61.04" r="2.3" fill="#fff" stroke="#1f6fae" stroke-width="1.1"/><circle cx="279.84" cy="55.58" r="2.3" fill="#fff" stroke="#1f6fae" stroke-width="1.1"/><circle cx="280.7" cy="52.9" r="2.3" fill="#fff" stroke="#1f6fae" stroke-width="1.1"/><circle cx="281.57" cy="51.91" r="2.3" fill="#fff" stroke="#1f6fae" stroke-width="1.1"/><circle cx="282.43" cy="55.13" r="2.3" fill="#fff" stroke="#1f6fae" stroke-width="1.1"/><circle cx="283.3" cy="59.28" r="2.3" fill="#fff" stroke="#1f6fae" stroke-width="1.1"/><circle cx="284.16" cy="65" r="2.3" fill="#fff" stroke="#1f6fae" stroke-width="1.1"/><circle cx="285.03" cy="72.03" r="2.3" fill="#fff" stroke="#1f6fae" stroke-width="1.1"/><circle cx="285.89" cy="78.38" r="2.3" fill="#fff" stroke="#1f6fae" stroke-width="1.1"/><circle cx="286.76" cy="83.45" r="2.3" fill="#fff" stroke="#1f6fae" stroke-width="1.1"/><circle cx="287.62" cy="87.84" r="2.3" fill="#fff" stroke="#1f6fae" stroke-width="1.1"/><circle cx="288.49" cy="89.03" r="2.3" fill="#fff" stroke="#1f6fae" stroke-width="1.1"/><circle cx="289.35" cy="87.82" r="2.3" fill="#fff" stroke="#1f6fae" stroke-width="1.1"/><circle cx="290.22" cy="84.8" r="2.3" fill="#fff" stroke="#1f6fae" stroke-width="1.1"/><circle cx="291.08" cy="80.61" r="2.3" fill="#fff" stroke="#1f6fae" stroke-width="1.1"/><circle cx="291.95" cy="76.08" r="2.3" fill="#fff" stroke="#1f6fae" stroke-width="1.1"/><circle cx="292.81" cy="69.84" r="2.3" fill="#fff" stroke="#1f6fae" stroke-width="1.1"/><circle cx="293.68" cy="64.1" r="2.3" fill="#fff" stroke="#1f6fae" stroke-width="1.1"/><circle cx="294.54" cy="60.25" r="2.3" fill="#fff" stroke="#1f6fae" stroke-width="1.1"/><circle cx="295.41" cy="58.21" r="2.3" fill="#fff" stroke="#1f6fae" stroke-width="1.1"/><circle cx="296.27" cy="58.12" r="2.3" fill="#fff" stroke="#1f6fae" stroke-width="1.1"/><circle cx="297.14" cy="58.68" r="2.3" fill="#fff" stroke="#1f6fae" stroke-width="1.1"/><circle cx="298" cy="62.28" r="2.3" fill="#fff" stroke="#1f6fae" stroke-width="1.1"/><circle cx="298.87" cy="66.75" r="2.3" fill="#fff" stroke="#1f6fae" stroke-width="1.1"/><circle cx="299.73" cy="71.31" r="2.3" fill="#fff" stroke="#1f6fae" stroke-width="1.1"/><circle cx="300.6" cy="74.83" r="2.3" fill="#fff" stroke="#1f6fae" stroke-width="1.1"/><circle cx="301.46" cy="79.55" r="2.3" fill="#fff" stroke="#1f6fae" stroke-width="1.1"/><circle cx="302.33" cy="81.96" r="2.3" fill="#fff" stroke="#1f6fae" stroke-width="1.1"/><circle cx="303.19" cy="84.25" r="2.3" fill="#fff" stroke="#1f6fae" stroke-width="1.1"/><circle cx="304.06" cy="83.25" r="2.3" fill="#fff" stroke="#1f6fae" stroke-width="1.1"/><circle cx="304.92" cy="82.3" r="2.3" fill="#fff" stroke="#1f6fae" stroke-width="1.1"/><circle cx="305.79" cy="78.99" r="2.3" fill="#fff" stroke="#1f6fae" stroke-width="1.1"/><circle cx="306.65" cy="73.62" r="2.3" fill="#fff" stroke="#1f6fae" stroke-width="1.1"/><circle cx="307.52" cy="70.34" r="2.3" fill="#fff" stroke="#1f6fae" stroke-width="1.1"/><circle cx="308.38" cy="67.08" r="2.3" fill="#fff" stroke="#1f6fae" stroke-width="1.1"/><circle cx="309.25" cy="63.64" r="2.3" fill="#fff" stroke="#1f6fae" stroke-width="1.1"/><circle cx="310.11" cy="61.36" r="2.3" fill="#fff" stroke="#1f6fae" stroke-width="1.1"/><circle cx="310.98" cy="60.2" r="2.3" fill="#fff" stroke="#1f6fae" stroke-width="1.1"/><circle cx="311.84" cy="61.95" r="2.3" fill="#fff" stroke="#1f6fae" stroke-width="1.1"/><circle cx="312.71" cy="64.76" r="2.3" fill="#fff" stroke="#1f6fae" stroke-width="1.1"/><circle cx="313.57" cy="67.01" r="2.3" fill="#fff" stroke="#1f6fae" stroke-width="1.1"/><circle cx="314.44" cy="70.49" r="2.3" fill="#fff" stroke="#1f6fae" stroke-width="1.1"/><circle cx="315.3" cy="74.17" r="2.3" fill="#fff" stroke="#1f6fae" stroke-width="1.1"/><circle cx="316.17" cy="76.79" r="2.3" fill="#fff" stroke="#1f6fae" stroke-width="1.1"/><circle cx="317.03" cy="79.86" r="2.3" fill="#fff" stroke="#1f6fae" stroke-width="1.1"/><circle cx="317.9" cy="80.91" r="2.3" fill="#fff" stroke="#1f6fae" stroke-width="1.1"/><circle cx="318.76" cy="82.09" r="2.3" fill="#fff" stroke="#1f6fae" stroke-width="1.1"/><circle cx="319.63" cy="79.71" r="2.3" fill="#fff" stroke="#1f6fae" stroke-width="1.1"/><circle cx="320.49" cy="76.67" r="2.3" fill="#fff" stroke="#1f6fae" stroke-width="1.1"/><circle cx="321.36" cy="74.41" r="2.3" fill="#fff" stroke="#1f6fae" stroke-width="1.1"/><circle cx="322.22" cy="71.33" r="2.3" fill="#fff" stroke="#1f6fae" stroke-width="1.1"/><circle cx="323.09" cy="68.1" r="2.3" fill="#fff" stroke="#1f6fae" stroke-width="1.1"/><circle cx="323.95" cy="64.35" r="2.3" fill="#fff" stroke="#1f6fae" stroke-width="1.1"/><circle cx="324.82" cy="64.15" r="2.3" fill="#fff" stroke="#1f6fae" stroke-width="1.1"/><circle cx="325.68" cy="62.89" r="2.3" fill="#fff" stroke="#1f6fae" stroke-width="1.1"/><circle cx="326.55" cy="62.98" r="2.3" fill="#fff" stroke="#1f6fae" stroke-width="1.1"/><circle cx="327.41" cy="64.35" r="2.3" fill="#fff" stroke="#1f6fae" stroke-width="1.1"/><circle cx="328.28" cy="67.52" r="2.3" fill="#fff" stroke="#1f6fae" stroke-width="1.1"/><circle cx="329.14" cy="70.04" r="2.3" fill="#fff" stroke="#1f6fae" stroke-width="1.1"/><circle cx="330.01" cy="73.55" r="2.3" fill="#fff" stroke="#1f6fae" stroke-width="1.1"/><circle cx="330.87" cy="76.17" r="2.3" fill="#fff" stroke="#1f6fae" stroke-width="1.1"/><circle cx="331.74" cy="78.57" r="2.3" fill="#fff" stroke="#1f6fae" stroke-width="1.1"/><circle cx="332.6" cy="80.54" r="2.3" fill="#fff" stroke="#1f6fae" stroke-width="1.1"/><circle cx="333.47" cy="80.07" r="2.3" fill="#fff" stroke="#1f6fae" stroke-width="1.1"/><circle cx="334.33" cy="78.64" r="2.3" fill="#fff" stroke="#1f6fae" stroke-width="1.1"/><circle cx="335.2" cy="78.02" r="2.3" fill="#fff" stroke="#1f6fae" stroke-width="1.1"/><circle cx="336.06" cy="75.02" r="2.3" fill="#fff" stroke="#1f6fae" stroke-width="1.1"/><circle cx="336.93" cy="71.54" r="2.3" fill="#fff" stroke="#1f6fae" stroke-width="1.1"/><circle cx="337.79" cy="69.8" r="2.3" fill="#fff" stroke="#1f6fae" stroke-width="1.1"/><circle cx="338.66" cy="66.49" r="2.3" fill="#fff" stroke="#1f6fae" stroke-width="1.1"/><circle cx="339.52" cy="65.54" r="2.3" fill="#fff" stroke="#1f6fae" stroke-width="1.1"/><circle cx="340.39" cy="63.24" r="2.3" fill="#fff" stroke="#1f6fae" stroke-width="1.1"/><circle cx="341.25" cy="62.65" r="2.3" fill="#fff" stroke="#1f6fae" stroke-width="1.1"/><circle cx="342.12" cy="64.04" r="2.3" fill="#fff" stroke="#1f6fae" stroke-width="1.1"/><circle cx="342.98" cy="67.57" r="2.3" fill="#fff" stroke="#1f6fae" stroke-width="1.1"/><circle cx="343.85" cy="69.49" r="2.3" fill="#fff" stroke="#1f6fae" stroke-width="1.1"/><circle cx="344.71" cy="72.69" r="2.3" fill="#fff" stroke="#1f6fae" stroke-width="1.1"/><circle cx="345.58" cy="75.32" r="2.3" fill="#fff" stroke="#1f6fae" stroke-width="1.1"/><circle cx="346.44" cy="76.43" r="2.3" fill="#fff" stroke="#1f6fae" stroke-width="1.1"/><circle cx="347.31" cy="79.74" r="2.3" fill="#fff" stroke="#1f6fae" stroke-width="1.1"/><circle cx="348.17" cy="78.48" r="2.3" fill="#fff" stroke="#1f6fae" stroke-width="1.1"/><circle cx="349.04" cy="78.66" r="2.3" fill="#fff" stroke="#1f6fae" stroke-width="1.1"/><circle cx="349.9" cy="76.14" r="2.3" fill="#fff" stroke="#1f6fae" stroke-width="1.1"/><circle cx="350.77" cy="74.81" r="2.3" fill="#fff" stroke="#1f6fae" stroke-width="1.1"/><circle cx="351.63" cy="72.84" r="2.3" fill="#fff" stroke="#1f6fae" stroke-width="1.1"/><circle cx="352.5" cy="69.53" r="2.3" fill="#fff" stroke="#1f6fae" stroke-width="1.1"/><circle cx="353.36" cy="66.86" r="2.3" fill="#fff" stroke="#1f6fae" stroke-width="1.1"/><circle cx="354.23" cy="65.62" r="2.3" fill="#fff" stroke="#1f6fae" stroke-width="1.1"/><circle cx="355.09" cy="64.38" r="2.3" fill="#fff" stroke="#1f6fae" stroke-width="1.1"/><circle cx="355.96" cy="65.13" r="2.3" fill="#fff" stroke="#1f6fae" stroke-width="1.1"/><circle cx="356.82" cy="67.25" r="2.3" fill="#fff" stroke="#1f6fae" stroke-width="1.1"/><circle cx="357.69" cy="66.79" r="2.3" fill="#fff" stroke="#1f6fae" stroke-width="1.1"/><circle cx="358.55" cy="69.24" r="2.3" fill="#fff" stroke="#1f6fae" stroke-width="1.1"/><circle cx="359.42" cy="72.2" r="2.3" fill="#fff" stroke="#1f6fae" stroke-width="1.1"/><circle cx="360.28" cy="74.72" r="2.3" fill="#fff" stroke="#1f6fae" stroke-width="1.1"/><circle cx="361.15" cy="76.06" r="2.3" fill="#fff" stroke="#1f6fae" stroke-width="1.1"/><circle cx="362.01" cy="78.53" r="2.3" fill="#fff" stroke="#1f6fae" stroke-width="1.1"/><circle cx="362.88" cy="79.23" r="2.3" fill="#fff" stroke="#1f6fae" stroke-width="1.1"/><circle cx="363.74" cy="78.44" r="2.3" fill="#fff" stroke="#1f6fae" stroke-width="1.1"/><circle cx="364.61" cy="76.14" r="2.3" fill="#fff" stroke="#1f6fae" stroke-width="1.1"/><circle cx="365.47" cy="76.13" r="2.3" fill="#fff" stroke="#1f6fae" stroke-width="1.1"/><circle cx="366.34" cy="71.8" r="2.3" fill="#fff" stroke="#1f6fae" stroke-width="1.1"/><circle cx="367.2" cy="70.7" r="2.3" fill="#fff" stroke="#1f6fae" stroke-width="1.1"/><circle cx="368.07" cy="68.79" r="2.3" fill="#fff" stroke="#1f6fae" stroke-width="1.1"/><circle cx="368.93" cy="65.24" r="2.3" fill="#fff" stroke="#1f6fae" stroke-width="1.1"/><circle cx="369.8" cy="65.28" r="2.3" fill="#fff" stroke="#1f6fae" stroke-width="1.1"/><circle cx="370.66" cy="66.08" r="2.3" fill="#fff" stroke="#1f6fae" stroke-width="1.1"/><circle cx="371.53" cy="66.11" r="2.3" fill="#fff" stroke="#1f6fae" stroke-width="1.1"/><circle cx="372.4" cy="66.66" r="2.3" fill="#fff" stroke="#1f6fae" stroke-width="1.1"/><circle cx="373.26" cy="68.57" r="2.3" fill="#fff" stroke="#1f6fae" stroke-width="1.1"/><circle cx="374.13" cy="72.24" r="2.3" fill="#fff" stroke="#1f6fae" stroke-width="1.1"/><circle cx="374.99" cy="73.97" r="2.3" fill="#fff" stroke="#1f6fae" stroke-width="1.1"/><circle cx="375.86" cy="75.76" r="2.3" fill="#fff" stroke="#1f6fae" stroke-width="1.1"/><circle cx="376.72" cy="78.26" r="2.3" fill="#fff" stroke="#1f6fae" stroke-width="1.1"/><circle cx="377.59" cy="78.1" r="2.3" fill="#fff" stroke="#1f6fae" stroke-width="1.1"/><circle cx="378.45" cy="78.16" r="2.3" fill="#fff" stroke="#1f6fae" stroke-width="1.1"/><circle cx="379.32" cy="77.48" r="2.3" fill="#fff" stroke="#1f6fae" stroke-width="1.1"/><circle cx="380.18" cy="75.66" r="2.3" fill="#fff" stroke="#1f6fae" stroke-width="1.1"/><circle cx="381.05" cy="72.98" r="2.3" fill="#fff" stroke="#1f6fae" stroke-width="1.1"/><circle cx="381.91" cy="70.61" r="2.3" fill="#fff" stroke="#1f6fae" stroke-width="1.1"/><circle cx="382.78" cy="68.86" r="2.3" fill="#fff" stroke="#1f6fae" stroke-width="1.1"/><circle cx="383.64" cy="66.97" r="2.3" fill="#fff" stroke="#1f6fae" stroke-width="1.1"/><circle cx="384.51" cy="64.62" r="2.3" fill="#fff" stroke="#1f6fae" stroke-width="1.1"/><circle cx="385.37" cy="65.09" r="2.3" fill="#fff" stroke="#1f6fae" stroke-width="1.1"/><circle cx="386.24" cy="65.14" r="2.3" fill="#fff" stroke="#1f6fae" stroke-width="1.1"/><circle cx="387.1" cy="66.26" r="2.3" fill="#fff" stroke="#1f6fae" stroke-width="1.1"/><circle cx="387.97" cy="68.74" r="2.3" fill="#fff" stroke="#1f6fae" stroke-width="1.1"/><circle cx="388.83" cy="69.65" r="2.3" fill="#fff" stroke="#1f6fae" stroke-width="1.1"/><circle cx="389.7" cy="74.56" r="2.3" fill="#fff" stroke="#1f6fae" stroke-width="1.1"/><circle cx="390.56" cy="75.25" r="2.3" fill="#fff" stroke="#1f6fae" stroke-width="1.1"/><circle cx="391.43" cy="77.69" r="2.3" fill="#fff" stroke="#1f6fae" stroke-width="1.1"/><circle cx="392.29" cy="76.6" r="2.3" fill="#fff" stroke="#1f6fae" stroke-width="1.1"/><circle cx="393.16" cy="76.62" r="2.3" fill="#fff" stroke="#1f6fae" stroke-width="1.1"/><circle cx="394.02" cy="78.79" r="2.3" fill="#fff" stroke="#1f6fae" stroke-width="1.1"/><circle cx="394.89" cy="76.31" r="2.3" fill="#fff" stroke="#1f6fae" stroke-width="1.1"/><circle cx="395.75" cy="72.78" r="2.3" fill="#fff" stroke="#1f6fae" stroke-width="1.1"/><circle cx="396.62" cy="70.34" r="2.3" fill="#fff" stroke="#1f6fae" stroke-width="1.1"/><circle cx="397.48" cy="68.15" r="2.3" fill="#fff" stroke="#1f6fae" stroke-width="1.1"/><circle cx="398.35" cy="67.02" r="2.3" fill="#fff" stroke="#1f6fae" stroke-width="1.1"/><circle cx="399.21" cy="65.38" r="2.3" fill="#fff" stroke="#1f6fae" stroke-width="1.1"/><circle cx="400.08" cy="64.82" r="2.3" fill="#fff" stroke="#1f6fae" stroke-width="1.1"/><circle cx="400.94" cy="65.91" r="2.3" fill="#fff" stroke="#1f6fae" stroke-width="1.1"/><circle cx="401.81" cy="66.19" r="2.3" fill="#fff" stroke="#1f6fae" stroke-width="1.1"/><circle cx="402.67" cy="70.94" r="2.3" fill="#fff" stroke="#1f6fae" stroke-width="1.1"/><circle cx="403.54" cy="70.63" r="2.3" fill="#fff" stroke="#1f6fae" stroke-width="1.1"/><circle cx="404.4" cy="74.41" r="2.3" fill="#fff" stroke="#1f6fae" stroke-width="1.1"/><circle cx="405.27" cy="74.72" r="2.3" fill="#fff" stroke="#1f6fae" stroke-width="1.1"/><circle cx="406.13" cy="77.35" r="2.3" fill="#fff" stroke="#1f6fae" stroke-width="1.1"/><circle cx="407" cy="78.8" r="2.3" fill="#fff" stroke="#1f6fae" stroke-width="1.1"/><circle cx="407.86" cy="77.69" r="2.3" fill="#fff" stroke="#1f6fae" stroke-width="1.1"/><circle cx="408.73" cy="78.05" r="2.3" fill="#fff" stroke="#1f6fae" stroke-width="1.1"/><circle cx="409.59" cy="76.54" r="2.3" fill="#fff" stroke="#1f6fae" stroke-width="1.1"/><circle cx="410.46" cy="75.09" r="2.3" fill="#fff" stroke="#1f6fae" stroke-width="1.1"/><circle cx="411.32" cy="71.41" r="2.3" fill="#fff" stroke="#1f6fae" stroke-width="1.1"/><circle cx="412.19" cy="68.69" r="2.3" fill="#fff" stroke="#1f6fae" stroke-width="1.1"/><circle cx="413.05" cy="66.33" r="2.3" fill="#fff" stroke="#1f6fae" stroke-width="1.1"/><circle cx="413.92" cy="66.12" r="2.3" fill="#fff" stroke="#1f6fae" stroke-width="1.1"/><circle cx="414.78" cy="64.51" r="2.3" fill="#fff" stroke="#1f6fae" stroke-width="1.1"/><circle cx="415.65" cy="65.78" r="2.3" fill="#fff" stroke="#1f6fae" stroke-width="1.1"/><circle cx="416.51" cy="67" r="2.3" fill="#fff" stroke="#1f6fae" stroke-width="1.1"/><circle cx="417.38" cy="68.14" r="2.3" fill="#fff" stroke="#1f6fae" stroke-width="1.1"/><circle cx="418.24" cy="69.86" r="2.3" fill="#fff" stroke="#1f6fae" stroke-width="1.1"/><circle cx="419.11" cy="73.46" r="2.3" fill="#fff" stroke="#1f6fae" stroke-width="1.1"/><circle cx="419.97" cy="75.47" r="2.3" fill="#fff" stroke="#1f6fae" stroke-width="1.1"/><circle cx="420.84" cy="77.04" r="2.3" fill="#fff" stroke="#1f6fae" stroke-width="1.1"/><circle cx="421.7" cy="77.78" r="2.3" fill="#fff" stroke="#1f6fae" stroke-width="1.1"/><circle cx="422.57" cy="78.87" r="2.3" fill="#fff" stroke="#1f6fae" stroke-width="1.1"/><circle cx="423.43" cy="76.37" r="2.3" fill="#fff" stroke="#1f6fae" stroke-width="1.1"/><circle cx="424.3" cy="76.33" r="2.3" fill="#fff" stroke="#1f6fae" stroke-width="1.1"/><circle cx="425.16" cy="73.54" r="2.3" fill="#fff" stroke="#1f6fae" stroke-width="1.1"/><circle cx="426.03" cy="72.53" r="2.3" fill="#fff" stroke="#1f6fae" stroke-width="1.1"/><circle cx="426.89" cy="69.15" r="2.3" fill="#fff" stroke="#1f6fae" stroke-width="1.1"/><circle cx="427.76" cy="67.18" r="2.3" fill="#fff" stroke="#1f6fae" stroke-width="1.1"/><circle cx="428.62" cy="66.59" r="2.3" fill="#fff" stroke="#1f6fae" stroke-width="1.1"/><circle cx="429.49" cy="63.58" r="2.3" fill="#fff" stroke="#1f6fae" stroke-width="1.1"/><circle cx="430.35" cy="65.38" r="2.3" fill="#fff" stroke="#1f6fae" stroke-width="1.1"/><circle cx="431.22" cy="65" r="2.3" fill="#fff" stroke="#1f6fae" stroke-width="1.1"/><circle cx="432.08" cy="67.46" r="2.3" fill="#fff" stroke="#1f6fae" stroke-width="1.1"/><circle cx="432.95" cy="71.16" r="2.3" fill="#fff" stroke="#1f6fae" stroke-width="1.1"/><circle cx="433.81" cy="73.16" r="2.3" fill="#fff" stroke="#1f6fae" stroke-width="1.1"/><circle cx="434.68" cy="74.49" r="2.3" fill="#fff" stroke="#1f6fae" stroke-width="1.1"/><circle cx="435.54" cy="76.59" r="2.3" fill="#fff" stroke="#1f6fae" stroke-width="1.1"/><circle cx="436.41" cy="77.68" r="2.3" fill="#fff" stroke="#1f6fae" stroke-width="1.1"/><circle cx="437.27" cy="78.3" r="2.3" fill="#fff" stroke="#1f6fae" stroke-width="1.1"/><circle cx="438.14" cy="79.28" r="2.3" fill="#fff" stroke="#1f6fae" stroke-width="1.1"/><circle cx="439" cy="76.4" r="2.3" fill="#fff" stroke="#1f6fae" stroke-width="1.1"/><circle cx="439.87" cy="76.53" r="2.3" fill="#fff" stroke="#1f6fae" stroke-width="1.1"/><circle cx="440.73" cy="71.71" r="2.3" fill="#fff" stroke="#1f6fae" stroke-width="1.1"/><circle cx="441.6" cy="70.57" r="2.3" fill="#fff" stroke="#1f6fae" stroke-width="1.1"/><circle cx="442.46" cy="68.57" r="2.3" fill="#fff" stroke="#1f6fae" stroke-width="1.1"/><circle cx="443.33" cy="66.59" r="2.3" fill="#fff" stroke="#1f6fae" stroke-width="1.1"/><circle cx="444.19" cy="65.34" r="2.3" fill="#fff" stroke="#1f6fae" stroke-width="1.1"/><circle cx="445.06" cy="67.15" r="2.3" fill="#fff" stroke="#1f6fae" stroke-width="1.1"/><circle cx="445.92" cy="68.36" r="2.3" fill="#fff" stroke="#1f6fae" stroke-width="1.1"/><circle cx="446.79" cy="69.22" r="2.3" fill="#fff" stroke="#1f6fae" stroke-width="1.1"/><circle cx="447.65" cy="72.29" r="2.3" fill="#fff" stroke="#1f6fae" stroke-width="1.1"/><circle cx="448.52" cy="73.44" r="2.3" fill="#fff" stroke="#1f6fae" stroke-width="1.1"/><circle cx="449.38" cy="72.95" r="2.3" fill="#fff" stroke="#1f6fae" stroke-width="1.1"/><circle cx="450.25" cy="77.51" r="2.3" fill="#fff" stroke="#1f6fae" stroke-width="1.1"/><circle cx="451.11" cy="76.91" r="2.3" fill="#fff" stroke="#1f6fae" stroke-width="1.1"/><circle cx="451.98" cy="79.44" r="2.3" fill="#fff" stroke="#1f6fae" stroke-width="1.1"/><circle cx="452.84" cy="77.27" r="2.3" fill="#fff" stroke="#1f6fae" stroke-width="1.1"/><circle cx="453.71" cy="76.74" r="2.3" fill="#fff" stroke="#1f6fae" stroke-width="1.1"/><circle cx="454.57" cy="74.67" r="2.3" fill="#fff" stroke="#1f6fae" stroke-width="1.1"/><circle cx="455.44" cy="71.83" r="2.3" fill="#fff" stroke="#1f6fae" stroke-width="1.1"/><circle cx="456.3" cy="68.3" r="2.3" fill="#fff" stroke="#1f6fae" stroke-width="1.1"/><circle cx="457.17" cy="67.92" r="2.3" fill="#fff" stroke="#1f6fae" stroke-width="1.1"/><circle cx="458.03" cy="66.43" r="2.3" fill="#fff" stroke="#1f6fae" stroke-width="1.1"/><circle cx="458.9" cy="66.74" r="2.3" fill="#fff" stroke="#1f6fae" stroke-width="1.1"/><circle cx="459.76" cy="65.01" r="2.3" fill="#fff" stroke="#1f6fae" stroke-width="1.1"/></g><g clip-path="url(#c21)"><path d="M479.93 47.27L480.8 42.46L481.66 49.42L482.53 60L483.39 81.41L484.26 93.33L485.12 99.46L485.99 100.11L486.85 91.07L487.72 75.11L488.58 60.84L489.45 47.02L490.31 39.91L491.18 47.31L492.04 63.59L492.91 79.45L493.77 93.15L494.64 99.04L495.5 101.08L496.37 91.44L497.23 73.85L498.1 57.9L498.96 48.07L499.83 45.35L500.69 51.26L501.56 62.56L502.42 81.28L503.29 90.88L504.15 101.53L505.02 99.15L505.88 87.58L506.75 73.78L507.61 61.76L508.48 46.22L509.34 41.48L510.21 49.74L511.07 62.61L511.94 77.25L512.8 94.62L513.67 97.66L514.53 104.52L515.4 93.22L516.26 76.83L517.13 60.67L517.99 47.71L518.86 42.99L519.72 48.53L520.59 58.25L521.45 80.63L522.32 91.33L523.18 101.57L524.05 100.02L524.91 91.16L525.78 78.67L526.64 62.02L527.51 46.73L528.37 42.81L529.24 49.22L530.1 55.78L530.97 71.25L531.83 93.93L532.7 99.39L533.56 95.19L534.43 90.35L535.3 76.93L536.16 61.68L537.03 49.77L537.89 43.98L538.76 48.75L539.62 57.84L540.49 76.32L541.35 91.47L542.22 102.5L543.08 100.66L543.95 94.38L544.81 78.33L545.68 59.39L546.54 48.1L547.41 42.4L548.27 46.47L549.14 58.84L550 75.21L550.87 90.79L551.73 97.9L552.6 103.22L553.46 89.61L554.33 78.37L555.19 64.02L556.06 50.42L556.92 45.21L557.79 46.64L558.65 60.24L559.52 71.59L560.38 91.56L561.25 105.09L562.11 102.6L562.98 98.15L563.84 79.08L564.71 60.08L565.57 47.93L566.44 47.02L567.3 48.72L568.17 53.48L569.03 73.02L569.9 89.2L570.76 96.55L571.63 94.5L572.49 90.13L573.36 79.13L574.22 62.31L575.09 48.27L575.95 45.31L576.82 49.37L577.68 57.42L578.55 75.86L579.41 88.93L580.28 98.82L581.14 94.58L582.01 96.23L582.87 80.36L583.74 64.22L584.6 49.03L585.47 40.81L586.33 47.67L587.2 59.42L588.06 77.41L588.93 90.95L589.79 97.33L590.66 100.94L591.52 97.17L592.39 81.62L593.25 64.19L594.12 49.13L594.98 45.55L595.85 46.8L596.71 62.02L597.58 75.64L598.44 83.05L599.31 105.18L600.17 102.16L601.04 93.94L601.9 82.19L602.77 67.25L603.63 51.14L604.5 43.91L605.36 46.1L606.23 61.99L607.09 72.14L607.96 90.06L608.82 100.12L609.69 100.5L610.55 92.93L611.42 78.74L612.28 66.89L613.15 48.38L614.01 40.25L614.88 42.01L615.74 51.3L616.61 71.62L617.47 87.51L618.34 95.49L619.2 105.72L620.07 94.59L620.93 83.82L621.8 67.05L622.66 57.45L623.53 47.05L624.39 45.51L625.26 52.36L626.12 67.29L626.99 86.75L627.85 98.55L628.72 104.13L629.58 94.23L630.45 83.43L631.31 64.29L632.18 46.04L633.04 44.31L633.91 50.44L634.77 57.88L635.64 75.16L636.5 90.19L637.37 93.08L638.23 100.55L639.1 101.29L639.96 80.77L640.83 62.41L641.69 53.74L642.56 46.74L643.43 46.29L644.29 53.44L645.16 67.22L646.02 81.24L646.89 92.97L647.75 97.05L648.62 91.25L649.48 81.15L650.35 73.06L651.21 53.33L652.08 43.29L652.94 46.33L653.81 50.65L654.67 70.35L655.54 88.52L656.4 91.66L657.27 98.87L658.13 95.7L659 80.55L659.86 63.9L660.73 51.94L661.59 54.04L662.46 47.35L663.32 55.4L664.19 72.28L665.05 83.78L665.92 92.17L666.78 103.29L667.65 101.28L668.51 76.59L669.38 70.27L670.24 58.53L671.11 43.81L671.97 42.9L672.84 56.05L673.7 64.77L674.57 86.02L675.43 100.25L676.3 100.67" fill="none" stroke="#a5db7a" stroke-width="0.7"/><path d="M479.93 42.77V51.77" stroke="#a5db7a" stroke-width="0.8"/><path d="M479.93 44.27L482.93 47.27L479.93 50.27L476.93 47.27Z" fill="#fff" stroke="#a5db7a" stroke-width="1.0"/><path d="M480.8 37.96V46.96" stroke="#a5db7a" stroke-width="0.8"/><path d="M480.8 39.46L483.8 42.46L480.8 45.46L477.8 42.46Z" fill="#fff" stroke="#a5db7a" stroke-width="1.0"/><path d="M481.66 44.92V53.92" stroke="#a5db7a" stroke-width="0.8"/><path d="M481.66 46.42L484.66 49.42L481.66 52.42L478.66 49.42Z" fill="#fff" stroke="#a5db7a" stroke-width="1.0"/><path d="M482.53 55.5V64.5" stroke="#a5db7a" stroke-width="0.8"/><path d="M482.53 57L485.53 60L482.53 63L479.53 60Z" fill="#fff" stroke="#a5db7a" stroke-width="1.0"/><path d="M483.39 76.91V85.91" stroke="#a5db7a" stroke-width="0.8"/><path d="M483.39 78.41L486.39 81.41L483.39 84.41L480.39 81.41Z" fill="#fff" stroke="#a5db7a" stroke-width="1.0"/><path d="M484.26 88.83V97.83" stroke="#a5db7a" stroke-width="0.8"/><path d="M484.26 90.33L487.26 93.33L484.26 96.33L481.26 93.33Z" fill="#fff" stroke="#a5db7a" stroke-width="1.0"/><path d="M485.12 94.96V103.96" stroke="#a5db7a" stroke-width="0.8"/><path d="M485.12 96.46L488.12 99.46L485.12 102.46L482.12 99.46Z" fill="#fff" stroke="#a5db7a" stroke-width="1.0"/><path d="M485.99 95.61V104.61" stroke="#a5db7a" stroke-width="0.8"/><path d="M485.99 97.11L488.99 100.11L485.99 103.11L482.99 100.11Z" fill="#fff" stroke="#a5db7a" stroke-width="1.0"/><path d="M486.85 86.57V95.57" stroke="#a5db7a" stroke-width="0.8"/><path d="M486.85 88.07L489.85 91.07L486.85 94.07L483.85 91.07Z" fill="#fff" stroke="#a5db7a" stroke-width="1.0"/><path d="M487.72 70.61V79.61" stroke="#a5db7a" stroke-width="0.8"/><path d="M487.72 72.11L490.72 75.11L487.72 78.11L484.72 75.11Z" fill="#fff" stroke="#a5db7a" stroke-width="1.0"/><path d="M488.58 56.34V65.34" stroke="#a5db7a" stroke-width="0.8"/><path d="M488.58 57.84L491.58 60.84L488.58 63.84L485.58 60.84Z" fill="#fff" stroke="#a5db7a" stroke-width="1.0"/><path d="M489.45 42.52V51.52" stroke="#a5db7a" stroke-width="0.8"/><path d="M489.45 44.02L492.45 47.02L489.45 50.02L486.45 47.02Z" fill="#fff" stroke="#a5db7a" stroke-width="1.0"/><path d="M490.31 35.41V44.41" stroke="#a5db7a" stroke-width="0.8"/><path d="M490.31 36.91L493.31 39.91L490.31 42.91L487.31 39.91Z" fill="#fff" stroke="#a5db7a" stroke-width="1.0"/><path d="M491.18 42.81V51.81" stroke="#a5db7a" stroke-width="0.8"/><path d="M491.18 44.31L494.18 47.31L491.18 50.31L488.18 47.31Z" fill="#fff" stroke="#a5db7a" stroke-width="1.0"/><path d="M492.04 59.09V68.09" stroke="#a5db7a" stroke-width="0.8"/><path d="M492.04 60.59L495.04 63.59L492.04 66.59L489.04 63.59Z" fill="#fff" stroke="#a5db7a" stroke-width="1.0"/><path d="M492.91 74.95V83.95" stroke="#a5db7a" stroke-width="0.8"/><path d="M492.91 76.45L495.91 79.45L492.91 82.45L489.91 79.45Z" fill="#fff" stroke="#a5db7a" stroke-width="1.0"/><path d="M493.77 88.65V97.65" stroke="#a5db7a" stroke-width="0.8"/><path d="M493.77 90.15L496.77 93.15L493.77 96.15L490.77 93.15Z" fill="#fff" stroke="#a5db7a" stroke-width="1.0"/><path d="M494.64 94.54V103.54" stroke="#a5db7a" stroke-width="0.8"/><path d="M494.64 96.04L497.64 99.04L494.64 102.04L491.64 99.04Z" fill="#fff" stroke="#a5db7a" stroke-width="1.0"/><path d="M495.5 96.58V105.58" stroke="#a5db7a" stroke-width="0.8"/><path d="M495.5 98.08L498.5 101.08L495.5 104.08L492.5 101.08Z" fill="#fff" stroke="#a5db7a" stroke-width="1.0"/><path d="M496.37 86.94V95.94" stroke="#a5db7a" stroke-width="0.8"/><path d="M496.37 88.44L499.37 91.44L496.37 94.44L493.37 91.44Z" fill="#fff" stroke="#a5db7a" stroke-width="1.0"/><path d="M497.23 69.35V78.35" stroke="#a5db7a" stroke-width="0.8"/><path d="M497.23 70.85L500.23 73.85L497.23 76.85L494.23 73.85Z" fill="#fff" stroke="#a5db7a" stroke-width="1.0"/><path d="M498.1 53.4V62.4" stroke="#a5db7a" stroke-width="0.8"/><path d="M498.1 54.9L501.1 57.9L498.1 60.9L495.1 57.9Z" fill="#fff" stroke="#a5db7a" stroke-width="1.0"/><path d="M498.96 43.57V52.57" stroke="#a5db7a" stroke-width="0.8"/><path d="M498.96 45.07L501.96 48.07L498.96 51.07L495.96 48.07Z" fill="#fff" stroke="#a5db7a" stroke-width="1.0"/><path d="M499.83 40.85V49.85" stroke="#a5db7a" stroke-width="0.8"/><path d="M499.83 42.35L502.83 45.35L499.83 48.35L496.83 45.35Z" fill="#fff" stroke="#a5db7a" stroke-width="1.0"/><path d="M500.69 46.76V55.76" stroke="#a5db7a" stroke-width="0.8"/><path d="M500.69 48.26L503.69 51.26L500.69 54.26L497.69 51.26Z" fill="#fff" stroke="#a5db7a" stroke-width="1.0"/><path d="M501.56 58.06V67.06" stroke="#a5db7a" stroke-width="0.8"/><path d="M501.56 59.56L504.56 62.56L501.56 65.56L498.56 62.56Z" fill="#fff" stroke="#a5db7a" stroke-width="1.0"/><path d="M502.42 76.78V85.78" stroke="#a5db7a" stroke-width="0.8"/><path d="M502.42 78.28L505.42 81.28L502.42 84.28L499.42 81.28Z" fill="#fff" stroke="#a5db7a" stroke-width="1.0"/><path d="M503.29 86.38V95.38" stroke="#a5db7a" stroke-width="0.8"/><path d="M503.29 87.88L506.29 90.88L503.29 93.88L500.29 90.88Z" fill="#fff" stroke="#a5db7a" stroke-width="1.0"/><path d="M504.15 97.03V106.03" stroke="#a5db7a" stroke-width="0.8"/><path d="M504.15 98.53L507.15 101.53L504.15 104.53L501.15 101.53Z" fill="#fff" stroke="#a5db7a" stroke-width="1.0"/><path d="M505.02 94.65V103.65" stroke="#a5db7a" stroke-width="0.8"/><path d="M505.02 96.15L508.02 99.15L505.02 102.15L502.02 99.15Z" fill="#fff" stroke="#a5db7a" stroke-width="1.0"/><path d="M505.88 83.08V92.08" stroke="#a5db7a" stroke-width="0.8"/><path d="M505.88 84.58L508.88 87.58L505.88 90.58L502.88 87.58Z" fill="#fff" stroke="#a5db7a" stroke-width="1.0"/><path d="M506.75 69.28V78.28" stroke="#a5db7a" stroke-width="0.8"/><path d="M506.75 70.78L509.75 73.78L506.75 76.78L503.75 73.78Z" fill="#fff" stroke="#a5db7a" stroke-width="1.0"/><path d="M507.61 57.26V66.26" stroke="#a5db7a" stroke-width="0.8"/><path d="M507.61 58.76L510.61 61.76L507.61 64.76L504.61 61.76Z" fill="#fff" stroke="#a5db7a" stroke-width="1.0"/><path d="M508.48 41.72V50.72" stroke="#a5db7a" stroke-width="0.8"/><path d="M508.48 43.22L511.48 46.22L508.48 49.22L505.48 46.22Z" fill="#fff" stroke="#a5db7a" stroke-width="1.0"/><path d="M509.34 36.98V45.98" stroke="#a5db7a" stroke-width="0.8"/><path d="M509.34 38.48L512.34 41.48L509.34 44.48L506.34 41.48Z" fill="#fff" stroke="#a5db7a" stroke-width="1.0"/><path d="M510.21 45.24V54.24" stroke="#a5db7a" stroke-width="0.8"/><path d="M510.21 46.74L513.21 49.74L510.21 52.74L507.21 49.74Z" fill="#fff" stroke="#a5db7a" stroke-width="1.0"/><path d="M511.07 58.11V67.11" stroke="#a5db7a" stroke-width="0.8"/><path d="M511.07 59.61L514.07 62.61L511.07 65.61L508.07 62.61Z" fill="#fff" stroke="#a5db7a" stroke-width="1.0"/><path d="M511.94 72.75V81.75" stroke="#a5db7a" stroke-width="0.8"/><path d="M511.94 74.25L514.94 77.25L511.94 80.25L508.94 77.25Z" fill="#fff" stroke="#a5db7a" stroke-width="1.0"/><path d="M512.8 90.12V99.12" stroke="#a5db7a" stroke-width="0.8"/><path d="M512.8 91.62L515.8 94.62L512.8 97.62L509.8 94.62Z" fill="#fff" stroke="#a5db7a" stroke-width="1.0"/><path d="M513.67 93.16V102.16" stroke="#a5db7a" stroke-width="0.8"/><path d="M513.67 94.66L516.67 97.66L513.67 100.66L510.67 97.66Z" fill="#fff" stroke="#a5db7a" stroke-width="1.0"/><path d="M514.53 100.02V109.02" stroke="#a5db7a" stroke-width="0.8"/><path d="M514.53 101.52L517.53 104.52L514.53 107.52L511.53 104.52Z" fill="#fff" stroke="#a5db7a" stroke-width="1.0"/><path d="M515.4 88.72V97.72" stroke="#a5db7a" stroke-width="0.8"/><path d="M515.4 90.22L518.4 93.22L515.4 96.22L512.4 93.22Z" fill="#fff" stroke="#a5db7a" stroke-width="1.0"/><path d="M516.26 72.33V81.33" stroke="#a5db7a" stroke-width="0.8"/><path d="M516.26 73.83L519.26 76.83L516.26 79.83L513.26 76.83Z" fill="#fff" stroke="#a5db7a" stroke-width="1.0"/><path d="M517.13 56.17V65.17" stroke="#a5db7a" stroke-width="0.8"/><path d="M517.13 57.67L520.13 60.67L517.13 63.67L514.13 60.67Z" fill="#fff" stroke="#a5db7a" stroke-width="1.0"/><path d="M517.99 43.21V52.21" stroke="#a5db7a" stroke-width="0.8"/><path d="M517.99 44.71L520.99 47.71L517.99 50.71L514.99 47.71Z" fill="#fff" stroke="#a5db7a" stroke-width="1.0"/><path d="M518.86 38.49V47.49" stroke="#a5db7a" stroke-width="0.8"/><path d="M518.86 39.99L521.86 42.99L518.86 45.99L515.86 42.99Z" fill="#fff" stroke="#a5db7a" stroke-width="1.0"/><path d="M519.72 44.03V53.03" stroke="#a5db7a" stroke-width="0.8"/><path d="M519.72 45.53L522.72 48.53L519.72 51.53L516.72 48.53Z" fill="#fff" stroke="#a5db7a" stroke-width="1.0"/><path d="M520.59 53.75V62.75" stroke="#a5db7a" stroke-width="0.8"/><path d="M520.59 55.25L523.59 58.25L520.59 61.25L517.59 58.25Z" fill="#fff" stroke="#a5db7a" stroke-width="1.0"/><path d="M521.45 76.13V85.13" stroke="#a5db7a" stroke-width="0.8"/><path d="M521.45 77.63L524.45 80.63L521.45 83.63L518.45 80.63Z" fill="#fff" stroke="#a5db7a" stroke-width="1.0"/><path d="M522.32 86.83V95.83" stroke="#a5db7a" stroke-width="0.8"/><path d="M522.32 88.33L525.32 91.33L522.32 94.33L519.32 91.33Z" fill="#fff" stroke="#a5db7a" stroke-width="1.0"/><path d="M523.18 97.07V106.07" stroke="#a5db7a" stroke-width="0.8"/><path d="M523.18 98.57L526.18 101.57L523.18 104.57L520.18 101.57Z" fill="#fff" stroke="#a5db7a" stroke-width="1.0"/><path d="M524.05 95.52V104.52" stroke="#a5db7a" stroke-width="0.8"/><path d="M524.05 97.02L527.05 100.02L524.05 103.02L521.05 100.02Z" fill="#fff" stroke="#a5db7a" stroke-width="1.0"/><path d="M524.91 86.66V95.66" stroke="#a5db7a" stroke-width="0.8"/><path d="M524.91 88.16L527.91 91.16L524.91 94.16L521.91 91.16Z" fill="#fff" stroke="#a5db7a" stroke-width="1.0"/><path d="M525.78 74.17V83.17" stroke="#a5db7a" stroke-width="0.8"/><path d="M525.78 75.67L528.78 78.67L525.78 81.67L522.78 78.67Z" fill="#fff" stroke="#a5db7a" stroke-width="1.0"/><path d="M526.64 57.52V66.52" stroke="#a5db7a" stroke-width="0.8"/><path d="M526.64 59.02L529.64 62.02L526.64 65.02L523.64 62.02Z" fill="#fff" stroke="#a5db7a" stroke-width="1.0"/><path d="M527.51 42.23V51.23" stroke="#a5db7a" stroke-width="0.8"/><path d="M527.51 43.73L530.51 46.73L527.51 49.73L524.51 46.73Z" fill="#fff" stroke="#a5db7a" stroke-width="1.0"/><path d="M528.37 38.31V47.31" stroke="#a5db7a" stroke-width="0.8"/><path d="M528.37 39.81L531.37 42.81L528.37 45.81L525.37 42.81Z" fill="#fff" stroke="#a5db7a" stroke-width="1.0"/><path d="M529.24 44.72V53.72" stroke="#a5db7a" stroke-width="0.8"/><path d="M529.24 46.22L532.24 49.22L529.24 52.22L526.24 49.22Z" fill="#fff" stroke="#a5db7a" stroke-width="1.0"/><path d="M530.1 51.28V60.28" stroke="#a5db7a" stroke-width="0.8"/><path d="M530.1 52.78L533.1 55.78L530.1 58.78L527.1 55.78Z" fill="#fff" stroke="#a5db7a" stroke-width="1.0"/><path d="M530.97 66.75V75.75" stroke="#a5db7a" stroke-width="0.8"/><path d="M530.97 68.25L533.97 71.25L530.97 74.25L527.97 71.25Z" fill="#fff" stroke="#a5db7a" stroke-width="1.0"/><path d="M531.83 89.43V98.43" stroke="#a5db7a" stroke-width="0.8"/><path d="M531.83 90.93L534.83 93.93L531.83 96.93L528.83 93.93Z" fill="#fff" stroke="#a5db7a" stroke-width="1.0"/><path d="M532.7 94.89V103.89" stroke="#a5db7a" stroke-width="0.8"/><path d="M532.7 96.39L535.7 99.39L532.7 102.39L529.7 99.39Z" fill="#fff" stroke="#a5db7a" stroke-width="1.0"/><path d="M533.56 90.69V99.69" stroke="#a5db7a" stroke-width="0.8"/><path d="M533.56 92.19L536.56 95.19L533.56 98.19L530.56 95.19Z" fill="#fff" stroke="#a5db7a" stroke-width="1.0"/><path d="M534.43 85.85V94.85" stroke="#a5db7a" stroke-width="0.8"/><path d="M534.43 87.35L537.43 90.35L534.43 93.35L531.43 90.35Z" fill="#fff" stroke="#a5db7a" stroke-width="1.0"/><path d="M535.3 72.43V81.43" stroke="#a5db7a" stroke-width="0.8"/><path d="M535.3 73.93L538.3 76.93L535.3 79.93L532.3 76.93Z" fill="#fff" stroke="#a5db7a" stroke-width="1.0"/><path d="M536.16 57.18V66.18" stroke="#a5db7a" stroke-width="0.8"/><path d="M536.16 58.68L539.16 61.68L536.16 64.68L533.16 61.68Z" fill="#fff" stroke="#a5db7a" stroke-width="1.0"/><path d="M537.03 45.27V54.27" stroke="#a5db7a" stroke-width="0.8"/><path d="M537.03 46.77L540.03 49.77L537.03 52.77L534.03 49.77Z" fill="#fff" stroke="#a5db7a" stroke-width="1.0"/><path d="M537.89 39.48V48.48" stroke="#a5db7a" stroke-width="0.8"/><path d="M537.89 40.98L540.89 43.98L537.89 46.98L534.89 43.98Z" fill="#fff" stroke="#a5db7a" stroke-width="1.0"/><path d="M538.76 44.25V53.25" stroke="#a5db7a" stroke-width="0.8"/><path d="M538.76 45.75L541.76 48.75L538.76 51.75L535.76 48.75Z" fill="#fff" stroke="#a5db7a" stroke-width="1.0"/><path d="M539.62 53.34V62.34" stroke="#a5db7a" stroke-width="0.8"/><path d="M539.62 54.84L542.62 57.84L539.62 60.84L536.62 57.84Z" fill="#fff" stroke="#a5db7a" stroke-width="1.0"/><path d="M540.49 71.82V80.82" stroke="#a5db7a" stroke-width="0.8"/><path d="M540.49 73.32L543.49 76.32L540.49 79.32L537.49 76.32Z" fill="#fff" stroke="#a5db7a" stroke-width="1.0"/><path d="M541.35 86.97V95.97" stroke="#a5db7a" stroke-width="0.8"/><path d="M541.35 88.47L544.35 91.47L541.35 94.47L538.35 91.47Z" fill="#fff" stroke="#a5db7a" stroke-width="1.0"/><path d="M542.22 98V107" stroke="#a5db7a" stroke-width="0.8"/><path d="M542.22 99.5L545.22 102.5L542.22 105.5L539.22 102.5Z" fill="#fff" stroke="#a5db7a" stroke-width="1.0"/><path d="M543.08 96.16V105.16" stroke="#a5db7a" stroke-width="0.8"/><path d="M543.08 97.66L546.08 100.66L543.08 103.66L540.08 100.66Z" fill="#fff" stroke="#a5db7a" stroke-width="1.0"/><path d="M543.95 89.88V98.88" stroke="#a5db7a" stroke-width="0.8"/><path d="M543.95 91.38L546.95 94.38L543.95 97.38L540.95 94.38Z" fill="#fff" stroke="#a5db7a" stroke-width="1.0"/><path d="M544.81 73.83V82.83" stroke="#a5db7a" stroke-width="0.8"/><path d="M544.81 75.33L547.81 78.33L544.81 81.33L541.81 78.33Z" fill="#fff" stroke="#a5db7a" stroke-width="1.0"/><path d="M545.68 54.89V63.89" stroke="#a5db7a" stroke-width="0.8"/><path d="M545.68 56.39L548.68 59.39L545.68 62.39L542.68 59.39Z" fill="#fff" stroke="#a5db7a" stroke-width="1.0"/><path d="M546.54 43.6V52.6" stroke="#a5db7a" stroke-width="0.8"/><path d="M546.54 45.1L549.54 48.1L546.54 51.1L543.54 48.1Z" fill="#fff" stroke="#a5db7a" stroke-width="1.0"/><path d="M547.41 37.9V46.9" stroke="#a5db7a" stroke-width="0.8"/><path d="M547.41 39.4L550.41 42.4L547.41 45.4L544.41 42.4Z" fill="#fff" stroke="#a5db7a" stroke-width="1.0"/><path d="M548.27 41.97V50.97" stroke="#a5db7a" stroke-width="0.8"/><path d="M548.27 43.47L551.27 46.47L548.27 49.47L545.27 46.47Z" fill="#fff" stroke="#a5db7a" stroke-width="1.0"/><path d="M549.14 54.34V63.34" stroke="#a5db7a" stroke-width="0.8"/><path d="M549.14 55.84L552.14 58.84L549.14 61.84L546.14 58.84Z" fill="#fff" stroke="#a5db7a" stroke-width="1.0"/><path d="M550 70.71V79.71" stroke="#a5db7a" stroke-width="0.8"/><path d="M550 72.21L553 75.21L550 78.21L547 75.21Z" fill="#fff" stroke="#a5db7a" stroke-width="1.0"/><path d="M550.87 86.29V95.29" stroke="#a5db7a" stroke-width="0.8"/><path d="M550.87 87.79L553.87 90.79L550.87 93.79L547.87 90.79Z" fill="#fff" stroke="#a5db7a" stroke-width="1.0"/><path d="M551.73 93.4V102.4" stroke="#a5db7a" stroke-width="0.8"/><path d="M551.73 94.9L554.73 97.9L551.73 100.9L548.73 97.9Z" fill="#fff" stroke="#a5db7a" stroke-width="1.0"/><path d="M552.6 98.72V107.72" stroke="#a5db7a" stroke-width="0.8"/><path d="M552.6 100.22L555.6 103.22L552.6 106.22L549.6 103.22Z" fill="#fff" stroke="#a5db7a" stroke-width="1.0"/><path d="M553.46 85.11V94.11" stroke="#a5db7a" stroke-width="0.8"/><path d="M553.46 86.61L556.46 89.61L553.46 92.61L550.46 89.61Z" fill="#fff" stroke="#a5db7a" stroke-width="1.0"/><path d="M554.33 73.87V82.87" stroke="#a5db7a" stroke-width="0.8"/><path d="M554.33 75.37L557.33 78.37L554.33 81.37L551.33 78.37Z" fill="#fff" stroke="#a5db7a" stroke-width="1.0"/><path d="M555.19 59.52V68.52" stroke="#a5db7a" stroke-width="0.8"/><path d="M555.19 61.02L558.19 64.02L555.19 67.02L552.19 64.02Z" fill="#fff" stroke="#a5db7a" stroke-width="1.0"/><path d="M556.06 45.92V54.92" stroke="#a5db7a" stroke-width="0.8"/><path d="M556.06 47.42L559.06 50.42L556.06 53.42L553.06 50.42Z" fill="#fff" stroke="#a5db7a" stroke-width="1.0"/><path d="M556.92 40.71V49.71" stroke="#a5db7a" stroke-width="0.8"/><path d="M556.92 42.21L559.92 45.21L556.92 48.21L553.92 45.21Z" fill="#fff" stroke="#a5db7a" stroke-width="1.0"/><path d="M557.79 42.14V51.14" stroke="#a5db7a" stroke-width="0.8"/><path d="M557.79 43.64L560.79 46.64L557.79 49.64L554.79 46.64Z" fill="#fff" stroke="#a5db7a" stroke-width="1.0"/><path d="M558.65 55.74V64.74" stroke="#a5db7a" stroke-width="0.8"/><path d="M558.65 57.24L561.65 60.24L558.65 63.24L555.65 60.24Z" fill="#fff" stroke="#a5db7a" stroke-width="1.0"/><path d="M559.52 67.09V76.09" stroke="#a5db7a" stroke-width="0.8"/><path d="M559.52 68.59L562.52 71.59L559.52 74.59L556.52 71.59Z" fill="#fff" stroke="#a5db7a" stroke-width="1.0"/><path d="M560.38 87.06V96.06" stroke="#a5db7a" stroke-width="0.8"/><path d="M560.38 88.56L563.38 91.56L560.38 94.56L557.38 91.56Z" fill="#fff" stroke="#a5db7a" stroke-width="1.0"/><path d="M561.25 100.59V109.59" stroke="#a5db7a" stroke-width="0.8"/><path d="M561.25 102.09L564.25 105.09L561.25 108.09L558.25 105.09Z" fill="#fff" stroke="#a5db7a" stroke-width="1.0"/><path d="M562.11 98.1V107.1" stroke="#a5db7a" stroke-width="0.8"/><path d="M562.11 99.6L565.11 102.6L562.11 105.6L559.11 102.6Z" fill="#fff" stroke="#a5db7a" stroke-width="1.0"/><path d="M562.98 93.65V102.65" stroke="#a5db7a" stroke-width="0.8"/><path d="M562.98 95.15L565.98 98.15L562.98 101.15L559.98 98.15Z" fill="#fff" stroke="#a5db7a" stroke-width="1.0"/><path d="M563.84 74.58V83.58" stroke="#a5db7a" stroke-width="0.8"/><path d="M563.84 76.08L566.84 79.08L563.84 82.08L560.84 79.08Z" fill="#fff" stroke="#a5db7a" stroke-width="1.0"/><path d="M564.71 55.58V64.58" stroke="#a5db7a" stroke-width="0.8"/><path d="M564.71 57.08L567.71 60.08L564.71 63.08L561.71 60.08Z" fill="#fff" stroke="#a5db7a" stroke-width="1.0"/><path d="M565.57 43.43V52.43" stroke="#a5db7a" stroke-width="0.8"/><path d="M565.57 44.93L568.57 47.93L565.57 50.93L562.57 47.93Z" fill="#fff" stroke="#a5db7a" stroke-width="1.0"/><path d="M566.44 42.52V51.52" stroke="#a5db7a" stroke-width="0.8"/><path d="M566.44 44.02L569.44 47.02L566.44 50.02L563.44 47.02Z" fill="#fff" stroke="#a5db7a" stroke-width="1.0"/><path d="M567.3 44.22V53.22" stroke="#a5db7a" stroke-width="0.8"/><path d="M567.3 45.72L570.3 48.72L567.3 51.72L564.3 48.72Z" fill="#fff" stroke="#a5db7a" stroke-width="1.0"/><path d="M568.17 48.98V57.98" stroke="#a5db7a" stroke-width="0.8"/><path d="M568.17 50.48L571.17 53.48L568.17 56.48L565.17 53.48Z" fill="#fff" stroke="#a5db7a" stroke-width="1.0"/><path d="M569.03 68.52V77.52" stroke="#a5db7a" stroke-width="0.8"/><path d="M569.03 70.02L572.03 73.02L569.03 76.02L566.03 73.02Z" fill="#fff" stroke="#a5db7a" stroke-width="1.0"/><path d="M569.9 84.7V93.7" stroke="#a5db7a" stroke-width="0.8"/><path d="M569.9 86.2L572.9 89.2L569.9 92.2L566.9 89.2Z" fill="#fff" stroke="#a5db7a" stroke-width="1.0"/><path d="M570.76 92.05V101.05" stroke="#a5db7a" stroke-width="0.8"/><path d="M570.76 93.55L573.76 96.55L570.76 99.55L567.76 96.55Z" fill="#fff" stroke="#a5db7a" stroke-width="1.0"/><path d="M571.63 90V99" stroke="#a5db7a" stroke-width="0.8"/><path d="M571.63 91.5L574.63 94.5L571.63 97.5L568.63 94.5Z" fill="#fff" stroke="#a5db7a" stroke-width="1.0"/><path d="M572.49 85.63V94.63" stroke="#a5db7a" stroke-width="0.8"/><path d="M572.49 87.13L575.49 90.13L572.49 93.13L569.49 90.13Z" fill="#fff" stroke="#a5db7a" stroke-width="1.0"/><path d="M573.36 74.63V83.63" stroke="#a5db7a" stroke-width="0.8"/><path d="M573.36 76.13L576.36 79.13L573.36 82.13L570.36 79.13Z" fill="#fff" stroke="#a5db7a" stroke-width="1.0"/><path d="M574.22 57.81V66.81" stroke="#a5db7a" stroke-width="0.8"/><path d="M574.22 59.31L577.22 62.31L574.22 65.31L571.22 62.31Z" fill="#fff" stroke="#a5db7a" stroke-width="1.0"/><path d="M575.09 43.77V52.77" stroke="#a5db7a" stroke-width="0.8"/><path d="M575.09 45.27L578.09 48.27L575.09 51.27L572.09 48.27Z" fill="#fff" stroke="#a5db7a" stroke-width="1.0"/><path d="M575.95 40.81V49.81" stroke="#a5db7a" stroke-width="0.8"/><path d="M575.95 42.31L578.95 45.31L575.95 48.31L572.95 45.31Z" fill="#fff" stroke="#a5db7a" stroke-width="1.0"/><path d="M576.82 44.87V53.87" stroke="#a5db7a" stroke-width="0.8"/><path d="M576.82 46.37L579.82 49.37L576.82 52.37L573.82 49.37Z" fill="#fff" stroke="#a5db7a" stroke-width="1.0"/><path d="M577.68 52.92V61.92" stroke="#a5db7a" stroke-width="0.8"/><path d="M577.68 54.42L580.68 57.42L577.68 60.42L574.68 57.42Z" fill="#fff" stroke="#a5db7a" stroke-width="1.0"/><path d="M578.55 71.36V80.36" stroke="#a5db7a" stroke-width="0.8"/><path d="M578.55 72.86L581.55 75.86L578.55 78.86L575.55 75.86Z" fill="#fff" stroke="#a5db7a" stroke-width="1.0"/><path d="M579.41 84.43V93.43" stroke="#a5db7a" stroke-width="0.8"/><path d="M579.41 85.93L582.41 88.93L579.41 91.93L576.41 88.93Z" fill="#fff" stroke="#a5db7a" stroke-width="1.0"/><path d="M580.28 94.32V103.32" stroke="#a5db7a" stroke-width="0.8"/><path d="M580.28 95.82L583.28 98.82L580.28 101.82L577.28 98.82Z" fill="#fff" stroke="#a5db7a" stroke-width="1.0"/><path d="M581.14 90.08V99.08" stroke="#a5db7a" stroke-width="0.8"/><path d="M581.14 91.58L584.14 94.58L581.14 97.58L578.14 94.58Z" fill="#fff" stroke="#a5db7a" stroke-width="1.0"/><path d="M582.01 91.73V100.73" stroke="#a5db7a" stroke-width="0.8"/><path d="M582.01 93.23L585.01 96.23L582.01 99.23L579.01 96.23Z" fill="#fff" stroke="#a5db7a" stroke-width="1.0"/><path d="M582.87 75.86V84.86" stroke="#a5db7a" stroke-width="0.8"/><path d="M582.87 77.36L585.87 80.36L582.87 83.36L579.87 80.36Z" fill="#fff" stroke="#a5db7a" stroke-width="1.0"/><path d="M583.74 59.72V68.72" stroke="#a5db7a" stroke-width="0.8"/><path d="M583.74 61.22L586.74 64.22L583.74 67.22L580.74 64.22Z" fill="#fff" stroke="#a5db7a" stroke-width="1.0"/><path d="M584.6 44.53V53.53" stroke="#a5db7a" stroke-width="0.8"/><path d="M584.6 46.03L587.6 49.03L584.6 52.03L581.6 49.03Z" fill="#fff" stroke="#a5db7a" stroke-width="1.0"/><path d="M585.47 36.31V45.31" stroke="#a5db7a" stroke-width="0.8"/><path d="M585.47 37.81L588.47 40.81L585.47 43.81L582.47 40.81Z" fill="#fff" stroke="#a5db7a" stroke-width="1.0"/><path d="M586.33 43.17V52.17" stroke="#a5db7a" stroke-width="0.8"/><path d="M586.33 44.67L589.33 47.67L586.33 50.67L583.33 47.67Z" fill="#fff" stroke="#a5db7a" stroke-width="1.0"/><path d="M587.2 54.92V63.92" stroke="#a5db7a" stroke-width="0.8"/><path d="M587.2 56.42L590.2 59.42L587.2 62.42L584.2 59.42Z" fill="#fff" stroke="#a5db7a" stroke-width="1.0"/><path d="M588.06 72.91V81.91" stroke="#a5db7a" stroke-width="0.8"/><path d="M588.06 74.41L591.06 77.41L588.06 80.41L585.06 77.41Z" fill="#fff" stroke="#a5db7a" stroke-width="1.0"/><path d="M588.93 86.45V95.45" stroke="#a5db7a" stroke-width="0.8"/><path d="M588.93 87.95L591.93 90.95L588.93 93.95L585.93 90.95Z" fill="#fff" stroke="#a5db7a" stroke-width="1.0"/><path d="M589.79 92.83V101.83" stroke="#a5db7a" stroke-width="0.8"/><path d="M589.79 94.33L592.79 97.33L589.79 100.33L586.79 97.33Z" fill="#fff" stroke="#a5db7a" stroke-width="1.0"/><path d="M590.66 96.44V105.44" stroke="#a5db7a" stroke-width="0.8"/><path d="M590.66 97.94L593.66 100.94L590.66 103.94L587.66 100.94Z" fill="#fff" stroke="#a5db7a" stroke-width="1.0"/><path d="M591.52 92.67V101.67" stroke="#a5db7a" stroke-width="0.8"/><path d="M591.52 94.17L594.52 97.17L591.52 100.17L588.52 97.17Z" fill="#fff" stroke="#a5db7a" stroke-width="1.0"/><path d="M592.39 77.12V86.12" stroke="#a5db7a" stroke-width="0.8"/><path d="M592.39 78.62L595.39 81.62L592.39 84.62L589.39 81.62Z" fill="#fff" stroke="#a5db7a" stroke-width="1.0"/><path d="M593.25 59.69V68.69" stroke="#a5db7a" stroke-width="0.8"/><path d="M593.25 61.19L596.25 64.19L593.25 67.19L590.25 64.19Z" fill="#fff" stroke="#a5db7a" stroke-width="1.0"/><path d="M594.12 44.63V53.63" stroke="#a5db7a" stroke-width="0.8"/><path d="M594.12 46.13L597.12 49.13L594.12 52.13L591.12 49.13Z" fill="#fff" stroke="#a5db7a" stroke-width="1.0"/><path d="M594.98 41.05V50.05" stroke="#a5db7a" stroke-width="0.8"/><path d="M594.98 42.55L597.98 45.55L594.98 48.55L591.98 45.55Z" fill="#fff" stroke="#a5db7a" stroke-width="1.0"/><path d="M595.85 42.3V51.3" stroke="#a5db7a" stroke-width="0.8"/><path d="M595.85 43.8L598.85 46.8L595.85 49.8L592.85 46.8Z" fill="#fff" stroke="#a5db7a" stroke-width="1.0"/><path d="M596.71 57.52V66.52" stroke="#a5db7a" stroke-width="0.8"/><path d="M596.71 59.02L599.71 62.02L596.71 65.02L593.71 62.02Z" fill="#fff" stroke="#a5db7a" stroke-width="1.0"/><path d="M597.58 71.14V80.14" stroke="#a5db7a" stroke-width="0.8"/><path d="M597.58 72.64L600.58 75.64L597.58 78.64L594.58 75.64Z" fill="#fff" stroke="#a5db7a" stroke-width="1.0"/><path d="M598.44 78.55V87.55" stroke="#a5db7a" stroke-width="0.8"/><path d="M598.44 80.05L601.44 83.05L598.44 86.05L595.44 83.05Z" fill="#fff" stroke="#a5db7a" stroke-width="1.0"/><path d="M599.31 100.68V109.68" stroke="#a5db7a" stroke-width="0.8"/><path d="M599.31 102.18L602.31 105.18L599.31 108.18L596.31 105.18Z" fill="#fff" stroke="#a5db7a" stroke-width="1.0"/><path d="M600.17 97.66V106.66" stroke="#a5db7a" stroke-width="0.8"/><path d="M600.17 99.16L603.17 102.16L600.17 105.16L597.17 102.16Z" fill="#fff" stroke="#a5db7a" stroke-width="1.0"/><path d="M601.04 89.44V98.44" stroke="#a5db7a" stroke-width="0.8"/><path d="M601.04 90.94L604.04 93.94L601.04 96.94L598.04 93.94Z" fill="#fff" stroke="#a5db7a" stroke-width="1.0"/><path d="M601.9 77.69V86.69" stroke="#a5db7a" stroke-width="0.8"/><path d="M601.9 79.19L604.9 82.19L601.9 85.19L598.9 82.19Z" fill="#fff" stroke="#a5db7a" stroke-width="1.0"/><path d="M602.77 62.75V71.75" stroke="#a5db7a" stroke-width="0.8"/><path d="M602.77 64.25L605.77 67.25L602.77 70.25L599.77 67.25Z" fill="#fff" stroke="#a5db7a" stroke-width="1.0"/><path d="M603.63 46.64V55.64" stroke="#a5db7a" stroke-width="0.8"/><path d="M603.63 48.14L606.63 51.14L603.63 54.14L600.63 51.14Z" fill="#fff" stroke="#a5db7a" stroke-width="1.0"/><path d="M604.5 39.41V48.41" stroke="#a5db7a" stroke-width="0.8"/><path d="M604.5 40.91L607.5 43.91L604.5 46.91L601.5 43.91Z" fill="#fff" stroke="#a5db7a" stroke-width="1.0"/><path d="M605.36 41.6V50.6" stroke="#a5db7a" stroke-width="0.8"/><path d="M605.36 43.1L608.36 46.1L605.36 49.1L602.36 46.1Z" fill="#fff" stroke="#a5db7a" stroke-width="1.0"/><path d="M606.23 57.49V66.49" stroke="#a5db7a" stroke-width="0.8"/><path d="M606.23 58.99L609.23 61.99L606.23 64.99L603.23 61.99Z" fill="#fff" stroke="#a5db7a" stroke-width="1.0"/><path d="M607.09 67.64V76.64" stroke="#a5db7a" stroke-width="0.8"/><path d="M607.09 69.14L610.09 72.14L607.09 75.14L604.09 72.14Z" fill="#fff" stroke="#a5db7a" stroke-width="1.0"/><path d="M607.96 85.56V94.56" stroke="#a5db7a" stroke-width="0.8"/><path d="M607.96 87.06L610.96 90.06L607.96 93.06L604.96 90.06Z" fill="#fff" stroke="#a5db7a" stroke-width="1.0"/><path d="M608.82 95.62V104.62" stroke="#a5db7a" stroke-width="0.8"/><path d="M608.82 97.12L611.82 100.12L608.82 103.12L605.82 100.12Z" fill="#fff" stroke="#a5db7a" stroke-width="1.0"/><path d="M609.69 96V105" stroke="#a5db7a" stroke-width="0.8"/><path d="M609.69 97.5L612.69 100.5L609.69 103.5L606.69 100.5Z" fill="#fff" stroke="#a5db7a" stroke-width="1.0"/><path d="M610.55 88.43V97.43" stroke="#a5db7a" stroke-width="0.8"/><path d="M610.55 89.93L613.55 92.93L610.55 95.93L607.55 92.93Z" fill="#fff" stroke="#a5db7a" stroke-width="1.0"/><path d="M611.42 74.24V83.24" stroke="#a5db7a" stroke-width="0.8"/><path d="M611.42 75.74L614.42 78.74L611.42 81.74L608.42 78.74Z" fill="#fff" stroke="#a5db7a" stroke-width="1.0"/><path d="M612.28 62.39V71.39" stroke="#a5db7a" stroke-width="0.8"/><path d="M612.28 63.89L615.28 66.89L612.28 69.89L609.28 66.89Z" fill="#fff" stroke="#a5db7a" stroke-width="1.0"/><path d="M613.15 43.88V52.88" stroke="#a5db7a" stroke-width="0.8"/><path d="M613.15 45.38L616.15 48.38L613.15 51.38L610.15 48.38Z" fill="#fff" stroke="#a5db7a" stroke-width="1.0"/><path d="M614.01 35.75V44.75" stroke="#a5db7a" stroke-width="0.8"/><path d="M614.01 37.25L617.01 40.25L614.01 43.25L611.01 40.25Z" fill="#fff" stroke="#a5db7a" stroke-width="1.0"/><path d="M614.88 37.51V46.51" stroke="#a5db7a" stroke-width="0.8"/><path d="M614.88 39.01L617.88 42.01L614.88 45.01L611.88 42.01Z" fill="#fff" stroke="#a5db7a" stroke-width="1.0"/><path d="M615.74 46.8V55.8" stroke="#a5db7a" stroke-width="0.8"/><path d="M615.74 48.3L618.74 51.3L615.74 54.3L612.74 51.3Z" fill="#fff" stroke="#a5db7a" stroke-width="1.0"/><path d="M616.61 67.12V76.12" stroke="#a5db7a" stroke-width="0.8"/><path d="M616.61 68.62L619.61 71.62L616.61 74.62L613.61 71.62Z" fill="#fff" stroke="#a5db7a" stroke-width="1.0"/><path d="M617.47 83.01V92.01" stroke="#a5db7a" stroke-width="0.8"/><path d="M617.47 84.51L620.47 87.51L617.47 90.51L614.47 87.51Z" fill="#fff" stroke="#a5db7a" stroke-width="1.0"/><path d="M618.34 90.99V99.99" stroke="#a5db7a" stroke-width="0.8"/><path d="M618.34 92.49L621.34 95.49L618.34 98.49L615.34 95.49Z" fill="#fff" stroke="#a5db7a" stroke-width="1.0"/><path d="M619.2 101.22V110.22" stroke="#a5db7a" stroke-width="0.8"/><path d="M619.2 102.72L622.2 105.72L619.2 108.72L616.2 105.72Z" fill="#fff" stroke="#a5db7a" stroke-width="1.0"/><path d="M620.07 90.09V99.09" stroke="#a5db7a" stroke-width="0.8"/><path d="M620.07 91.59L623.07 94.59L620.07 97.59L617.07 94.59Z" fill="#fff" stroke="#a5db7a" stroke-width="1.0"/><path d="M620.93 79.32V88.32" stroke="#a5db7a" stroke-width="0.8"/><path d="M620.93 80.82L623.93 83.82L620.93 86.82L617.93 83.82Z" fill="#fff" stroke="#a5db7a" stroke-width="1.0"/><path d="M621.8 62.55V71.55" stroke="#a5db7a" stroke-width="0.8"/><path d="M621.8 64.05L624.8 67.05L621.8 70.05L618.8 67.05Z" fill="#fff" stroke="#a5db7a" stroke-width="1.0"/><path d="M622.66 52.95V61.95" stroke="#a5db7a" stroke-width="0.8"/><path d="M622.66 54.45L625.66 57.45L622.66 60.45L619.66 57.45Z" fill="#fff" stroke="#a5db7a" stroke-width="1.0"/><path d="M623.53 42.55V51.55" stroke="#a5db7a" stroke-width="0.8"/><path d="M623.53 44.05L626.53 47.05L623.53 50.05L620.53 47.05Z" fill="#fff" stroke="#a5db7a" stroke-width="1.0"/><path d="M624.39 41.01V50.01" stroke="#a5db7a" stroke-width="0.8"/><path d="M624.39 42.51L627.39 45.51L624.39 48.51L621.39 45.51Z" fill="#fff" stroke="#a5db7a" stroke-width="1.0"/><path d="M625.26 47.86V56.86" stroke="#a5db7a" stroke-width="0.8"/><path d="M625.26 49.36L628.26 52.36L625.26 55.36L622.26 52.36Z" fill="#fff" stroke="#a5db7a" stroke-width="1.0"/><path d="M626.12 62.79V71.79" stroke="#a5db7a" stroke-width="0.8"/><path d="M626.12 64.29L629.12 67.29L626.12 70.29L623.12 67.29Z" fill="#fff" stroke="#a5db7a" stroke-width="1.0"/><path d="M626.99 82.25V91.25" stroke="#a5db7a" stroke-width="0.8"/><path d="M626.99 83.75L629.99 86.75L626.99 89.75L623.99 86.75Z" fill="#fff" stroke="#a5db7a" stroke-width="1.0"/><path d="M627.85 94.05V103.05" stroke="#a5db7a" stroke-width="0.8"/><path d="M627.85 95.55L630.85 98.55L627.85 101.55L624.85 98.55Z" fill="#fff" stroke="#a5db7a" stroke-width="1.0"/><path d="M628.72 99.63V108.63" stroke="#a5db7a" stroke-width="0.8"/><path d="M628.72 101.13L631.72 104.13L628.72 107.13L625.72 104.13Z" fill="#fff" stroke="#a5db7a" stroke-width="1.0"/><path d="M629.58 89.73V98.73" stroke="#a5db7a" stroke-width="0.8"/><path d="M629.58 91.23L632.58 94.23L629.58 97.23L626.58 94.23Z" fill="#fff" stroke="#a5db7a" stroke-width="1.0"/><path d="M630.45 78.93V87.93" stroke="#a5db7a" stroke-width="0.8"/><path d="M630.45 80.43L633.45 83.43L630.45 86.43L627.45 83.43Z" fill="#fff" stroke="#a5db7a" stroke-width="1.0"/><path d="M631.31 59.79V68.79" stroke="#a5db7a" stroke-width="0.8"/><path d="M631.31 61.29L634.31 64.29L631.31 67.29L628.31 64.29Z" fill="#fff" stroke="#a5db7a" stroke-width="1.0"/><path d="M632.18 41.54V50.54" stroke="#a5db7a" stroke-width="0.8"/><path d="M632.18 43.04L635.18 46.04L632.18 49.04L629.18 46.04Z" fill="#fff" stroke="#a5db7a" stroke-width="1.0"/><path d="M633.04 39.81V48.81" stroke="#a5db7a" stroke-width="0.8"/><path d="M633.04 41.31L636.04 44.31L633.04 47.31L630.04 44.31Z" fill="#fff" stroke="#a5db7a" stroke-width="1.0"/><path d="M633.91 45.94V54.94" stroke="#a5db7a" stroke-width="0.8"/><path d="M633.91 47.44L636.91 50.44L633.91 53.44L630.91 50.44Z" fill="#fff" stroke="#a5db7a" stroke-width="1.0"/><path d="M634.77 53.38V62.38" stroke="#a5db7a" stroke-width="0.8"/><path d="M634.77 54.88L637.77 57.88L634.77 60.88L631.77 57.88Z" fill="#fff" stroke="#a5db7a" stroke-width="1.0"/><path d="M635.64 70.66V79.66" stroke="#a5db7a" stroke-width="0.8"/><path d="M635.64 72.16L638.64 75.16L635.64 78.16L632.64 75.16Z" fill="#fff" stroke="#a5db7a" stroke-width="1.0"/><path d="M636.5 85.69V94.69" stroke="#a5db7a" stroke-width="0.8"/><path d="M636.5 87.19L639.5 90.19L636.5 93.19L633.5 90.19Z" fill="#fff" stroke="#a5db7a" stroke-width="1.0"/><path d="M637.37 88.58V97.58" stroke="#a5db7a" stroke-width="0.8"/><path d="M637.37 90.08L640.37 93.08L637.37 96.08L634.37 93.08Z" fill="#fff" stroke="#a5db7a" stroke-width="1.0"/><path d="M638.23 96.05V105.05" stroke="#a5db7a" stroke-width="0.8"/><path d="M638.23 97.55L641.23 100.55L638.23 103.55L635.23 100.55Z" fill="#fff" stroke="#a5db7a" stroke-width="1.0"/><path d="M639.1 96.79V105.79" stroke="#a5db7a" stroke-width="0.8"/><path d="M639.1 98.29L642.1 101.29L639.1 104.29L636.1 101.29Z" fill="#fff" stroke="#a5db7a" stroke-width="1.0"/><path d="M639.96 76.27V85.27" stroke="#a5db7a" stroke-width="0.8"/><path d="M639.96 77.77L642.96 80.77L639.96 83.77L636.96 80.77Z" fill="#fff" stroke="#a5db7a" stroke-width="1.0"/><path d="M640.83 57.91V66.91" stroke="#a5db7a" stroke-width="0.8"/><path d="M640.83 59.41L643.83 62.41L640.83 65.41L637.83 62.41Z" fill="#fff" stroke="#a5db7a" stroke-width="1.0"/><path d="M641.69 49.24V58.24" stroke="#a5db7a" stroke-width="0.8"/><path d="M641.69 50.74L644.69 53.74L641.69 56.74L638.69 53.74Z" fill="#fff" stroke="#a5db7a" stroke-width="1.0"/><path d="M642.56 42.24V51.24" stroke="#a5db7a" stroke-width="0.8"/><path d="M642.56 43.74L645.56 46.74L642.56 49.74L639.56 46.74Z" fill="#fff" stroke="#a5db7a" stroke-width="1.0"/><path d="M643.43 41.79V50.79" stroke="#a5db7a" stroke-width="0.8"/><path d="M643.43 43.29L646.43 46.29L643.43 49.29L640.43 46.29Z" fill="#fff" stroke="#a5db7a" stroke-width="1.0"/><path d="M644.29 48.94V57.94" stroke="#a5db7a" stroke-width="0.8"/><path d="M644.29 50.44L647.29 53.44L644.29 56.44L641.29 53.44Z" fill="#fff" stroke="#a5db7a" stroke-width="1.0"/><path d="M645.16 62.72V71.72" stroke="#a5db7a" stroke-width="0.8"/><path d="M645.16 64.22L648.16 67.22L645.16 70.22L642.16 67.22Z" fill="#fff" stroke="#a5db7a" stroke-width="1.0"/><path d="M646.02 76.74V85.74" stroke="#a5db7a" stroke-width="0.8"/><path d="M646.02 78.24L649.02 81.24L646.02 84.24L643.02 81.24Z" fill="#fff" stroke="#a5db7a" stroke-width="1.0"/><path d="M646.89 88.47V97.47" stroke="#a5db7a" stroke-width="0.8"/><path d="M646.89 89.97L649.89 92.97L646.89 95.97L643.89 92.97Z" fill="#fff" stroke="#a5db7a" stroke-width="1.0"/><path d="M647.75 92.55V101.55" stroke="#a5db7a" stroke-width="0.8"/><path d="M647.75 94.05L650.75 97.05L647.75 100.05L644.75 97.05Z" fill="#fff" stroke="#a5db7a" stroke-width="1.0"/><path d="M648.62 86.75V95.75" stroke="#a5db7a" stroke-width="0.8"/><path d="M648.62 88.25L651.62 91.25L648.62 94.25L645.62 91.25Z" fill="#fff" stroke="#a5db7a" stroke-width="1.0"/><path d="M649.48 76.65V85.65" stroke="#a5db7a" stroke-width="0.8"/><path d="M649.48 78.15L652.48 81.15L649.48 84.15L646.48 81.15Z" fill="#fff" stroke="#a5db7a" stroke-width="1.0"/><path d="M650.35 68.56V77.56" stroke="#a5db7a" stroke-width="0.8"/><path d="M650.35 70.06L653.35 73.06L650.35 76.06L647.35 73.06Z" fill="#fff" stroke="#a5db7a" stroke-width="1.0"/><path d="M651.21 48.83V57.83" stroke="#a5db7a" stroke-width="0.8"/><path d="M651.21 50.33L654.21 53.33L651.21 56.33L648.21 53.33Z" fill="#fff" stroke="#a5db7a" stroke-width="1.0"/><path d="M652.08 38.79V47.79" stroke="#a5db7a" stroke-width="0.8"/><path d="M652.08 40.29L655.08 43.29L652.08 46.29L649.08 43.29Z" fill="#fff" stroke="#a5db7a" stroke-width="1.0"/><path d="M652.94 41.83V50.83" stroke="#a5db7a" stroke-width="0.8"/><path d="M652.94 43.33L655.94 46.33L652.94 49.33L649.94 46.33Z" fill="#fff" stroke="#a5db7a" stroke-width="1.0"/><path d="M653.81 46.15V55.15" stroke="#a5db7a" stroke-width="0.8"/><path d="M653.81 47.65L656.81 50.65L653.81 53.65L650.81 50.65Z" fill="#fff" stroke="#a5db7a" stroke-width="1.0"/><path d="M654.67 65.85V74.85" stroke="#a5db7a" stroke-width="0.8"/><path d="M654.67 67.35L657.67 70.35L654.67 73.35L651.67 70.35Z" fill="#fff" stroke="#a5db7a" stroke-width="1.0"/><path d="M655.54 84.02V93.02" stroke="#a5db7a" stroke-width="0.8"/><path d="M655.54 85.52L658.54 88.52L655.54 91.52L652.54 88.52Z" fill="#fff" stroke="#a5db7a" stroke-width="1.0"/><path d="M656.4 87.16V96.16" stroke="#a5db7a" stroke-width="0.8"/><path d="M656.4 88.66L659.4 91.66L656.4 94.66L653.4 91.66Z" fill="#fff" stroke="#a5db7a" stroke-width="1.0"/><path d="M657.27 94.37V103.37" stroke="#a5db7a" stroke-width="0.8"/><path d="M657.27 95.87L660.27 98.87L657.27 101.87L654.27 98.87Z" fill="#fff" stroke="#a5db7a" stroke-width="1.0"/><path d="M658.13 91.2V100.2" stroke="#a5db7a" stroke-width="0.8"/><path d="M658.13 92.7L661.13 95.7L658.13 98.7L655.13 95.7Z" fill="#fff" stroke="#a5db7a" stroke-width="1.0"/><path d="M659 76.05V85.05" stroke="#a5db7a" stroke-width="0.8"/><path d="M659 77.55L662 80.55L659 83.55L656 80.55Z" fill="#fff" stroke="#a5db7a" stroke-width="1.0"/><path d="M659.86 59.4V68.4" stroke="#a5db7a" stroke-width="0.8"/><path d="M659.86 60.9L662.86 63.9L659.86 66.9L656.86 63.9Z" fill="#fff" stroke="#a5db7a" stroke-width="1.0"/><path d="M660.73 47.44V56.44" stroke="#a5db7a" stroke-width="0.8"/><path d="M660.73 48.94L663.73 51.94L660.73 54.94L657.73 51.94Z" fill="#fff" stroke="#a5db7a" stroke-width="1.0"/><path d="M661.59 49.54V58.54" stroke="#a5db7a" stroke-width="0.8"/><path d="M661.59 51.04L664.59 54.04L661.59 57.04L658.59 54.04Z" fill="#fff" stroke="#a5db7a" stroke-width="1.0"/><path d="M662.46 42.85V51.85" stroke="#a5db7a" stroke-width="0.8"/><path d="M662.46 44.35L665.46 47.35L662.46 50.35L659.46 47.35Z" fill="#fff" stroke="#a5db7a" stroke-width="1.0"/><path d="M663.32 50.9V59.9" stroke="#a5db7a" stroke-width="0.8"/><path d="M663.32 52.4L666.32 55.4L663.32 58.4L660.32 55.4Z" fill="#fff" stroke="#a5db7a" stroke-width="1.0"/><path d="M664.19 67.78V76.78" stroke="#a5db7a" stroke-width="0.8"/><path d="M664.19 69.28L667.19 72.28L664.19 75.28L661.19 72.28Z" fill="#fff" stroke="#a5db7a" stroke-width="1.0"/><path d="M665.05 79.28V88.28" stroke="#a5db7a" stroke-width="0.8"/><path d="M665.05 80.78L668.05 83.78L665.05 86.78L662.05 83.78Z" fill="#fff" stroke="#a5db7a" stroke-width="1.0"/><path d="M665.92 87.67V96.67" stroke="#a5db7a" stroke-width="0.8"/><path d="M665.92 89.17L668.92 92.17L665.92 95.17L662.92 92.17Z" fill="#fff" stroke="#a5db7a" stroke-width="1.0"/><path d="M666.78 98.79V107.79" stroke="#a5db7a" stroke-width="0.8"/><path d="M666.78 100.29L669.78 103.29L666.78 106.29L663.78 103.29Z" fill="#fff" stroke="#a5db7a" stroke-width="1.0"/><path d="M667.65 96.78V105.78" stroke="#a5db7a" stroke-width="0.8"/><path d="M667.65 98.28L670.65 101.28L667.65 104.28L664.65 101.28Z" fill="#fff" stroke="#a5db7a" stroke-width="1.0"/><path d="M668.51 72.09V81.09" stroke="#a5db7a" stroke-width="0.8"/><path d="M668.51 73.59L671.51 76.59L668.51 79.59L665.51 76.59Z" fill="#fff" stroke="#a5db7a" stroke-width="1.0"/><path d="M669.38 65.77V74.77" stroke="#a5db7a" stroke-width="0.8"/><path d="M669.38 67.27L672.38 70.27L669.38 73.27L666.38 70.27Z" fill="#fff" stroke="#a5db7a" stroke-width="1.0"/><path d="M670.24 54.03V63.03" stroke="#a5db7a" stroke-width="0.8"/><path d="M670.24 55.53L673.24 58.53L670.24 61.53L667.24 58.53Z" fill="#fff" stroke="#a5db7a" stroke-width="1.0"/><path d="M671.11 39.31V48.31" stroke="#a5db7a" stroke-width="0.8"/><path d="M671.11 40.81L674.11 43.81L671.11 46.81L668.11 43.81Z" fill="#fff" stroke="#a5db7a" stroke-width="1.0"/><path d="M671.97 38.4V47.4" stroke="#a5db7a" stroke-width="0.8"/><path d="M671.97 39.9L674.97 42.9L671.97 45.9L668.97 42.9Z" fill="#fff" stroke="#a5db7a" stroke-width="1.0"/><path d="M672.84 51.55V60.55" stroke="#a5db7a" stroke-width="0.8"/><path d="M672.84 53.05L675.84 56.05L672.84 59.05L669.84 56.05Z" fill="#fff" stroke="#a5db7a" stroke-width="1.0"/><path d="M673.7 60.27V69.27" stroke="#a5db7a" stroke-width="0.8"/><path d="M673.7 61.77L676.7 64.77L673.7 67.77L670.7 64.77Z" fill="#fff" stroke="#a5db7a" stroke-width="1.0"/><path d="M674.57 81.52V90.52" stroke="#a5db7a" stroke-width="0.8"/><path d="M674.57 83.02L677.57 86.02L674.57 89.02L671.57 86.02Z" fill="#fff" stroke="#a5db7a" stroke-width="1.0"/><path d="M675.43 95.75V104.75" stroke="#a5db7a" stroke-width="0.8"/><path d="M675.43 97.25L678.43 100.25L675.43 103.25L672.43 100.25Z" fill="#fff" stroke="#a5db7a" stroke-width="1.0"/><path d="M676.3 96.17V105.17" stroke="#a5db7a" stroke-width="0.8"/><path d="M676.3 97.67L679.3 100.67L676.3 103.67L673.3 100.67Z" fill="#fff" stroke="#a5db7a" stroke-width="1.0"/><path d="M479.5 46.09V54.09" stroke="#236f52" stroke-width="0.7"/><path d="M479.5 47.09L482.5 50.09L479.5 53.09L476.5 50.09Z" fill="#fff" stroke="#236f52" stroke-width="1.1"/><path d="M480.92 43.55V51.55" stroke="#236f52" stroke-width="0.7"/><path d="M480.92 44.55L483.92 47.55L480.92 50.55L477.92 47.55Z" fill="#fff" stroke="#236f52" stroke-width="1.1"/><path d="M482.33 54.25V62.25" stroke="#236f52" stroke-width="0.7"/><path d="M482.33 55.25L485.33 58.25L482.33 61.25L479.33 58.25Z" fill="#fff" stroke="#236f52" stroke-width="1.1"/><path d="M483.75 79.1V87.1" stroke="#236f52" stroke-width="0.7"/><path d="M483.75 80.1L486.75 83.1L483.75 86.1L480.75 83.1Z" fill="#fff" stroke="#236f52" stroke-width="1.1"/><path d="M485.16 84.4V92.4" stroke="#236f52" stroke-width="0.7"/><path d="M485.16 85.4L488.16 88.4L485.16 91.4L482.16 88.4Z" fill="#fff" stroke="#236f52" stroke-width="1.1"/><path d="M486.58 88.42V96.42" stroke="#236f52" stroke-width="0.7"/><path d="M486.58 89.42L489.58 92.42L486.58 95.42L483.58 92.42Z" fill="#fff" stroke="#236f52" stroke-width="1.1"/><path d="M487.99 61V69" stroke="#236f52" stroke-width="0.7"/><path d="M487.99 62L490.99 65L487.99 68L484.99 65Z" fill="#fff" stroke="#236f52" stroke-width="1.1"/><path d="M489.41 46.37V54.37" stroke="#236f52" stroke-width="0.7"/><path d="M489.41 47.37L492.41 50.37L489.41 53.37L486.41 50.37Z" fill="#fff" stroke="#236f52" stroke-width="1.1"/><path d="M490.82 45.43V53.43" stroke="#236f52" stroke-width="0.7"/><path d="M490.82 46.43L493.82 49.43L490.82 52.43L487.82 49.43Z" fill="#fff" stroke="#236f52" stroke-width="1.1"/><path d="M492.24 59.89V67.89" stroke="#236f52" stroke-width="0.7"/><path d="M492.24 60.89L495.24 63.89L492.24 66.89L489.24 63.89Z" fill="#fff" stroke="#236f52" stroke-width="1.1"/><path d="M493.66 79.97V87.97" stroke="#236f52" stroke-width="0.7"/><path d="M493.66 80.97L496.66 83.97L493.66 86.97L490.66 83.97Z" fill="#fff" stroke="#236f52" stroke-width="1.1"/><path d="M495.07 86.93V94.93" stroke="#236f52" stroke-width="0.7"/><path d="M495.07 87.93L498.07 90.93L495.07 93.93L492.07 90.93Z" fill="#fff" stroke="#236f52" stroke-width="1.1"/><path d="M496.49 78.91V86.91" stroke="#236f52" stroke-width="0.7"/><path d="M496.49 79.91L499.49 82.91L496.49 85.91L493.49 82.91Z" fill="#fff" stroke="#236f52" stroke-width="1.1"/><path d="M497.9 61.77V69.77" stroke="#236f52" stroke-width="0.7"/><path d="M497.9 62.77L500.9 65.77L497.9 68.77L494.9 65.77Z" fill="#fff" stroke="#236f52" stroke-width="1.1"/><path d="M499.32 49.05V57.05" stroke="#236f52" stroke-width="0.7"/><path d="M499.32 50.05L502.32 53.05L499.32 56.05L496.32 53.05Z" fill="#fff" stroke="#236f52" stroke-width="1.1"/><path d="M500.73 50.37V58.37" stroke="#236f52" stroke-width="0.7"/><path d="M500.73 51.37L503.73 54.37L500.73 57.37L497.73 54.37Z" fill="#fff" stroke="#236f52" stroke-width="1.1"/><path d="M502.15 66.18V74.18" stroke="#236f52" stroke-width="0.7"/><path d="M502.15 67.18L505.15 70.18L502.15 73.18L499.15 70.18Z" fill="#fff" stroke="#236f52" stroke-width="1.1"/><path d="M503.56 79.27V87.27" stroke="#236f52" stroke-width="0.7"/><path d="M503.56 80.27L506.56 83.27L503.56 86.27L500.56 83.27Z" fill="#fff" stroke="#236f52" stroke-width="1.1"/><path d="M504.98 83.57V91.57" stroke="#236f52" stroke-width="0.7"/><path d="M504.98 84.57L507.98 87.57L504.98 90.57L501.98 87.57Z" fill="#fff" stroke="#236f52" stroke-width="1.1"/><path d="M506.39 71.14V79.14" stroke="#236f52" stroke-width="0.7"/><path d="M506.39 72.14L509.39 75.14L506.39 78.14L503.39 75.14Z" fill="#fff" stroke="#236f52" stroke-width="1.1"/><path d="M507.81 55.58V63.58" stroke="#236f52" stroke-width="0.7"/><path d="M507.81 56.58L510.81 59.58L507.81 62.58L504.81 59.58Z" fill="#fff" stroke="#236f52" stroke-width="1.1"/><path d="M509.23 51.73V59.73" stroke="#236f52" stroke-width="0.7"/><path d="M509.23 52.73L512.23 55.73L509.23 58.73L506.23 55.73Z" fill="#fff" stroke="#236f52" stroke-width="1.1"/><path d="M510.64 60.86V68.86" stroke="#236f52" stroke-width="0.7"/><path d="M510.64 61.86L513.64 64.86L510.64 67.86L507.64 64.86Z" fill="#fff" stroke="#236f52" stroke-width="1.1"/><path d="M512.06 73V81" stroke="#236f52" stroke-width="0.7"/><path d="M512.06 74L515.06 77L512.06 80L509.06 77Z" fill="#fff" stroke="#236f52" stroke-width="1.1"/><path d="M513.47 82.46V90.46" stroke="#236f52" stroke-width="0.7"/><path d="M513.47 83.46L516.47 86.46L513.47 89.46L510.47 86.46Z" fill="#fff" stroke="#236f52" stroke-width="1.1"/><path d="M514.89 75.71V83.71" stroke="#236f52" stroke-width="0.7"/><path d="M514.89 76.71L517.89 79.71L514.89 82.71L511.89 79.71Z" fill="#fff" stroke="#236f52" stroke-width="1.1"/><path d="M516.3 70.29V78.29" stroke="#236f52" stroke-width="0.7"/><path d="M516.3 71.29L519.3 74.29L516.3 77.29L513.3 74.29Z" fill="#fff" stroke="#236f52" stroke-width="1.1"/><path d="M517.72 56.95V64.95" stroke="#236f52" stroke-width="0.7"/><path d="M517.72 57.95L520.72 60.95L517.72 63.95L514.72 60.95Z" fill="#fff" stroke="#236f52" stroke-width="1.1"/><path d="M519.13 55.73V63.73" stroke="#236f52" stroke-width="0.7"/><path d="M519.13 56.73L522.13 59.73L519.13 62.73L516.13 59.73Z" fill="#fff" stroke="#236f52" stroke-width="1.1"/><path d="M520.55 60.14V68.14" stroke="#236f52" stroke-width="0.7"/><path d="M520.55 61.14L523.55 64.14L520.55 67.14L517.55 64.14Z" fill="#fff" stroke="#236f52" stroke-width="1.1"/><path d="M521.97 70.49V78.49" stroke="#236f52" stroke-width="0.7"/><path d="M521.97 71.49L524.97 74.49L521.97 77.49L518.97 74.49Z" fill="#fff" stroke="#236f52" stroke-width="1.1"/><path d="M523.38 77.02V85.02" stroke="#236f52" stroke-width="0.7"/><path d="M523.38 78.02L526.38 81.02L523.38 84.02L520.38 81.02Z" fill="#fff" stroke="#236f52" stroke-width="1.1"/><path d="M524.8 74.29V82.29" stroke="#236f52" stroke-width="0.7"/><path d="M524.8 75.29L527.8 78.29L524.8 81.29L521.8 78.29Z" fill="#fff" stroke="#236f52" stroke-width="1.1"/><path d="M526.21 66.25V74.25" stroke="#236f52" stroke-width="0.7"/><path d="M526.21 67.25L529.21 70.25L526.21 73.25L523.21 70.25Z" fill="#fff" stroke="#236f52" stroke-width="1.1"/><path d="M527.63 60.05V68.05" stroke="#236f52" stroke-width="0.7"/><path d="M527.63 61.05L530.63 64.05L527.63 67.05L524.63 64.05Z" fill="#fff" stroke="#236f52" stroke-width="1.1"/><path d="M529.04 61.09V69.09" stroke="#236f52" stroke-width="0.7"/><path d="M529.04 62.09L532.04 65.09L529.04 68.09L526.04 65.09Z" fill="#fff" stroke="#236f52" stroke-width="1.1"/><path d="M530.46 65.95V73.95" stroke="#236f52" stroke-width="0.7"/><path d="M530.46 66.95L533.46 69.95L530.46 72.95L527.46 69.95Z" fill="#fff" stroke="#236f52" stroke-width="1.1"/><path d="M531.87 70.05V78.05" stroke="#236f52" stroke-width="0.7"/><path d="M531.87 71.05L534.87 74.05L531.87 77.05L528.87 74.05Z" fill="#fff" stroke="#236f52" stroke-width="1.1"/><path d="M533.29 76.78V84.78" stroke="#236f52" stroke-width="0.7"/><path d="M533.29 77.78L536.29 80.78L533.29 83.78L530.29 80.78Z" fill="#fff" stroke="#236f52" stroke-width="1.1"/><path d="M534.71 70.74V78.74" stroke="#236f52" stroke-width="0.7"/><path d="M534.71 71.74L537.71 74.74L534.71 77.74L531.71 74.74Z" fill="#fff" stroke="#236f52" stroke-width="1.1"/><path d="M536.12 66.33V74.33" stroke="#236f52" stroke-width="0.7"/><path d="M536.12 67.33L539.12 70.33L536.12 73.33L533.12 70.33Z" fill="#fff" stroke="#236f52" stroke-width="1.1"/><path d="M537.54 61.18V69.18" stroke="#236f52" stroke-width="0.7"/><path d="M537.54 62.18L540.54 65.18L537.54 68.18L534.54 65.18Z" fill="#fff" stroke="#236f52" stroke-width="1.1"/><path d="M538.95 61.62V69.62" stroke="#236f52" stroke-width="0.7"/><path d="M538.95 62.62L541.95 65.62L538.95 68.62L535.95 65.62Z" fill="#fff" stroke="#236f52" stroke-width="1.1"/><path d="M540.37 67.74V75.74" stroke="#236f52" stroke-width="0.7"/><path d="M540.37 68.74L543.37 71.74L540.37 74.74L537.37 71.74Z" fill="#fff" stroke="#236f52" stroke-width="1.1"/><path d="M541.78 71.32V79.32" stroke="#236f52" stroke-width="0.7"/><path d="M541.78 72.32L544.78 75.32L541.78 78.32L538.78 75.32Z" fill="#fff" stroke="#236f52" stroke-width="1.1"/><path d="M543.2 74.83V82.83" stroke="#236f52" stroke-width="0.7"/><path d="M543.2 75.83L546.2 78.83L543.2 81.83L540.2 78.83Z" fill="#fff" stroke="#236f52" stroke-width="1.1"/><path d="M544.61 67.95V75.95" stroke="#236f52" stroke-width="0.7"/><path d="M544.61 68.95L547.61 71.95L544.61 74.95L541.61 71.95Z" fill="#fff" stroke="#236f52" stroke-width="1.1"/><path d="M546.03 65.07V73.07" stroke="#236f52" stroke-width="0.7"/><path d="M546.03 66.07L549.03 69.07L546.03 72.07L543.03 69.07Z" fill="#fff" stroke="#236f52" stroke-width="1.1"/><path d="M547.44 61.41V69.41" stroke="#236f52" stroke-width="0.7"/><path d="M547.44 62.41L550.44 65.41L547.44 68.41L544.44 65.41Z" fill="#fff" stroke="#236f52" stroke-width="1.1"/><path d="M548.86 64.02V72.02" stroke="#236f52" stroke-width="0.7"/><path d="M548.86 65.02L551.86 68.02L548.86 71.02L545.86 68.02Z" fill="#fff" stroke="#236f52" stroke-width="1.1"/><path d="M550.28 71.78V79.78" stroke="#236f52" stroke-width="0.7"/><path d="M550.28 72.78L553.28 75.78L550.28 78.78L547.28 75.78Z" fill="#fff" stroke="#236f52" stroke-width="1.1"/><path d="M551.69 73.17V81.17" stroke="#236f52" stroke-width="0.7"/><path d="M551.69 74.17L554.69 77.17L551.69 80.17L548.69 77.17Z" fill="#fff" stroke="#236f52" stroke-width="1.1"/><path d="M553.11 71.62V79.62" stroke="#236f52" stroke-width="0.7"/><path d="M553.11 72.62L556.11 75.62L553.11 78.62L550.11 75.62Z" fill="#fff" stroke="#236f52" stroke-width="1.1"/><path d="M554.52 66.24V74.24" stroke="#236f52" stroke-width="0.7"/><path d="M554.52 67.24L557.52 70.24L554.52 73.24L551.52 70.24Z" fill="#fff" stroke="#236f52" stroke-width="1.1"/><path d="M555.94 63.4V71.4" stroke="#236f52" stroke-width="0.7"/><path d="M555.94 64.4L558.94 67.4L555.94 70.4L552.94 67.4Z" fill="#fff" stroke="#236f52" stroke-width="1.1"/><path d="M557.35 62.34V70.34" stroke="#236f52" stroke-width="0.7"/><path d="M557.35 63.34L560.35 66.34L557.35 69.34L554.35 66.34Z" fill="#fff" stroke="#236f52" stroke-width="1.1"/><path d="M558.77 66.91V74.91" stroke="#236f52" stroke-width="0.7"/><path d="M558.77 67.91L561.77 70.91L558.77 73.91L555.77 70.91Z" fill="#fff" stroke="#236f52" stroke-width="1.1"/><path d="M560.18 68.46V76.46" stroke="#236f52" stroke-width="0.7"/><path d="M560.18 69.46L563.18 72.46L560.18 75.46L557.18 72.46Z" fill="#fff" stroke="#236f52" stroke-width="1.1"/><path d="M561.6 70.59V78.59" stroke="#236f52" stroke-width="0.7"/><path d="M561.6 71.59L564.6 74.59L561.6 77.59L558.6 74.59Z" fill="#fff" stroke="#236f52" stroke-width="1.1"/><path d="M563.02 70.91V78.91" stroke="#236f52" stroke-width="0.7"/><path d="M563.02 71.91L566.02 74.91L563.02 77.91L560.02 74.91Z" fill="#fff" stroke="#236f52" stroke-width="1.1"/><path d="M564.43 66.94V74.94" stroke="#236f52" stroke-width="0.7"/><path d="M564.43 67.94L567.43 70.94L564.43 73.94L561.43 70.94Z" fill="#fff" stroke="#236f52" stroke-width="1.1"/><path d="M565.85 64.73V72.73" stroke="#236f52" stroke-width="0.7"/><path d="M565.85 65.73L568.85 68.73L565.85 71.73L562.85 68.73Z" fill="#fff" stroke="#236f52" stroke-width="1.1"/><path d="M567.26 62.26V70.26" stroke="#236f52" stroke-width="0.7"/><path d="M567.26 63.26L570.26 66.26L567.26 69.26L564.26 66.26Z" fill="#fff" stroke="#236f52" stroke-width="1.1"/><path d="M568.68 64.04V72.04" stroke="#236f52" stroke-width="0.7"/><path d="M568.68 65.04L571.68 68.04L568.68 71.04L565.68 68.04Z" fill="#fff" stroke="#236f52" stroke-width="1.1"/><path d="M570.09 70.15V78.15" stroke="#236f52" stroke-width="0.7"/><path d="M570.09 71.15L573.09 74.15L570.09 77.15L567.09 74.15Z" fill="#fff" stroke="#236f52" stroke-width="1.1"/><path d="M571.51 71.17V79.17" stroke="#236f52" stroke-width="0.7"/><path d="M571.51 72.17L574.51 75.17L571.51 78.17L568.51 75.17Z" fill="#fff" stroke="#236f52" stroke-width="1.1"/><path d="M572.92 69.47V77.47" stroke="#236f52" stroke-width="0.7"/><path d="M572.92 70.47L575.92 73.47L572.92 76.47L569.92 73.47Z" fill="#fff" stroke="#236f52" stroke-width="1.1"/><path d="M574.34 66.51V74.51" stroke="#236f52" stroke-width="0.7"/><path d="M574.34 67.51L577.34 70.51L574.34 73.51L571.34 70.51Z" fill="#fff" stroke="#236f52" stroke-width="1.1"/><path d="M575.76 61.57V69.57" stroke="#236f52" stroke-width="0.7"/><path d="M575.76 62.57L578.76 65.57L575.76 68.57L572.76 65.57Z" fill="#fff" stroke="#236f52" stroke-width="1.1"/><path d="M577.17 64.88V72.88" stroke="#236f52" stroke-width="0.7"/><path d="M577.17 65.88L580.17 68.88L577.17 71.88L574.17 68.88Z" fill="#fff" stroke="#236f52" stroke-width="1.1"/><path d="M578.59 67.96V75.96" stroke="#236f52" stroke-width="0.7"/><path d="M578.59 68.96L581.59 71.96L578.59 74.96L575.59 71.96Z" fill="#fff" stroke="#236f52" stroke-width="1.1"/><path d="M580 71.31V79.31" stroke="#236f52" stroke-width="0.7"/><path d="M580 72.31L583 75.31L580 78.31L577 75.31Z" fill="#fff" stroke="#236f52" stroke-width="1.1"/><path d="M581.42 71.3V79.3" stroke="#236f52" stroke-width="0.7"/><path d="M581.42 72.3L584.42 75.3L581.42 78.3L578.42 75.3Z" fill="#fff" stroke="#236f52" stroke-width="1.1"/><path d="M582.83 68.54V76.54" stroke="#236f52" stroke-width="0.7"/><path d="M582.83 69.54L585.83 72.54L582.83 75.54L579.83 72.54Z" fill="#fff" stroke="#236f52" stroke-width="1.1"/><path d="M584.25 64.27V72.27" stroke="#236f52" stroke-width="0.7"/><path d="M584.25 65.27L587.25 68.27L584.25 71.27L581.25 68.27Z" fill="#fff" stroke="#236f52" stroke-width="1.1"/><path d="M585.66 63.31V71.31" stroke="#236f52" stroke-width="0.7"/><path d="M585.66 64.31L588.66 67.31L585.66 70.31L582.66 67.31Z" fill="#fff" stroke="#236f52" stroke-width="1.1"/><path d="M587.08 65.72V73.72" stroke="#236f52" stroke-width="0.7"/><path d="M587.08 66.72L590.08 69.72L587.08 72.72L584.08 69.72Z" fill="#fff" stroke="#236f52" stroke-width="1.1"/><path d="M588.5 68.87V76.87" stroke="#236f52" stroke-width="0.7"/><path d="M588.5 69.87L591.5 72.87L588.5 75.87L585.5 72.87Z" fill="#fff" stroke="#236f52" stroke-width="1.1"/><path d="M589.91 72.67V80.67" stroke="#236f52" stroke-width="0.7"/><path d="M589.91 73.67L592.91 76.67L589.91 79.67L586.91 76.67Z" fill="#fff" stroke="#236f52" stroke-width="1.1"/><path d="M591.33 72.62V80.62" stroke="#236f52" stroke-width="0.7"/><path d="M591.33 73.62L594.33 76.62L591.33 79.62L588.33 76.62Z" fill="#fff" stroke="#236f52" stroke-width="1.1"/><path d="M592.74 68.79V76.79" stroke="#236f52" stroke-width="0.7"/><path d="M592.74 69.79L595.74 72.79L592.74 75.79L589.74 72.79Z" fill="#fff" stroke="#236f52" stroke-width="1.1"/><path d="M594.16 64.17V72.17" stroke="#236f52" stroke-width="0.7"/><path d="M594.16 65.17L597.16 68.17L594.16 71.17L591.16 68.17Z" fill="#fff" stroke="#236f52" stroke-width="1.1"/><path d="M595.57 64.31V72.31" stroke="#236f52" stroke-width="0.7"/><path d="M595.57 65.31L598.57 68.31L595.57 71.31L592.57 68.31Z" fill="#fff" stroke="#236f52" stroke-width="1.1"/><path d="M596.99 66.73V74.73" stroke="#236f52" stroke-width="0.7"/><path d="M596.99 67.73L599.99 70.73L596.99 73.73L593.99 70.73Z" fill="#fff" stroke="#236f52" stroke-width="1.1"/><path d="M598.4 71.3V79.3" stroke="#236f52" stroke-width="0.7"/><path d="M598.4 72.3L601.4 75.3L598.4 78.3L595.4 75.3Z" fill="#fff" stroke="#236f52" stroke-width="1.1"/><path d="M599.82 72.18V80.18" stroke="#236f52" stroke-width="0.7"/><path d="M599.82 73.18L602.82 76.18L599.82 79.18L596.82 76.18Z" fill="#fff" stroke="#236f52" stroke-width="1.1"/><path d="M601.23 70.46V78.46" stroke="#236f52" stroke-width="0.7"/><path d="M601.23 71.46L604.23 74.46L601.23 77.46L598.23 74.46Z" fill="#fff" stroke="#236f52" stroke-width="1.1"/><path d="M602.65 65.01V73.01" stroke="#236f52" stroke-width="0.7"/><path d="M602.65 66.01L605.65 69.01L602.65 72.01L599.65 69.01Z" fill="#fff" stroke="#236f52" stroke-width="1.1"/><path d="M604.07 64.32V72.32" stroke="#236f52" stroke-width="0.7"/><path d="M604.07 65.32L607.07 68.32L604.07 71.32L601.07 68.32Z" fill="#fff" stroke="#236f52" stroke-width="1.1"/><path d="M605.48 63.75V71.75" stroke="#236f52" stroke-width="0.7"/><path d="M605.48 64.75L608.48 67.75L605.48 70.75L602.48 67.75Z" fill="#fff" stroke="#236f52" stroke-width="1.1"/><path d="M606.9 66.04V74.04" stroke="#236f52" stroke-width="0.7"/><path d="M606.9 67.04L609.9 70.04L606.9 73.04L603.9 70.04Z" fill="#fff" stroke="#236f52" stroke-width="1.1"/><path d="M608.31 71.07V79.07" stroke="#236f52" stroke-width="0.7"/><path d="M608.31 72.07L611.31 75.07L608.31 78.07L605.31 75.07Z" fill="#fff" stroke="#236f52" stroke-width="1.1"/><path d="M609.73 72.56V80.56" stroke="#236f52" stroke-width="0.7"/><path d="M609.73 73.56L612.73 76.56L609.73 79.56L606.73 76.56Z" fill="#fff" stroke="#236f52" stroke-width="1.1"/><path d="M611.14 68.53V76.53" stroke="#236f52" stroke-width="0.7"/><path d="M611.14 69.53L614.14 72.53L611.14 75.53L608.14 72.53Z" fill="#fff" stroke="#236f52" stroke-width="1.1"/><path d="M612.56 65.74V73.74" stroke="#236f52" stroke-width="0.7"/><path d="M612.56 66.74L615.56 69.74L612.56 72.74L609.56 69.74Z" fill="#fff" stroke="#236f52" stroke-width="1.1"/><path d="M613.97 63.65V71.65" stroke="#236f52" stroke-width="0.7"/><path d="M613.97 64.65L616.97 67.65L613.97 70.65L610.97 67.65Z" fill="#fff" stroke="#236f52" stroke-width="1.1"/><path d="M615.39 64.87V72.87" stroke="#236f52" stroke-width="0.7"/><path d="M615.39 65.87L618.39 68.87L615.39 71.87L612.39 68.87Z" fill="#fff" stroke="#236f52" stroke-width="1.1"/><path d="M616.81 67.66V75.66" stroke="#236f52" stroke-width="0.7"/><path d="M616.81 68.66L619.81 71.66L616.81 74.66L613.81 71.66Z" fill="#fff" stroke="#236f52" stroke-width="1.1"/><path d="M618.22 71.4V79.4" stroke="#236f52" stroke-width="0.7"/><path d="M618.22 72.4L621.22 75.4L618.22 78.4L615.22 75.4Z" fill="#fff" stroke="#236f52" stroke-width="1.1"/><path d="M619.64 73.04V81.04" stroke="#236f52" stroke-width="0.7"/><path d="M619.64 74.04L622.64 77.04L619.64 80.04L616.64 77.04Z" fill="#fff" stroke="#236f52" stroke-width="1.1"/><path d="M621.05 69.5V77.5" stroke="#236f52" stroke-width="0.7"/><path d="M621.05 70.5L624.05 73.5L621.05 76.5L618.05 73.5Z" fill="#fff" stroke="#236f52" stroke-width="1.1"/><path d="M622.47 64.1V72.1" stroke="#236f52" stroke-width="0.7"/><path d="M622.47 65.1L625.47 68.1L622.47 71.1L619.47 68.1Z" fill="#fff" stroke="#236f52" stroke-width="1.1"/><path d="M623.88 62.24V70.24" stroke="#236f52" stroke-width="0.7"/><path d="M623.88 63.24L626.88 66.24L623.88 69.24L620.88 66.24Z" fill="#fff" stroke="#236f52" stroke-width="1.1"/><path d="M625.3 65.22V73.22" stroke="#236f52" stroke-width="0.7"/><path d="M625.3 66.22L628.3 69.22L625.3 72.22L622.3 69.22Z" fill="#fff" stroke="#236f52" stroke-width="1.1"/><path d="M626.71 68.6V76.6" stroke="#236f52" stroke-width="0.7"/><path d="M626.71 69.6L629.71 72.6L626.71 75.6L623.71 72.6Z" fill="#fff" stroke="#236f52" stroke-width="1.1"/><path d="M628.13 71.7V79.7" stroke="#236f52" stroke-width="0.7"/><path d="M628.13 72.7L631.13 75.7L628.13 78.7L625.13 75.7Z" fill="#fff" stroke="#236f52" stroke-width="1.1"/><path d="M629.55 72.76V80.76" stroke="#236f52" stroke-width="0.7"/><path d="M629.55 73.76L632.55 76.76L629.55 79.76L626.55 76.76Z" fill="#fff" stroke="#236f52" stroke-width="1.1"/><path d="M630.96 67.84V75.84" stroke="#236f52" stroke-width="0.7"/><path d="M630.96 68.84L633.96 71.84L630.96 74.84L627.96 71.84Z" fill="#fff" stroke="#236f52" stroke-width="1.1"/><path d="M632.38 63.38V71.38" stroke="#236f52" stroke-width="0.7"/><path d="M632.38 64.38L635.38 67.38L632.38 70.38L629.38 67.38Z" fill="#fff" stroke="#236f52" stroke-width="1.1"/><path d="M633.79 63.26V71.26" stroke="#236f52" stroke-width="0.7"/><path d="M633.79 64.26L636.79 67.26L633.79 70.26L630.79 67.26Z" fill="#fff" stroke="#236f52" stroke-width="1.1"/><path d="M635.21 67.32V75.32" stroke="#236f52" stroke-width="0.7"/><path d="M635.21 68.32L638.21 71.32L635.21 74.32L632.21 71.32Z" fill="#fff" stroke="#236f52" stroke-width="1.1"/><path d="M636.62 70.31V78.31" stroke="#236f52" stroke-width="0.7"/><path d="M636.62 71.31L639.62 74.31L636.62 77.31L633.62 74.31Z" fill="#fff" stroke="#236f52" stroke-width="1.1"/><path d="M638.04 71.8V79.8" stroke="#236f52" stroke-width="0.7"/><path d="M638.04 72.8L641.04 75.8L638.04 78.8L635.04 75.8Z" fill="#fff" stroke="#236f52" stroke-width="1.1"/><path d="M639.45 69.54V77.54" stroke="#236f52" stroke-width="0.7"/><path d="M639.45 70.54L642.45 73.54L639.45 76.54L636.45 73.54Z" fill="#fff" stroke="#236f52" stroke-width="1.1"/><path d="M640.87 68.03V76.03" stroke="#236f52" stroke-width="0.7"/><path d="M640.87 69.03L643.87 72.03L640.87 75.03L637.87 72.03Z" fill="#fff" stroke="#236f52" stroke-width="1.1"/><path d="M642.28 61.21V69.21" stroke="#236f52" stroke-width="0.7"/><path d="M642.28 62.21L645.28 65.21L642.28 68.21L639.28 65.21Z" fill="#fff" stroke="#236f52" stroke-width="1.1"/><path d="M643.7 64.09V72.09" stroke="#236f52" stroke-width="0.7"/><path d="M643.7 65.09L646.7 68.09L643.7 71.09L640.7 68.09Z" fill="#fff" stroke="#236f52" stroke-width="1.1"/><path d="M645.12 66.21V74.21" stroke="#236f52" stroke-width="0.7"/><path d="M645.12 67.21L648.12 70.21L645.12 73.21L642.12 70.21Z" fill="#fff" stroke="#236f52" stroke-width="1.1"/><path d="M646.53 70.12V78.12" stroke="#236f52" stroke-width="0.7"/><path d="M646.53 71.12L649.53 74.12L646.53 77.12L643.53 74.12Z" fill="#fff" stroke="#236f52" stroke-width="1.1"/><path d="M647.95 71.59V79.59" stroke="#236f52" stroke-width="0.7"/><path d="M647.95 72.59L650.95 75.59L647.95 78.59L644.95 75.59Z" fill="#fff" stroke="#236f52" stroke-width="1.1"/><path d="M649.36 69.61V77.61" stroke="#236f52" stroke-width="0.7"/><path d="M649.36 70.61L652.36 73.61L649.36 76.61L646.36 73.61Z" fill="#fff" stroke="#236f52" stroke-width="1.1"/><path d="M650.78 66.18V74.18" stroke="#236f52" stroke-width="0.7"/><path d="M650.78 67.18L653.78 70.18L650.78 73.18L647.78 70.18Z" fill="#fff" stroke="#236f52" stroke-width="1.1"/><path d="M652.19 62.3V70.3" stroke="#236f52" stroke-width="0.7"/><path d="M652.19 63.3L655.19 66.3L652.19 69.3L649.19 66.3Z" fill="#fff" stroke="#236f52" stroke-width="1.1"/><path d="M653.61 64.47V72.47" stroke="#236f52" stroke-width="0.7"/><path d="M653.61 65.47L656.61 68.47L653.61 71.47L650.61 68.47Z" fill="#fff" stroke="#236f52" stroke-width="1.1"/><path d="M655.02 69.83V77.83" stroke="#236f52" stroke-width="0.7"/><path d="M655.02 70.83L658.02 73.83L655.02 76.83L652.02 73.83Z" fill="#fff" stroke="#236f52" stroke-width="1.1"/><path d="M656.44 69.71V77.71" stroke="#236f52" stroke-width="0.7"/><path d="M656.44 70.71L659.44 73.71L656.44 76.71L653.44 73.71Z" fill="#fff" stroke="#236f52" stroke-width="1.1"/><path d="M657.86 71.46V79.46" stroke="#236f52" stroke-width="0.7"/><path d="M657.86 72.46L660.86 75.46L657.86 78.46L654.86 75.46Z" fill="#fff" stroke="#236f52" stroke-width="1.1"/><path d="M659.27 67.35V75.35" stroke="#236f52" stroke-width="0.7"/><path d="M659.27 68.35L662.27 71.35L659.27 74.35L656.27 71.35Z" fill="#fff" stroke="#236f52" stroke-width="1.1"/><path d="M660.69 65.02V73.02" stroke="#236f52" stroke-width="0.7"/><path d="M660.69 66.02L663.69 69.02L660.69 72.02L657.69 69.02Z" fill="#fff" stroke="#236f52" stroke-width="1.1"/><path d="M662.1 61.64V69.64" stroke="#236f52" stroke-width="0.7"/><path d="M662.1 62.64L665.1 65.64L662.1 68.64L659.1 65.64Z" fill="#fff" stroke="#236f52" stroke-width="1.1"/><path d="M663.52 63.75V71.75" stroke="#236f52" stroke-width="0.7"/><path d="M663.52 64.75L666.52 67.75L663.52 70.75L660.52 67.75Z" fill="#fff" stroke="#236f52" stroke-width="1.1"/><path d="M664.93 68.1V76.1" stroke="#236f52" stroke-width="0.7"/><path d="M664.93 69.1L667.93 72.1L664.93 75.1L661.93 72.1Z" fill="#fff" stroke="#236f52" stroke-width="1.1"/><path d="M666.35 72.17V80.17" stroke="#236f52" stroke-width="0.7"/><path d="M666.35 73.17L669.35 76.17L666.35 79.17L663.35 76.17Z" fill="#fff" stroke="#236f52" stroke-width="1.1"/><path d="M667.76 72.21V80.21" stroke="#236f52" stroke-width="0.7"/><path d="M667.76 73.21L670.76 76.21L667.76 79.21L664.76 76.21Z" fill="#fff" stroke="#236f52" stroke-width="1.1"/><path d="M669.18 67.59V75.59" stroke="#236f52" stroke-width="0.7"/><path d="M669.18 68.59L672.18 71.59L669.18 74.59L666.18 71.59Z" fill="#fff" stroke="#236f52" stroke-width="1.1"/><path d="M670.6 65.12V73.12" stroke="#236f52" stroke-width="0.7"/><path d="M670.6 66.12L673.6 69.12L670.6 72.12L667.6 69.12Z" fill="#fff" stroke="#236f52" stroke-width="1.1"/><path d="M672.01 64.06V72.06" stroke="#236f52" stroke-width="0.7"/><path d="M672.01 65.06L675.01 68.06L672.01 71.06L669.01 68.06Z" fill="#fff" stroke="#236f52" stroke-width="1.1"/><path d="M673.43 65.84V73.84" stroke="#236f52" stroke-width="0.7"/><path d="M673.43 66.84L676.43 69.84L673.43 72.84L670.43 69.84Z" fill="#fff" stroke="#236f52" stroke-width="1.1"/><path d="M674.84 70.91V78.91" stroke="#236f52" stroke-width="0.7"/><path d="M674.84 71.91L677.84 74.91L674.84 77.91L671.84 74.91Z" fill="#fff" stroke="#236f52" stroke-width="1.1"/></g><g clip-path="url(#c03)"><path d="M48.03 287.18L48.69 287.18L49.35 287.18L50 287.18L50.66 287.18L51.32 287.18L51.97 287.18L52.63 287.18L53.29 287.18L53.95 287.18L54.6 287.18L55.26 287.18L55.92 287.18L56.58 287.18L57.23 287.18L57.89 287.18L58.55 287.18L59.21 287.18L59.86 287.18L60.52 287.18L61.18 287.18L61.83 287.18L62.49 287.18L63.15 287.18L63.81 287.18L64.46 287.18L65.12 287.18L65.78 287.18L66.44 287.18L67.09 287.18L67.75 287.19L68.41 287.19L69.06 287.19L69.72 287.19L70.38 287.19L71.04 287.19L71.69 287.2L72.35 287.2L73.01 287.21L73.67 287.21L74.32 287.22L74.98 287.23L75.64 287.24L76.3 287.25L76.95 287.27L77.61 287.29L78.27 287.31L78.92 287.33L79.58 287.35L80.24 287.38L80.9 287.42L81.55 287.45L82.21 287.49L82.87 287.53L83.53 287.58L84.18 287.64L84.84 287.69L85.5 287.75L86.16 287.82L86.81 287.89L87.47 287.97L88.13 288.05L88.78 288.14L89.44 288.24L90.1 288.34L90.76 288.44L91.41 288.55L92.07 288.67L92.73 288.8L93.39 288.93L94.04 289.07L94.7 289.21L95.36 289.36L96.01 289.52L96.67 289.68L97.33 289.85L97.99 290.03L98.64 290.22L99.3 290.41L99.96 290.61L100.62 290.81L101.27 291.02L101.93 291.24L102.59 291.47L103.25 291.7L103.9 291.94L104.56 292.19L105.22 292.44L105.87 292.7L106.53 292.97L107.19 293.25L107.85 293.53L108.5 293.81L109.16 294.11L109.82 294.41L110.48 294.72L111.13 295.03L111.79 295.35L112.45 295.68L113.1 296.01L113.76 296.35L114.42 296.7L115.08 297.05L115.73 297.41L116.39 297.78L117.05 298.15L117.71 298.53L118.36 298.92L119.02 299.31L119.68 299.7L120.34 300.11L120.99 300.51L121.65 300.93L122.31 301.35L122.96 301.78L123.62 302.21L124.28 302.65L124.94 303.09L125.59 303.54L126.25 304L126.91 304.46L127.57 304.93L128.22 305.4L128.88 305.88L129.54 306.36L130.19 306.85L130.85 307.34L131.51 307.84L132.17 308.35L132.82 308.86L133.48 309.38L134.14 309.9L134.8 310.43L135.45 310.96L136.11 311.5L136.77 312.05L137.43 312.59L138.08 313.15L138.74 313.71L139.4 314.28L140.05 314.85L140.71 315.42L141.37 316L142.03 316.59L142.68 317.19L143.34 317.78L144 318.39L144.66 319L145.31 319.61L145.97 320.23L146.63 320.86L147.28 321.49L147.94 322.12L148.6 322.77L149.26 323.41L149.91 324.07L150.57 324.73L151.23 325.39L151.89 326.06L152.54 326.74L153.2 327.42L153.86 328.11L154.52 328.8L155.17 329.5L155.83 330.21L156.49 330.92L157.14 331.63L157.8 332.36L158.46 333.09L159.12 333.82L159.77 334.56L160.43 335.31L161.09 336.06L161.75 336.82L162.4 337.59L163.06 338.36L163.72 339.14L164.37 339.93L165.03 340.72L165.69 341.52L166.35 342.32L167 343.13L167.66 343.95L168.32 344.78L168.98 345.61L169.63 346.44L170.29 347.29L170.95 348.14L171.61 348.99L172.26 349.86L172.92 350.73L173.58 351.6L174.23 352.48L174.89 353.37L175.55 354.26L176.21 355.16L176.86 356.05L177.52 356.96L178.18 357.86L178.84 358.75L178.97 358.92L244.5 358.92" fill="none" stroke="#cc0000" stroke-width="1.4"/><rect x="47.3" y="283.3" width="6.2" height="6.2" fill="#cc0000" stroke="#cc0000" stroke-width="0"/><rect x="49.5" y="282.9" width="6.2" height="6.2" fill="#cc0000" stroke="#cc0000" stroke-width="0"/><rect x="52.8" y="285.8" width="6.2" height="6.2" fill="#cc0000" stroke="#cc0000" stroke-width="0"/><rect x="61.9" y="282.9" width="6.2" height="6.2" fill="#cc0000" stroke="#cc0000" stroke-width="0"/><rect x="78.7" y="284.7" width="6.2" height="6.2" fill="#cc0000" stroke="#cc0000" stroke-width="0"/><rect x="96.2" y="287.2" width="6.2" height="6.2" fill="#cc0000" stroke="#cc0000" stroke-width="0"/><rect x="113.3" y="293.1" width="6.2" height="6.2" fill="#cc0000" stroke="#cc0000" stroke-width="0"/><rect x="124.7" y="301.8" width="6.2" height="6.2" fill="#cc0000" stroke="#cc0000" stroke-width="0"/><rect x="136.2" y="312.8" width="6.2" height="6.2" fill="#cc0000" stroke="#cc0000" stroke-width="0"/><rect x="146.7" y="325.1" width="6.2" height="6.2" fill="#cc0000" stroke="#cc0000" stroke-width="0"/><rect x="158.8" y="338" width="6.2" height="6.2" fill="#cc0000" stroke="#cc0000" stroke-width="0"/><rect x="165" y="345.6" width="6.2" height="6.2" fill="#cc0000" stroke="#cc0000" stroke-width="0"/><rect x="170.9" y="351" width="6.2" height="6.2" fill="#cc0000" stroke="#cc0000" stroke-width="0"/><rect x="176.4" y="353.6" width="6.2" height="6.2" fill="#cc0000" stroke="#cc0000" stroke-width="0"/><rect x="182" y="356.2" width="6.2" height="6.2" fill="#cc0000" stroke="#cc0000" stroke-width="0"/><rect x="216.7" y="356" width="6.2" height="6.2" fill="#cc0000" stroke="#cc0000" stroke-width="0"/></g><g clip-path="url(#c13)"><path d="M263.53 287.18L264.19 287.18L264.85 287.18L265.5 287.18L266.16 287.18L266.82 287.18L267.47 287.18L268.13 287.18L268.79 287.18L269.45 287.18L270.1 287.18L270.76 287.18L271.42 287.18L272.08 287.18L272.73 287.18L273.39 287.18L274.05 287.18L274.71 287.18L275.36 287.18L276.02 287.18L276.68 287.18L277.33 287.18L277.99 287.18L278.65 287.18L279.31 287.18L279.96 287.18L280.62 287.18L281.28 287.18L281.94 287.19L282.59 287.19L283.25 287.19L283.91 287.19L284.56 287.19L285.22 287.2L285.88 287.2L286.54 287.21L287.19 287.21L287.85 287.22L288.51 287.23L289.17 287.24L289.82 287.26L290.48 287.28L291.14 287.3L291.8 287.32L292.45 287.34L293.11 287.37L293.77 287.41L294.42 287.45L295.08 287.49L295.74 287.54L296.4 287.59L297.05 287.65L297.71 287.71L298.37 287.78L299.03 287.85L299.68 287.93L300.34 288.02L301 288.11L301.66 288.21L302.31 288.31L302.97 288.42L303.63 288.54L304.28 288.67L304.94 288.8L305.6 288.94L306.26 289.09L306.91 289.25L307.57 289.41L308.23 289.58L308.89 289.76L309.54 289.94L310.2 290.14L310.86 290.34L311.51 290.54L312.17 290.76L312.83 290.98L313.49 291.21L314.14 291.45L314.8 291.69L315.46 291.95L316.12 292.21L316.77 292.47L317.43 292.75L318.09 293.03L318.75 293.32L319.4 293.61L320.06 293.91L320.72 294.22L321.37 294.54L322.03 294.86L322.69 295.19L323.35 295.53L324 295.87L324.66 296.22L325.32 296.58L325.98 296.94L326.63 297.3L327.29 297.68L327.95 298.06L328.6 298.44L329.26 298.84L329.92 299.23L330.58 299.64L331.23 300.05L331.89 300.46L332.55 300.88L333.21 301.3L333.86 301.73L334.52 302.17L335.18 302.61L335.84 303.06L336.49 303.51L337.15 303.96L337.81 304.42L338.46 304.89L339.12 305.36L339.78 305.83L340.44 306.31L341.09 306.8L341.75 307.28L342.41 307.78L343.07 308.27L343.72 308.78L344.38 309.28L345.04 309.79L345.69 310.31L346.35 310.82L347.01 311.35L347.67 311.87L348.32 312.4L348.98 312.94L349.64 313.48L350.3 314.02L350.95 314.56L351.61 315.11L352.27 315.67L352.93 316.23L353.58 316.79L354.24 317.35L354.9 317.92L355.55 318.49L356.21 319.07L356.87 319.65L357.53 320.23L358.18 320.82L358.84 321.41L359.5 322.01L360.16 322.61L360.81 323.21L361.47 323.81L362.13 324.42L362.78 325.04L363.44 325.65L364.1 326.27L364.76 326.9L365.41 327.52L366.07 328.15L366.73 328.79L367.39 329.43L368.04 330.07L368.7 330.72L369.36 331.37L370.02 332.02L370.67 332.68L371.33 333.34L371.99 334L372.64 334.67L373.3 335.34L373.96 336.02L374.62 336.7L375.27 337.38L375.93 338.07L376.59 338.76L377.25 339.45L377.9 340.15L378.56 340.85L379.22 341.56L379.87 342.27L380.53 342.99L381.19 343.7L381.85 344.43L382.5 345.15L383.16 345.88L383.82 346.62L384.48 347.35L385.13 348.09L385.79 348.84L386.45 349.59L387.11 350.34L387.76 351.1L388.42 351.86L389.08 352.62L389.73 353.38L390.39 354.15L391.05 354.92L391.71 355.69L392.36 356.47L393.02 357.24L393.68 358.01L394.34 358.77L394.47 358.92L460 358.92" fill="none" stroke="#0066b3" stroke-width="1.4"/><circle cx="264.4" cy="286" r="3.3" fill="#0066b3" stroke="#0066b3" stroke-width="0"/><circle cx="266.6" cy="287.9" r="3.3" fill="#0066b3" stroke="#0066b3" stroke-width="0"/><circle cx="273.1" cy="287.9" r="3.3" fill="#0066b3" stroke="#0066b3" stroke-width="0"/><circle cx="281.2" cy="286.8" r="3.3" fill="#0066b3" stroke="#0066b3" stroke-width="0"/><circle cx="290.7" cy="287.5" r="3.3" fill="#0066b3" stroke="#0066b3" stroke-width="0"/><circle cx="310.8" cy="294.4" r="3.3" fill="#0066b3" stroke="#0066b3" stroke-width="0"/><circle cx="326.4" cy="299.6" r="3.3" fill="#0066b3" stroke="#0066b3" stroke-width="0"/><circle cx="342.9" cy="309.8" r="3.3" fill="#0066b3" stroke="#0066b3" stroke-width="0"/><circle cx="362.6" cy="326.9" r="3.3" fill="#0066b3" stroke="#0066b3" stroke-width="0"/><circle cx="370.2" cy="333.6" r="3.3" fill="#0066b3" stroke="#0066b3" stroke-width="0"/><circle cx="378.6" cy="340.3" r="3.3" fill="#0066b3" stroke="#0066b3" stroke-width="0"/><circle cx="386.6" cy="349.5" r="3.3" fill="#0066b3" stroke="#0066b3" stroke-width="0"/><circle cx="390" cy="354.1" r="3.3" fill="#0066b3" stroke="#0066b3" stroke-width="0"/><circle cx="394" cy="358.8" r="3.3" fill="#0066b3" stroke="#0066b3" stroke-width="0"/><circle cx="398.4" cy="359.1" r="3.3" fill="#0066b3" stroke="#0066b3" stroke-width="0"/><circle cx="402.9" cy="359.1" r="3.3" fill="#0066b3" stroke="#0066b3" stroke-width="0"/><circle cx="406.8" cy="359.1" r="3.3" fill="#0066b3" stroke="#0066b3" stroke-width="0"/><circle cx="414.2" cy="359.1" r="3.3" fill="#0066b3" stroke="#0066b3" stroke-width="0"/><circle cx="442" cy="359.1" r="3.3" fill="#0066b3" stroke="#0066b3" stroke-width="0"/></g><g clip-path="url(#c23)"><path d="M479.63 287.18L480.29 287.18L480.95 287.18L481.6 287.18L482.26 287.18L482.92 287.18L483.57 287.18L484.23 287.18L484.89 287.18L485.55 287.18L486.2 287.18L486.86 287.18L487.52 287.18L488.18 287.18L488.83 287.18L489.49 287.18L490.15 287.18L490.81 287.18L491.46 287.18L492.12 287.18L492.78 287.18L493.43 287.18L494.09 287.18L494.75 287.18L495.41 287.18L496.06 287.18L496.72 287.18L497.38 287.18L498.04 287.18L498.69 287.18L499.35 287.18L500.01 287.18L500.66 287.18L501.32 287.19L501.98 287.19L502.64 287.19L503.29 287.19L503.95 287.19L504.61 287.19L505.27 287.2L505.92 287.2L506.58 287.21L507.24 287.21L507.9 287.22L508.55 287.23L509.21 287.24L509.87 287.25L510.52 287.26L511.18 287.28L511.84 287.3L512.5 287.32L513.15 287.34L513.81 287.36L514.47 287.39L515.13 287.42L515.78 287.46L516.44 287.49L517.1 287.53L517.76 287.58L518.41 287.63L519.07 287.68L519.73 287.74L520.38 287.8L521.04 287.86L521.7 287.94L522.36 288.01L523.01 288.09L523.67 288.18L524.33 288.27L524.99 288.36L525.64 288.46L526.3 288.57L526.96 288.68L527.61 288.8L528.27 288.93L528.93 289.05L529.59 289.19L530.24 289.33L530.9 289.48L531.56 289.63L532.22 289.8L532.87 289.96L533.53 290.13L534.19 290.31L534.85 290.5L535.5 290.69L536.16 290.89L536.82 291.1L537.47 291.31L538.13 291.53L538.79 291.75L539.45 291.98L540.1 292.22L540.76 292.47L541.42 292.72L542.08 292.98L542.73 293.24L543.39 293.51L544.05 293.79L544.7 294.08L545.36 294.37L546.02 294.67L546.68 294.97L547.33 295.28L547.99 295.6L548.65 295.93L549.31 296.26L549.96 296.6L550.62 296.94L551.28 297.29L551.94 297.65L552.59 298.02L553.25 298.39L553.91 298.77L554.56 299.15L555.22 299.54L555.88 299.94L556.54 300.35L557.19 300.76L557.85 301.18L558.51 301.6L559.17 302.03L559.82 302.47L560.48 302.92L561.14 303.37L561.79 303.82L562.45 304.29L563.11 304.76L563.77 305.24L564.42 305.72L565.08 306.22L565.74 306.71L566.4 307.22L567.05 307.73L567.71 308.25L568.37 308.77L569.03 309.31L569.68 309.85L570.34 310.39L571 310.94L571.65 311.5L572.31 312.07L572.97 312.64L573.63 313.22L574.28 313.81L574.94 314.41L575.6 315.01L576.26 315.62L576.91 316.24L577.57 316.86L578.23 317.49L578.88 318.13L579.54 318.78L580.2 319.43L580.86 320.09L581.51 320.76L582.17 321.44L582.83 322.12L583.49 322.81L584.14 323.51L584.8 324.22L585.46 324.94L586.12 325.66L586.77 326.39L587.43 327.13L588.09 327.88L588.74 328.64L589.4 329.4L590.06 330.18L590.72 330.96L591.37 331.75L592.03 332.55L592.69 333.36L593.35 334.18L594 335.01L594.66 335.84L595.32 336.69L595.97 337.55L596.63 338.41L597.29 339.28L597.95 340.17L598.6 341.06L599.26 341.96L599.92 342.88L600.58 343.8L601.23 344.73L601.89 345.67L602.55 346.62L603.21 347.59L603.86 348.56L604.52 349.54L605.18 350.53L605.83 351.53L606.49 352.54L607.15 353.55L607.81 354.58L608.46 355.61L609.12 356.65L609.78 357.69L610.44 358.72L610.57 358.92L676.1 358.92" fill="none" stroke="#02603f" stroke-width="1.4"/><path d="M481.5 281.2L485.8 285.5L481.5 289.8L477.2 285.5Z" fill="#02603f" stroke="#02603f" stroke-width="0"/><path d="M483.5 280.9L487.8 285.2L483.5 289.5L479.2 285.2Z" fill="#02603f" stroke="#02603f" stroke-width="0"/><path d="M485.5 282L489.8 286.3L485.5 290.6L481.2 286.3Z" fill="#02603f" stroke="#02603f" stroke-width="0"/><path d="M487.5 281L491.8 285.3L487.5 289.6L483.2 285.3Z" fill="#02603f" stroke="#02603f" stroke-width="0"/><path d="M489.5 281.7L493.8 286L489.5 290.3L485.2 286Z" fill="#02603f" stroke="#02603f" stroke-width="0"/><path d="M491.5 281.1L495.8 285.4L491.5 289.7L487.2 285.4Z" fill="#02603f" stroke="#02603f" stroke-width="0"/><path d="M493.5 282.1L497.8 286.4L493.5 290.7L489.2 286.4Z" fill="#02603f" stroke="#02603f" stroke-width="0"/><path d="M495.5 281.3L499.8 285.6L495.5 289.9L491.2 285.6Z" fill="#02603f" stroke="#02603f" stroke-width="0"/><path d="M497.5 281.9L501.8 286.2L497.5 290.5L493.2 286.2Z" fill="#02603f" stroke="#02603f" stroke-width="0"/><path d="M499.5 281.2L503.8 285.5L499.5 289.8L495.2 285.5Z" fill="#02603f" stroke="#02603f" stroke-width="0"/><path d="M501.5 282L505.8 286.3L501.5 290.6L497.2 286.3Z" fill="#02603f" stroke="#02603f" stroke-width="0"/><path d="M504.5 281.5L508.8 285.8L504.5 290.1L500.2 285.8Z" fill="#02603f" stroke="#02603f" stroke-width="0"/><path d="M507.5 282.2L511.8 286.5L507.5 290.8L503.2 286.5Z" fill="#02603f" stroke="#02603f" stroke-width="0"/><path d="M510.5 281.6L514.8 285.9L510.5 290.2L506.2 285.9Z" fill="#02603f" stroke="#02603f" stroke-width="0"/><path d="M513.5 282.5L517.8 286.8L513.5 291.1L509.2 286.8Z" fill="#02603f" stroke="#02603f" stroke-width="0"/><path d="M516.5 281.7L520.8 286L516.5 290.3L512.2 286Z" fill="#02603f" stroke="#02603f" stroke-width="0"/><path d="M518 282.5L522.3 286.8L518 291.1L513.7 286.8Z" fill="#02603f" stroke="#02603f" stroke-width="0"/><path d="M529.3 285.1L533.6 289.4L529.3 293.7L525 289.4Z" fill="#02603f" stroke="#02603f" stroke-width="0"/><path d="M537.3 285.4L541.6 289.7L537.3 294L533 289.7Z" fill="#02603f" stroke="#02603f" stroke-width="0"/><path d="M542.4 286.1L546.7 290.4L542.4 294.7L538.1 290.4Z" fill="#02603f" stroke="#02603f" stroke-width="0"/><path d="M550.5 290.5L554.8 294.8L550.5 299.1L546.2 294.8Z" fill="#02603f" stroke="#02603f" stroke-width="0"/><path d="M555.6 291.5L559.9 295.8L555.6 300.1L551.3 295.8Z" fill="#02603f" stroke="#02603f" stroke-width="0"/><path d="M558.5 296.3L562.8 300.6L558.5 304.9L554.2 300.6Z" fill="#02603f" stroke="#02603f" stroke-width="0"/><path d="M563.4 300.8L567.7 305.1L563.4 309.4L559.1 305.1Z" fill="#02603f" stroke="#02603f" stroke-width="0"/><path d="M566.8 303.3L571.1 307.6L566.8 311.9L562.5 307.6Z" fill="#02603f" stroke="#02603f" stroke-width="0"/><path d="M576.1 311.8L580.4 316.1L576.1 320.4L571.8 316.1Z" fill="#02603f" stroke="#02603f" stroke-width="0"/><path d="M578.6 312.3L582.9 316.6L578.6 320.9L574.3 316.6Z" fill="#02603f" stroke="#02603f" stroke-width="0"/><path d="M584.6 322.8L588.9 327.1L584.6 331.4L580.3 327.1Z" fill="#02603f" stroke="#02603f" stroke-width="0"/><path d="M594.7 335.5L599 339.8L594.7 344.1L590.4 339.8Z" fill="#02603f" stroke="#02603f" stroke-width="0"/><path d="M604.9 344.5L609.2 348.8L604.9 353.1L600.6 348.8Z" fill="#02603f" stroke="#02603f" stroke-width="0"/><path d="M613.9 350.2L618.2 354.5L613.9 358.8L609.6 354.5Z" fill="#02603f" stroke="#02603f" stroke-width="0"/><path d="M618.4 354.1L622.7 358.4L618.4 362.7L614.1 358.4Z" fill="#02603f" stroke="#02603f" stroke-width="0"/><path d="M623.5 354.1L627.8 358.4L623.5 362.7L619.2 358.4Z" fill="#02603f" stroke="#02603f" stroke-width="0"/><path d="M627.7 354.1L632 358.4L627.7 362.7L623.4 358.4Z" fill="#02603f" stroke="#02603f" stroke-width="0"/><path d="M637.1 354.1L641.4 358.4L637.1 362.7L632.8 358.4Z" fill="#02603f" stroke="#02603f" stroke-width="0"/><path d="M646.7 354.1L651 358.4L646.7 362.7L642.4 358.4Z" fill="#02603f" stroke="#02603f" stroke-width="0"/><path d="M656 354.1L660.3 358.4L656 362.7L651.7 358.4Z" fill="#02603f" stroke="#02603f" stroke-width="0"/><path d="M665.3 354.1L669.6 358.4L665.3 362.7L661 358.4Z" fill="#02603f" stroke="#02603f" stroke-width="0"/></g><path d="M47.9 177.19H244.5" stroke="#a8a8a8" stroke-width="1"/><path d="M263.4 177.19H460" stroke="#a8a8a8" stroke-width="1"/><path d="M479.5 177.19H676.1" stroke="#808080" stroke-width="0.8"/><rect x="58" y="170" width="14" height="14" fill="#fff"/><rect x="274" y="170" width="14" height="14" fill="#fff"/><rect x="491.7" y="170" width="10" height="14" fill="#fff"/><path d="M50.4 213.2V215.2" stroke="#d42a2a" stroke-width="1"/><rect x="47.8" y="211.6" width="5.2" height="5.2" fill="#fff" stroke="#d42a2a" stroke-width="1.25"/><path d="M50.4 213.4V215" stroke="#d42a2a" stroke-width="1"/><path d="M51.4 212.2V214.2" stroke="#d42a2a" stroke-width="1"/><rect x="48.8" y="210.6" width="5.2" height="5.2" fill="#fff" stroke="#d42a2a" stroke-width="1.25"/><path d="M51.4 212.4V214" stroke="#d42a2a" stroke-width="1"/><path d="M52.4 213.8V215.8" stroke="#d42a2a" stroke-width="1"/><rect x="49.8" y="212.2" width="5.2" height="5.2" fill="#fff" stroke="#d42a2a" stroke-width="1.25"/><path d="M52.4 214V215.6" stroke="#d42a2a" stroke-width="1"/><path d="M55.7 216V218" stroke="#d42a2a" stroke-width="1"/><rect x="53.1" y="214.4" width="5.2" height="5.2" fill="#fff" stroke="#d42a2a" stroke-width="1.25"/><path d="M55.7 216.2V217.8" stroke="#d42a2a" stroke-width="1"/><path d="M65 214.9V216.9" stroke="#d42a2a" stroke-width="1"/><rect x="62.4" y="213.3" width="5.2" height="5.2" fill="#fff" stroke="#d42a2a" stroke-width="1.25"/><path d="M65 215.1V216.7" stroke="#d42a2a" stroke-width="1"/><path d="M81.7 214.9V216.9" stroke="#d42a2a" stroke-width="1"/><rect x="79.1" y="213.3" width="5.2" height="5.2" fill="#fff" stroke="#d42a2a" stroke-width="1.25"/><path d="M81.7 215.1V216.7" stroke="#d42a2a" stroke-width="1"/><path d="M99 212.7V214.7" stroke="#d42a2a" stroke-width="1"/><rect x="96.4" y="211.1" width="5.2" height="5.2" fill="#fff" stroke="#d42a2a" stroke-width="1.25"/><path d="M99 212.9V214.5" stroke="#d42a2a" stroke-width="1"/><path d="M116.5 207.2V210.2" stroke="#d42a2a" stroke-width="1"/><rect x="113.9" y="206.1" width="5.2" height="5.2" fill="#fff" stroke="#d42a2a" stroke-width="1.25"/><path d="M116.5 207.9V209.5" stroke="#d42a2a" stroke-width="1"/><path d="M127.9 203.6V207.6" stroke="#d42a2a" stroke-width="1"/><rect x="125.3" y="203" width="5.2" height="5.2" fill="#fff" stroke="#d42a2a" stroke-width="1.25"/><path d="M127.9 204.8V206.4" stroke="#d42a2a" stroke-width="1"/><path d="M139.5 200.3V205.3" stroke="#d42a2a" stroke-width="1"/><rect x="136.9" y="200.2" width="5.2" height="5.2" fill="#fff" stroke="#d42a2a" stroke-width="1.25"/><path d="M139.5 202V203.6" stroke="#d42a2a" stroke-width="1"/><path d="M150 185.1V193.1" stroke="#d42a2a" stroke-width="1"/><rect x="147.4" y="186.5" width="5.2" height="5.2" fill="#fff" stroke="#d42a2a" stroke-width="1.25"/><path d="M150 188.3V189.9" stroke="#d42a2a" stroke-width="1"/><path d="M162.2 180.4V192.4" stroke="#d42a2a" stroke-width="1"/><rect x="159.6" y="183.8" width="5.2" height="5.2" fill="#fff" stroke="#d42a2a" stroke-width="1.25"/><path d="M162.2 185.6V187.2" stroke="#d42a2a" stroke-width="1"/><path d="M168 175.5V190.5" stroke="#d42a2a" stroke-width="1"/><rect x="165.4" y="180.4" width="5.2" height="5.2" fill="#fff" stroke="#d42a2a" stroke-width="1.25"/><path d="M168 182.2V183.8" stroke="#d42a2a" stroke-width="1"/><path d="M173.7 168.7V189.7" stroke="#d42a2a" stroke-width="1"/><rect x="171.1" y="176.6" width="5.2" height="5.2" fill="#fff" stroke="#d42a2a" stroke-width="1.25"/><path d="M173.7 178.4V180" stroke="#d42a2a" stroke-width="1"/><path d="M179.5 171.9V181.9" stroke="#d42a2a" stroke-width="1"/><rect x="176.9" y="174.3" width="5.2" height="5.2" fill="#fff" stroke="#d42a2a" stroke-width="1.25"/><path d="M179.5 176.1V177.7" stroke="#d42a2a" stroke-width="1"/><path d="M185.2 168.6V183.6" stroke="#d42a2a" stroke-width="1"/><rect x="182.6" y="173.5" width="5.2" height="5.2" fill="#fff" stroke="#d42a2a" stroke-width="1.25"/><path d="M185.2 175.3V176.9" stroke="#d42a2a" stroke-width="1"/><path d="M196.7 168.9V184.9" stroke="#d42a2a" stroke-width="1"/><rect x="194.1" y="174.3" width="5.2" height="5.2" fill="#fff" stroke="#d42a2a" stroke-width="1.25"/><path d="M196.7 176.1V177.7" stroke="#d42a2a" stroke-width="1"/><path d="M219.7 170.9V182.9" stroke="#d42a2a" stroke-width="1"/><rect x="217.1" y="174.3" width="5.2" height="5.2" fill="#fff" stroke="#d42a2a" stroke-width="1.25"/><path d="M219.7 176.1V177.7" stroke="#d42a2a" stroke-width="1"/><circle cx="263.9" cy="213.7" r="2.9" fill="#fff" stroke="#2a7fbf" stroke-width="1.1"/><path d="M263.9 211.9V215.5" stroke="#2a7fbf" stroke-width="0.9"/><circle cx="265.5" cy="208.3" r="2.9" fill="#fff" stroke="#2a7fbf" stroke-width="1.1"/><path d="M265.5 206.5V210.1" stroke="#2a7fbf" stroke-width="0.9"/><circle cx="267" cy="205.6" r="2.9" fill="#fff" stroke="#2a7fbf" stroke-width="1.1"/><path d="M267 203.8V207.4" stroke="#2a7fbf" stroke-width="0.9"/><circle cx="273.2" cy="210.6" r="2.9" fill="#fff" stroke="#2a7fbf" stroke-width="1.1"/><path d="M273.2 208.8V212.4" stroke="#2a7fbf" stroke-width="0.9"/><circle cx="281.3" cy="206.4" r="2.9" fill="#fff" stroke="#2a7fbf" stroke-width="1.1"/><path d="M281.3 204.6V208.2" stroke="#2a7fbf" stroke-width="0.9"/><circle cx="291.2" cy="207.5" r="2.9" fill="#fff" stroke="#2a7fbf" stroke-width="1.1"/><path d="M291.2 205.7V209.3" stroke="#2a7fbf" stroke-width="0.9"/><circle cx="310.9" cy="213" r="2.9" fill="#fff" stroke="#2a7fbf" stroke-width="1.1"/><path d="M310.9 211.2V214.8" stroke="#2a7fbf" stroke-width="0.9"/><circle cx="326.7" cy="204.7" r="2.9" fill="#fff" stroke="#2a7fbf" stroke-width="1.1"/><path d="M326.7 202.9V206.5" stroke="#2a7fbf" stroke-width="0.9"/><circle cx="342.9" cy="195.5" r="2.9" fill="#fff" stroke="#2a7fbf" stroke-width="1.1"/><path d="M342.9 193.7V197.3" stroke="#2a7fbf" stroke-width="0.9"/><circle cx="362.5" cy="183.1" r="2.9" fill="#fff" stroke="#2a7fbf" stroke-width="1.1"/><path d="M362.5 181.3V184.9" stroke="#2a7fbf" stroke-width="0.9"/><circle cx="370.4" cy="180.3" r="2.9" fill="#fff" stroke="#2a7fbf" stroke-width="1.1"/><path d="M370.4 178.5V182.1" stroke="#2a7fbf" stroke-width="0.9"/><circle cx="378.4" cy="178.2" r="2.9" fill="#fff" stroke="#2a7fbf" stroke-width="1.1"/><path d="M378.4 176.4V180" stroke="#2a7fbf" stroke-width="0.9"/><circle cx="386.1" cy="177" r="2.9" fill="#fff" stroke="#2a7fbf" stroke-width="1.1"/><path d="M386.1 175.2V178.8" stroke="#2a7fbf" stroke-width="0.9"/><circle cx="390.1" cy="177" r="2.9" fill="#fff" stroke="#2a7fbf" stroke-width="1.1"/><path d="M390.1 175.2V178.8" stroke="#2a7fbf" stroke-width="0.9"/><circle cx="394.2" cy="177" r="2.9" fill="#fff" stroke="#2a7fbf" stroke-width="1.1"/><path d="M394.2 175.2V178.8" stroke="#2a7fbf" stroke-width="0.9"/><circle cx="398.2" cy="177" r="2.9" fill="#fff" stroke="#2a7fbf" stroke-width="1.1"/><path d="M398.2 175.2V178.8" stroke="#2a7fbf" stroke-width="0.9"/><circle cx="402.2" cy="177" r="2.9" fill="#fff" stroke="#2a7fbf" stroke-width="1.1"/><path d="M402.2 175.2V178.8" stroke="#2a7fbf" stroke-width="0.9"/><circle cx="406.2" cy="177" r="2.9" fill="#fff" stroke="#2a7fbf" stroke-width="1.1"/><path d="M406.2 175.2V178.8" stroke="#2a7fbf" stroke-width="0.9"/><circle cx="414.2" cy="177" r="2.9" fill="#fff" stroke="#2a7fbf" stroke-width="1.1"/><path d="M414.2 175.2V178.8" stroke="#2a7fbf" stroke-width="0.9"/><circle cx="442" cy="177" r="2.9" fill="#fff" stroke="#2a7fbf" stroke-width="1.1"/><path d="M442 175.2V178.8" stroke="#2a7fbf" stroke-width="0.9"/><path d="M481.8 256.8L485.8 260.8L481.8 264.8L477.8 260.8Z" fill="#fff" stroke="#1f6e4e" stroke-width="1.1"/><path d="M481.8 259V262.6" stroke="#1f6e4e" stroke-width="0.9"/><path d="M482.6 251.7L486.6 255.7L482.6 259.7L478.6 255.7Z" fill="#fff" stroke="#1f6e4e" stroke-width="1.1"/><path d="M482.6 253.9V257.5" stroke="#1f6e4e" stroke-width="0.9"/><path d="M484.3 250.3L488.3 254.3L484.3 258.3L480.3 254.3Z" fill="#fff" stroke="#1f6e4e" stroke-width="1.1"/><path d="M484.3 252.5V256.1" stroke="#1f6e4e" stroke-width="0.9"/><path d="M486.3 250.6L490.3 254.6L486.3 258.6L482.3 254.6Z" fill="#fff" stroke="#1f6e4e" stroke-width="1.1"/><path d="M486.3 252.8V256.4" stroke="#1f6e4e" stroke-width="0.9"/><path d="M488.3 250.2L492.3 254.2L488.3 258.2L484.3 254.2Z" fill="#fff" stroke="#1f6e4e" stroke-width="1.1"/><path d="M488.3 252.4V256" stroke="#1f6e4e" stroke-width="0.9"/><path d="M490.3 250.5L494.3 254.5L490.3 258.5L486.3 254.5Z" fill="#fff" stroke="#1f6e4e" stroke-width="1.1"/><path d="M490.3 252.7V256.3" stroke="#1f6e4e" stroke-width="0.9"/><path d="M492.3 250.3L496.3 254.3L492.3 258.3L488.3 254.3Z" fill="#fff" stroke="#1f6e4e" stroke-width="1.1"/><path d="M492.3 252.5V256.1" stroke="#1f6e4e" stroke-width="0.9"/><path d="M494.3 250.6L498.3 254.6L494.3 258.6L490.3 254.6Z" fill="#fff" stroke="#1f6e4e" stroke-width="1.1"/><path d="M494.3 252.8V256.4" stroke="#1f6e4e" stroke-width="0.9"/><path d="M496 250.4L500 254.4L496 258.4L492 254.4Z" fill="#fff" stroke="#1f6e4e" stroke-width="1.1"/><path d="M496 252.6V256.2" stroke="#1f6e4e" stroke-width="0.9"/><path d="M497.9 250.9L501.9 254.9L497.9 258.9L493.9 254.9Z" fill="#fff" stroke="#1f6e4e" stroke-width="1.1"/><path d="M497.9 253.1V256.7" stroke="#1f6e4e" stroke-width="0.9"/><path d="M500.8 251.7L504.8 255.7L500.8 259.7L496.8 255.7Z" fill="#fff" stroke="#1f6e4e" stroke-width="1.1"/><path d="M500.8 253.9V257.5" stroke="#1f6e4e" stroke-width="0.9"/><path d="M504.5 252.4L508.5 256.4L504.5 260.4L500.5 256.4Z" fill="#fff" stroke="#1f6e4e" stroke-width="1.1"/><path d="M504.5 254.6V258.2" stroke="#1f6e4e" stroke-width="0.9"/><path d="M509.6 252L513.6 256L509.6 260L505.6 256Z" fill="#fff" stroke="#1f6e4e" stroke-width="1.1"/><path d="M509.6 254.2V257.8" stroke="#1f6e4e" stroke-width="0.9"/><path d="M513.2 253.8L517.2 257.8L513.2 261.8L509.2 257.8Z" fill="#fff" stroke="#1f6e4e" stroke-width="1.1"/><path d="M513.2 256V259.6" stroke="#1f6e4e" stroke-width="0.9"/><path d="M517.6 251.4L521.6 255.4L517.6 259.4L513.6 255.4Z" fill="#fff" stroke="#1f6e4e" stroke-width="1.1"/><path d="M517.6 253.6V257.2" stroke="#1f6e4e" stroke-width="0.9"/><path d="M530 249.5L534 253.5L530 257.5L526 253.5Z" fill="#fff" stroke="#1f6e4e" stroke-width="1.1"/><path d="M530 251.7V255.3" stroke="#1f6e4e" stroke-width="0.9"/><path d="M538.8 245.1L542.8 249.1L538.8 253.1L534.8 249.1Z" fill="#fff" stroke="#1f6e4e" stroke-width="1.1"/><path d="M538.8 247.3V250.9" stroke="#1f6e4e" stroke-width="0.9"/><path d="M543.2 245.5L547.2 249.5L543.2 253.5L539.2 249.5Z" fill="#fff" stroke="#1f6e4e" stroke-width="1.1"/><path d="M543.2 247.7V251.3" stroke="#1f6e4e" stroke-width="0.9"/><path d="M551.9 244.1L555.9 248.1L551.9 252.1L547.9 248.1Z" fill="#fff" stroke="#1f6e4e" stroke-width="1.1"/><path d="M551.9 246.3V249.9" stroke="#1f6e4e" stroke-width="0.9"/><path d="M551.2 240L555.2 244L551.2 248L547.2 244Z" fill="#fff" stroke="#1f6e4e" stroke-width="1.1"/><path d="M551.2 242.2V245.8" stroke="#1f6e4e" stroke-width="0.9"/><path d="M556.3 239.7L560.3 243.7L556.3 247.7L552.3 243.7Z" fill="#fff" stroke="#1f6e4e" stroke-width="1.1"/><path d="M556.3 241.9V245.5" stroke="#1f6e4e" stroke-width="0.9"/><path d="M557.8 233.4L561.8 237.4L557.8 241.4L553.8 237.4Z" fill="#fff" stroke="#1f6e4e" stroke-width="1.1"/><path d="M557.8 235.6V239.2" stroke="#1f6e4e" stroke-width="0.9"/><path d="M560 232.7L564 236.7L560 240.7L556 236.7Z" fill="#fff" stroke="#1f6e4e" stroke-width="1.1"/><path d="M560 234.9V238.5" stroke="#1f6e4e" stroke-width="0.9"/><path d="M565.3 229.3L569.3 233.3L565.3 237.3L561.3 233.3Z" fill="#fff" stroke="#1f6e4e" stroke-width="1.1"/><path d="M565.3 231.5V235.1" stroke="#1f6e4e" stroke-width="0.9"/><path d="M568.4 223.7L572.4 227.7L568.4 231.7L564.4 227.7Z" fill="#fff" stroke="#1f6e4e" stroke-width="1.1"/><path d="M568.4 225.9V229.5" stroke="#1f6e4e" stroke-width="0.9"/><path d="M575.8 221.4L579.8 225.4L575.8 229.4L571.8 225.4Z" fill="#fff" stroke="#1f6e4e" stroke-width="1.1"/><path d="M575.8 223.6V227.2" stroke="#1f6e4e" stroke-width="0.9"/><path d="M578.7 215.8L582.7 219.8L578.7 223.8L574.7 219.8Z" fill="#fff" stroke="#1f6e4e" stroke-width="1.1"/><path d="M578.7 218V221.6" stroke="#1f6e4e" stroke-width="0.9"/><path d="M585.4 203L589.4 207L585.4 211L581.4 207Z" fill="#fff" stroke="#1f6e4e" stroke-width="1.1"/><path d="M585.4 205.2V208.8" stroke="#1f6e4e" stroke-width="0.9"/><path d="M585.9 200.9L589.9 204.9L585.9 208.9L581.9 204.9Z" fill="#fff" stroke="#1f6e4e" stroke-width="1.1"/><path d="M585.9 203.1V206.7" stroke="#1f6e4e" stroke-width="0.9"/><path d="M595.4 187.3L599.4 191.3L595.4 195.3L591.4 191.3Z" fill="#fff" stroke="#1f6e4e" stroke-width="1.1"/><path d="M595.4 189.5V193.1" stroke="#1f6e4e" stroke-width="0.9"/><path d="M605.2 178L609.2 182L605.2 186L601.2 182Z" fill="#fff" stroke="#1f6e4e" stroke-width="1.1"/><path d="M605.2 180.2V183.8" stroke="#1f6e4e" stroke-width="0.9"/><path d="M614 174.1L618 178.1L614 182.1L610 178.1Z" fill="#fff" stroke="#1f6e4e" stroke-width="1.1"/><path d="M614 176.3V179.9" stroke="#1f6e4e" stroke-width="0.9"/><path d="M618.7 172.4L622.7 176.4L618.7 180.4L614.7 176.4Z" fill="#fff" stroke="#1f6e4e" stroke-width="1.1"/><path d="M618.7 174.6V178.2" stroke="#1f6e4e" stroke-width="0.9"/><path d="M622.7 173.3L626.7 177.3L622.7 181.3L618.7 177.3Z" fill="#fff" stroke="#1f6e4e" stroke-width="1.1"/><path d="M622.7 175.5V179.1" stroke="#1f6e4e" stroke-width="0.9"/><path d="M624.5 172.4L628.5 176.4L624.5 180.4L620.5 176.4Z" fill="#fff" stroke="#1f6e4e" stroke-width="1.1"/><path d="M624.5 174.6V178.2" stroke="#1f6e4e" stroke-width="0.9"/><path d="M628.3 172.4L632.3 176.4L628.3 180.4L624.3 176.4Z" fill="#fff" stroke="#1f6e4e" stroke-width="1.1"/><path d="M628.3 174.6V178.2" stroke="#1f6e4e" stroke-width="0.9"/><path d="M637.1 172.4L641.1 176.4L637.1 180.4L633.1 176.4Z" fill="#fff" stroke="#1f6e4e" stroke-width="1.1"/><path d="M637.1 174.6V178.2" stroke="#1f6e4e" stroke-width="0.9"/><path d="M646.7 172.9L650.7 176.9L646.7 180.9L642.7 176.9Z" fill="#fff" stroke="#1f6e4e" stroke-width="1.1"/><path d="M646.7 175.1V178.7" stroke="#1f6e4e" stroke-width="0.9"/><path d="M656 172.7L660 176.7L656 180.7L652 176.7Z" fill="#fff" stroke="#1f6e4e" stroke-width="1.1"/><path d="M656 174.9V178.5" stroke="#1f6e4e" stroke-width="0.9"/><path d="M665.5 173.3L669.5 177.3L665.5 181.3L661.5 177.3Z" fill="#fff" stroke="#1f6e4e" stroke-width="1.1"/><path d="M665.5 175.5V179.1" stroke="#1f6e4e" stroke-width="0.9"/><rect x="47.9" y="18.6" width="196.6" height="107.7" fill="none" stroke="#1a1a1a" stroke-width="1.4"/><path d="M67.56 126.3v-3M67.56 18.6v3M87.22 126.3v-5.5M87.22 18.6v5.5M106.88 126.3v-3M106.88 18.6v3M126.54 126.3v-5.5M126.54 18.6v5.5M146.2 126.3v-3M146.2 18.6v3M165.86 126.3v-5.5M165.86 18.6v5.5M185.52 126.3v-3M185.52 18.6v3M205.18 126.3v-5.5M205.18 18.6v5.5M224.84 126.3v-3M224.84 18.6v3" stroke="#1a1a1a" stroke-width="1.4" fill="none"/><path d="M47.9 112.84h3M244.5 112.84h-3M47.9 99.38h5.5M244.5 99.38h-5.5M47.9 85.91h3M244.5 85.91h-3M47.9 72.45h5.5M244.5 72.45h-5.5M47.9 58.99h3M244.5 58.99h-3M47.9 45.52h5.5M244.5 45.52h-5.5M47.9 32.06h3M244.5 32.06h-3" stroke="#1a1a1a" stroke-width="1.4" fill="none"/><rect x="47.9" y="161.85" width="196.6" height="107.4" fill="none" stroke="#1a1a1a" stroke-width="1.4"/><path d="M80.67 269.25v-3M80.67 161.85v3M113.43 269.25v-5.5M113.43 161.85v5.5M146.2 269.25v-3M146.2 161.85v3M178.97 269.25v-5.5M178.97 161.85v5.5M211.73 269.25v-3M211.73 161.85v3" stroke="#1a1a1a" stroke-width="1.4" fill="none"/><path d="M47.9 177.19h5.5M244.5 177.19h-5.5M47.9 192.54h3M244.5 192.54h-3M47.9 207.88h5.5M244.5 207.88h-5.5M47.9 223.22h3M244.5 223.22h-3M47.9 238.56h5.5M244.5 238.56h-5.5M47.9 253.91h3M244.5 253.91h-3" stroke="#1a1a1a" stroke-width="1.4" fill="none"/><rect x="47.9" y="269.25" width="196.6" height="107.6" fill="none" stroke="#1a1a1a" stroke-width="1.4"/><path d="M80.67 376.85v-3M80.67 269.25v3M113.43 376.85v-5.5M113.43 269.25v5.5M146.2 376.85v-3M146.2 269.25v3M178.97 376.85v-5.5M178.97 269.25v5.5M211.73 376.85v-3M211.73 269.25v3" stroke="#1a1a1a" stroke-width="1.4" fill="none"/><path d="M47.9 358.92h5.5M244.5 358.92h-5.5M47.9 340.98h3M244.5 340.98h-3M47.9 323.05h5.5M244.5 323.05h-5.5M47.9 305.12h3M244.5 305.12h-3M47.9 287.18h5.5M244.5 287.18h-5.5" stroke="#1a1a1a" stroke-width="1.4" fill="none"/><rect x="263.4" y="18.6" width="196.6" height="107.7" fill="none" stroke="#1a1a1a" stroke-width="1.4"/><path d="M283.06 126.3v-3M283.06 18.6v3M302.72 126.3v-5.5M302.72 18.6v5.5M322.38 126.3v-3M322.38 18.6v3M342.04 126.3v-5.5M342.04 18.6v5.5M361.7 126.3v-3M361.7 18.6v3M381.36 126.3v-5.5M381.36 18.6v5.5M401.02 126.3v-3M401.02 18.6v3M420.68 126.3v-5.5M420.68 18.6v5.5M440.34 126.3v-3M440.34 18.6v3" stroke="#1a1a1a" stroke-width="1.4" fill="none"/><path d="M263.4 112.84h3M460 112.84h-3M263.4 99.38h5.5M460 99.38h-5.5M263.4 85.91h3M460 85.91h-3M263.4 72.45h5.5M460 72.45h-5.5M263.4 58.99h3M460 58.99h-3M263.4 45.52h5.5M460 45.52h-5.5M263.4 32.06h3M460 32.06h-3" stroke="#1a1a1a" stroke-width="1.4" fill="none"/><rect x="263.4" y="161.85" width="196.6" height="107.4" fill="none" stroke="#1a1a1a" stroke-width="1.4"/><path d="M296.17 269.25v-3M296.17 161.85v3M328.93 269.25v-5.5M328.93 161.85v5.5M361.7 269.25v-3M361.7 161.85v3M394.47 269.25v-5.5M394.47 161.85v5.5M427.23 269.25v-3M427.23 161.85v3" stroke="#1a1a1a" stroke-width="1.4" fill="none"/><path d="M263.4 177.19h5.5M460 177.19h-5.5M263.4 192.54h3M460 192.54h-3M263.4 207.88h5.5M460 207.88h-5.5M263.4 223.22h3M460 223.22h-3M263.4 238.56h5.5M460 238.56h-5.5M263.4 253.91h3M460 253.91h-3" stroke="#1a1a1a" stroke-width="1.4" fill="none"/><rect x="263.4" y="269.25" width="196.6" height="107.6" fill="none" stroke="#1a1a1a" stroke-width="1.4"/><path d="M296.17 376.85v-3M296.17 269.25v3M328.93 376.85v-5.5M328.93 269.25v5.5M361.7 376.85v-3M361.7 269.25v3M394.47 376.85v-5.5M394.47 269.25v5.5M427.23 376.85v-3M427.23 269.25v3" stroke="#1a1a1a" stroke-width="1.4" fill="none"/><path d="M263.4 358.92h5.5M460 358.92h-5.5M263.4 340.98h3M460 340.98h-3M263.4 323.05h5.5M460 323.05h-5.5M263.4 305.12h3M460 305.12h-3M263.4 287.18h5.5M460 287.18h-5.5" stroke="#1a1a1a" stroke-width="1.4" fill="none"/><rect x="479.5" y="18.6" width="196.6" height="107.7" fill="none" stroke="#1a1a1a" stroke-width="1.4"/><path d="M499.16 126.3v-3M499.16 18.6v3M518.82 126.3v-5.5M518.82 18.6v5.5M538.48 126.3v-3M538.48 18.6v3M558.14 126.3v-5.5M558.14 18.6v5.5M577.8 126.3v-3M577.8 18.6v3M597.46 126.3v-5.5M597.46 18.6v5.5M617.12 126.3v-3M617.12 18.6v3M636.78 126.3v-5.5M636.78 18.6v5.5M656.44 126.3v-3M656.44 18.6v3" stroke="#1a1a1a" stroke-width="1.4" fill="none"/><path d="M479.5 112.84h3M676.1 112.84h-3M479.5 99.38h5.5M676.1 99.38h-5.5M479.5 85.91h3M676.1 85.91h-3M479.5 72.45h5.5M676.1 72.45h-5.5M479.5 58.99h3M676.1 58.99h-3M479.5 45.52h5.5M676.1 45.52h-5.5M479.5 32.06h3M676.1 32.06h-3" stroke="#1a1a1a" stroke-width="1.4" fill="none"/><rect x="479.5" y="161.85" width="196.6" height="107.4" fill="none" stroke="#1a1a1a" stroke-width="1.4"/><path d="M512.27 269.25v-3M512.27 161.85v3M545.03 269.25v-5.5M545.03 161.85v5.5M577.8 269.25v-3M577.8 161.85v3M610.57 269.25v-5.5M610.57 161.85v5.5M643.33 269.25v-3M643.33 161.85v3" stroke="#1a1a1a" stroke-width="1.4" fill="none"/><path d="M479.5 177.19h5.5M676.1 177.19h-5.5M479.5 192.54h3M676.1 192.54h-3M479.5 207.88h5.5M676.1 207.88h-5.5M479.5 223.22h3M676.1 223.22h-3M479.5 238.56h5.5M676.1 238.56h-5.5M479.5 253.91h3M676.1 253.91h-3" stroke="#1a1a1a" stroke-width="1.4" fill="none"/><rect x="479.5" y="269.25" width="196.6" height="107.6" fill="none" stroke="#1a1a1a" stroke-width="1.4"/><path d="M512.27 376.85v-3M512.27 269.25v3M545.03 376.85v-5.5M545.03 269.25v5.5M577.8 376.85v-3M577.8 269.25v3M610.57 376.85v-5.5M610.57 269.25v5.5M643.33 376.85v-3M643.33 269.25v3" stroke="#1a1a1a" stroke-width="1.4" fill="none"/><path d="M479.5 358.92h5.5M676.1 358.92h-5.5M479.5 340.98h3M676.1 340.98h-3M479.5 323.05h5.5M676.1 323.05h-5.5M479.5 305.12h3M676.1 305.12h-3M479.5 287.18h5.5M676.1 287.18h-5.5" stroke="#1a1a1a" stroke-width="1.4" fill="none"/><g font-family=""Liberation Sans", sans-serif" fill="#111" stroke="#111" stroke-width="0.25"><text x="140.3" y="12.8" font-size="17.8" text-anchor="middle">LaNiSi</text><text x="368.8" y="12.8" font-size="17.8" text-anchor="middle">LaPtSi</text><text x="578.1" y="12.8" font-size="17.8" text-anchor="middle">LaPtGe</text><text x="41" y="23" font-size="13" text-anchor="end">0.4</text><text x="41" y="49.92" font-size="13" text-anchor="end">0.2</text><text x="41" y="76.85" font-size="13" text-anchor="end">0.0</text><text x="41" y="103.78" font-size="13" text-anchor="end">-0.2</text><text x="41" y="130.7" font-size="13" text-anchor="end">-0.4</text><text x="41" y="181.59" font-size="13" text-anchor="end">0.0</text><text x="41" y="212.28" font-size="13" text-anchor="end">-0.3</text><text x="41" y="242.96" font-size="13" text-anchor="end">-0.6</text><text x="41" y="273.65" font-size="13" text-anchor="end">-0.9</text><text x="41" y="291.58" font-size="13" text-anchor="end">1.0</text><text x="41" y="327.45" font-size="13" text-anchor="end">0.5</text><text x="41" y="363.32" font-size="13" text-anchor="end">0.0</text><text x="47.9" y="143.2" font-size="13" text-anchor="middle">0</text><text x="87.22" y="143.2" font-size="13" text-anchor="middle">1</text><text x="126.54" y="143.2" font-size="13" text-anchor="middle">2</text><text x="165.86" y="143.2" font-size="13" text-anchor="middle">3</text><text x="205.18" y="143.2" font-size="13" text-anchor="middle">4</text><text x="244.5" y="143.2" font-size="13" text-anchor="middle">5</text><text x="47.9" y="394.2" font-size="13" text-anchor="middle">0.0</text><text x="113.43" y="394.2" font-size="13" text-anchor="middle">0.5</text><text x="178.97" y="394.2" font-size="13" text-anchor="middle">1.0</text><text x="244.5" y="394.2" font-size="13" text-anchor="middle">1.5</text><text x="263.4" y="143.2" font-size="13" text-anchor="middle">0</text><text x="302.72" y="143.2" font-size="13" text-anchor="middle">1</text><text x="342.04" y="143.2" font-size="13" text-anchor="middle">2</text><text x="381.36" y="143.2" font-size="13" text-anchor="middle">3</text><text x="420.68" y="143.2" font-size="13" text-anchor="middle">4</text><text x="460" y="143.2" font-size="13" text-anchor="middle">5</text><text x="263.4" y="394.2" font-size="13" text-anchor="middle">0.0</text><text x="328.93" y="394.2" font-size="13" text-anchor="middle">0.5</text><text x="394.47" y="394.2" font-size="13" text-anchor="middle">1.0</text><text x="460" y="394.2" font-size="13" text-anchor="middle">1.5</text><text x="479.5" y="143.2" font-size="13" text-anchor="middle">0</text><text x="518.82" y="143.2" font-size="13" text-anchor="middle">1</text><text x="558.14" y="143.2" font-size="13" text-anchor="middle">2</text><text x="597.46" y="143.2" font-size="13" text-anchor="middle">3</text><text x="636.78" y="143.2" font-size="13" text-anchor="middle">4</text><text x="676.1" y="143.2" font-size="13" text-anchor="middle">5</text><text x="479.5" y="394.2" font-size="13" text-anchor="middle">0.0</text><text x="545.03" y="394.2" font-size="13" text-anchor="middle">0.5</text><text x="610.57" y="394.2" font-size="13" text-anchor="middle">1.0</text><text x="676.1" y="394.2" font-size="13" text-anchor="middle">1.5</text><text x="154.8" y="154" font-size="14.5" text-anchor="middle"><tspan font-style="italic">t</tspan> (µs)</text><text x="361.75" y="155" font-size="14.5" text-anchor="middle"><tspan font-style="italic">t</tspan> (µs)</text><text x="583" y="154.3" font-size="14.5" text-anchor="middle"><tspan font-style="italic">t</tspan> (µs)</text><text x="150.25" y="411" font-size="16" text-anchor="middle"><tspan font-style="italic">T</tspan>/<tspan font-style="italic">T</tspan><tspan font-size="10.5" dy="3.5">c</tspan></text><text x="365.25" y="410.6" font-size="16" text-anchor="middle"><tspan font-style="italic">T</tspan>/<tspan font-style="italic">T</tspan><tspan font-size="10.5" dy="3.5">c</tspan></text><text x="581.85" y="412.3" font-size="16" text-anchor="middle"><tspan font-style="italic">T</tspan>/<tspan font-style="italic">T</tspan><tspan font-size="10.5" dy="3.5">c</tspan></text><text transform="translate(12.3 71.75) rotate(-90)" font-size="15.5" text-anchor="middle">Asymmetry</text><text transform="translate(13 207.8) rotate(-90)" font-size="15.5" text-anchor="middle" textLength="74"><tspan font-family="Liberation Serif" font-size="16.5">Δ</tspan><tspan font-style="italic">B</tspan><tspan font-size="10.5" dy="3.5">dia</tspan><tspan dy="-3.5"> (mT)</tspan></text><text transform="translate(13.5 323.1) rotate(-90)" font-size="15.5" text-anchor="middle" textLength="58">[<tspan font-family="Liberation Serif" font-style="italic" font-size="16.5">λ</tspan><tspan font-size="10.5" dy="3.5">eff</tspan><tspan dy="-3.5">/</tspan><tspan font-family="Liberation Serif" font-style="italic" font-size="16.5">λ</tspan><tspan font-family="Liberation Serif" font-size="11" dy="3.5">0</tspan><tspan dy="-3.5">]</tspan><tspan font-size="10.5" dy="-6">-2</tspan></text><text x="60.2" y="34.6" font-size="15.5" text-anchor="start" font-weight="bold">a</text><text x="276.3" y="35" font-size="15.5" text-anchor="start" font-weight="bold">b</text><text x="491.2" y="34.6" font-size="15.5" text-anchor="start" font-weight="bold">c</text><text x="60.2" y="182.1" font-size="15.5" text-anchor="start" font-weight="bold">d</text><text x="276.4" y="180.2" font-size="15.5" text-anchor="start" font-weight="bold">e</text><text x="493.8" y="181.4" font-size="15.5" text-anchor="start" font-weight="bold">f</text><text x="59.6" y="365.6" font-size="15.5" text-anchor="start" font-weight="bold">g</text><text x="275.4" y="368" font-size="15.5" text-anchor="start" font-weight="bold">h</text><text x="494.8" y="368.6" font-size="15.5" text-anchor="start" font-weight="bold">i</text><text x="109.3" y="33.6" font-size="10" text-anchor="start">0.02 K</text><text x="166.9" y="33.6" font-size="10" text-anchor="start">2.3K</text><text x="340.6" y="33.3" font-size="10" text-anchor="start">0.02 K</text><text x="398.8" y="33.3" font-size="10" text-anchor="start">4.5 K</text><text x="557.1" y="32" font-size="10" text-anchor="start">0.02 K</text><text x="614.9" y="32" font-size="10" text-anchor="start">5 K</text><text x="235.8" y="228.4" font-size="11.6" text-anchor="end"><tspan font-family="Liberation Serif" font-size="12.5">µ</tspan><tspan font-family="Liberation Serif" font-size="8.6" dy="3.3">0</tspan><tspan dy="-3.3" font-style="italic">H</tspan> = 15 mT</text><text x="453.8" y="227.3" font-size="11.6" text-anchor="end"><tspan font-family="Liberation Serif" font-size="12.5">µ</tspan><tspan font-family="Liberation Serif" font-size="8.6" dy="3.3">0</tspan><tspan dy="-3.3" font-style="italic">H</tspan> = 20 mT</text><text x="670.3" y="227.2" font-size="11.6" text-anchor="end"><tspan font-family="Liberation Serif" font-size="12.5">µ</tspan><tspan font-family="Liberation Serif" font-size="8.6" dy="3.3">0</tspan><tspan dy="-3.3" font-style="italic">H</tspan> = 30 mT</text><text x="189" y="291.1" font-size="10.8" textLength="37.6" lengthAdjust="spacingAndGlyphs">TF-µSR</text><text x="410.3" y="291.8" font-size="10.8" textLength="40.4" lengthAdjust="spacingAndGlyphs">TF-µSR</text><text x="624.5" y="291.1" font-size="10.8" textLength="38" lengthAdjust="spacingAndGlyphs">TF-µSR</text><text x="171.9" y="306.6" font-size="11.2" textLength="57.4"><tspan font-style="italic">T</tspan><tspan font-size="8" dy="3">c</tspan><tspan dy="-3"> = 1.15 K</tspan></text><text x="392" y="308.1" font-size="11.2" textLength="57.2"><tspan font-style="italic">T</tspan><tspan font-size="8" dy="3">c</tspan><tspan dy="-3"> = 3.40 K</tspan></text><text x="607.5" y="307" font-size="11.2" textLength="57.9"><tspan font-style="italic">T</tspan><tspan font-size="8" dy="3">c</tspan><tspan dy="-3"> = 3.15 K</tspan></text><text x="56" y="325.8" font-size="11.2" textLength="73.3"><tspan font-family="Liberation Serif" font-size="12">Δ</tspan><tspan font-family="Liberation Serif" font-size="8.6" dy="3.5">0</tspan><tspan dy="-3.5"> = 1.95 </tspan><tspan font-style="italic">k</tspan><tspan font-size="8" dy="2.5">B</tspan><tspan dy="-2.5" font-style="italic">T</tspan><tspan font-size="8" dy="2.5">c</tspan></text><text x="272" y="326.5" font-size="11.2" textLength="73.3"><tspan font-family="Liberation Serif" font-size="12">Δ</tspan><tspan font-family="Liberation Serif" font-size="8.6" dy="3.5">0</tspan><tspan dy="-3.5"> = 1.80 </tspan><tspan font-style="italic">k</tspan><tspan font-size="8" dy="2.5">B</tspan><tspan dy="-2.5" font-style="italic">T</tspan><tspan font-size="8" dy="2.5">c</tspan></text><text x="486.4" y="327.1" font-size="11.2" textLength="66.8"><tspan font-family="Liberation Serif" font-size="12">Δ</tspan><tspan font-family="Liberation Serif" font-size="8.6" dy="3.5">0</tspan><tspan dy="-3.5"> = 2.1 </tspan><tspan font-style="italic">k</tspan><tspan font-size="8" dy="2.5">B</tspan><tspan dy="-2.5" font-style="italic">T</tspan><tspan font-size="8" dy="2.5">c</tspan></text><text x="56" y="343.6" font-size="11.2" textLength="62.1"><tspan font-family="Liberation Serif" font-style="italic" font-size="12">λ</tspan><tspan font-family="Liberation Serif" font-size="8.6" dy="3.5">0</tspan><tspan dy="-3.5"> = 300 nm</tspan></text><text x="272" y="345.9" font-size="11.2" textLength="60"><tspan font-family="Liberation Serif" font-style="italic" font-size="12">λ</tspan><tspan font-family="Liberation Serif" font-size="8.6" dy="3.5">0</tspan><tspan dy="-3.5">= 228 nm</tspan></text><text x="486.4" y="344.5" font-size="11.2" textLength="62.8"><tspan font-family="Liberation Serif" font-style="italic" font-size="12">λ</tspan><tspan font-family="Liberation Serif" font-size="8.6" dy="3.5">0</tspan><tspan dy="-3.5"> = 219 nm</tspan></text></g><rect x="93" y="28.3" width="4.2" height="4.2" fill="none" stroke="#cc1414" stroke-width="1.0"/><rect x="150.6" y="28.3" width="4.2" height="4.2" fill="none" stroke="#f77c82" stroke-width="1.0"/><circle cx="326.6" cy="30.4" r="2.3" fill="none" stroke="#1f6fae" stroke-width="1.0"/><circle cx="384.5" cy="30.4" r="2.3" fill="none" stroke="#4fb6ee" stroke-width="1.0"/><path d="M543 26L545.8 28.8L543 31.6L540.2 28.8Z" fill="none" stroke="#236f52" stroke-width="1.0"/><path d="M600.8 26L603.6 28.8L600.8 31.6L598 28.8Z" fill="none" stroke="#a5db7a" stroke-width="1.0"/><rect x="173.7" y="285" width="6" height="6" fill="#cc0000" stroke="#cc0000" stroke-width="0"/><circle cx="396.35" cy="288.3" r="3.4" fill="#0066b3" stroke="#0066b3" stroke-width="0"/><path d="M612.3 283.2L616.7 287.6L612.3 292L607.9 287.6Z" fill="#02603f" stroke="#02603f" stroke-width="0"/></svg></body></html>
